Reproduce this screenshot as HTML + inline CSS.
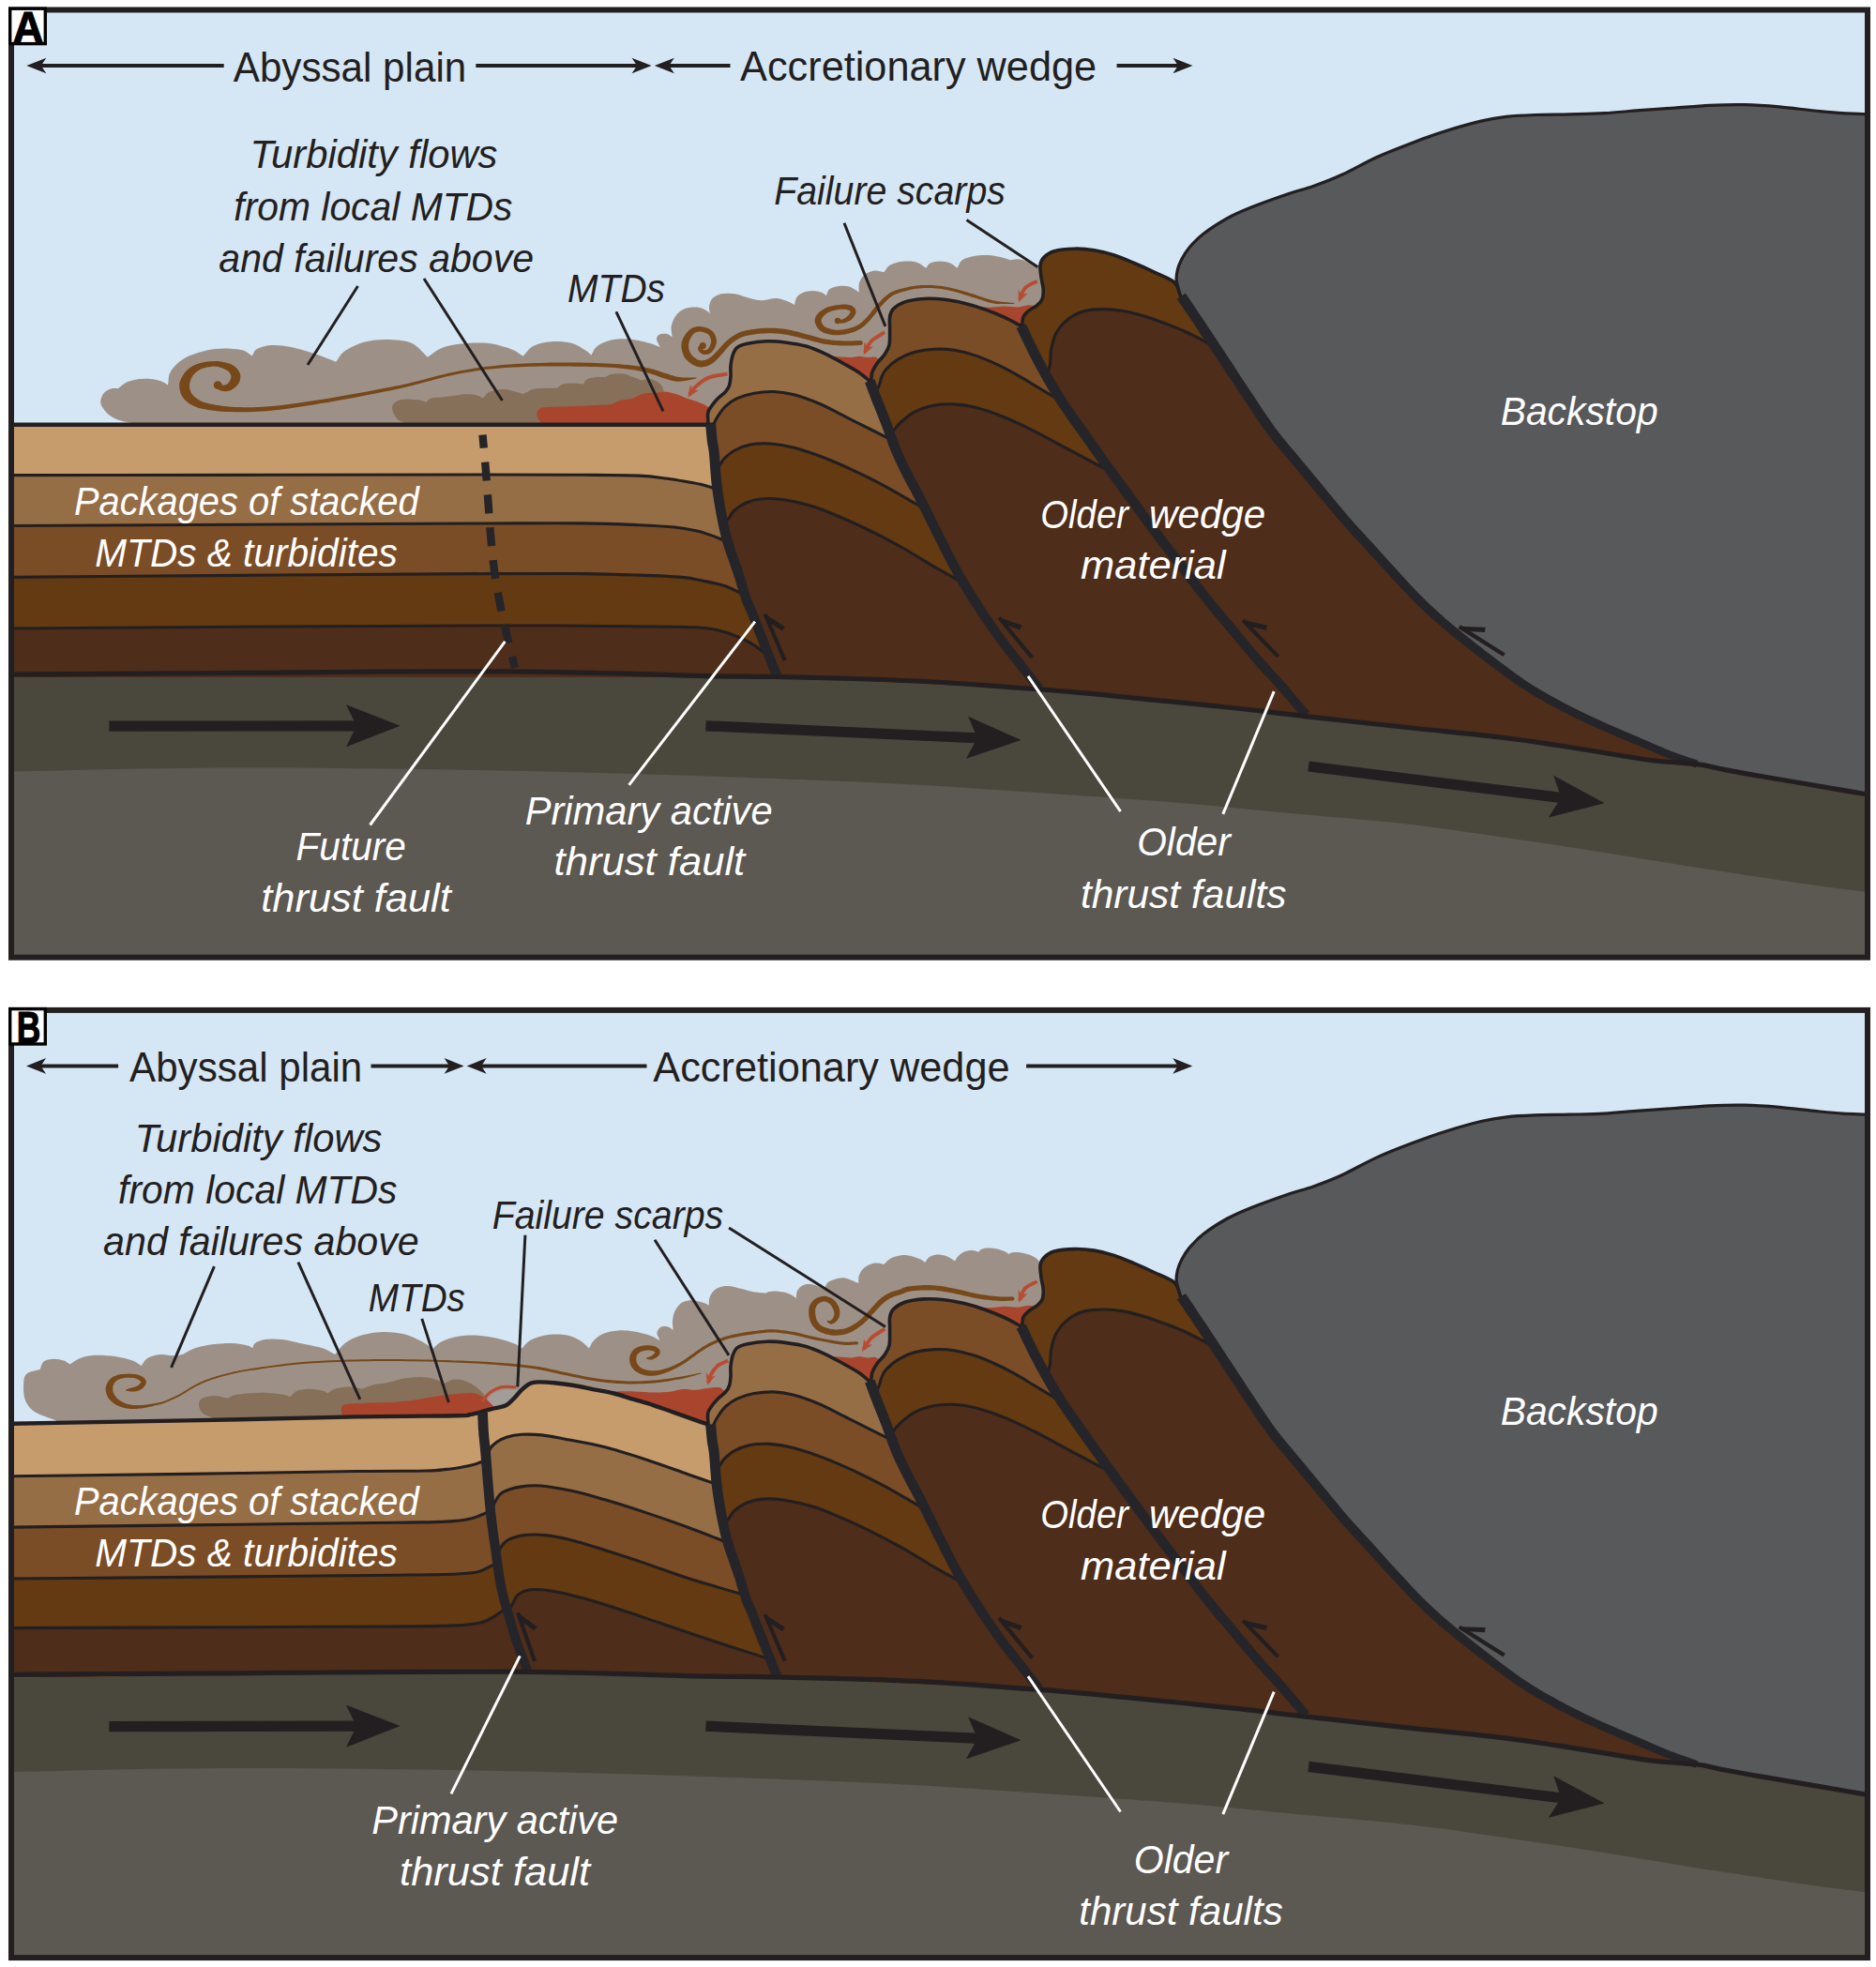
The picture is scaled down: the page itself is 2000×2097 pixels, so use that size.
<!DOCTYPE html>
<html><head><meta charset="utf-8"><title>Accretionary wedge</title>
<style>html,body{margin:0;padding:0;background:#fff}svg{display:block}text{font-family:"Liberation Sans",sans-serif}</style></head><body>
<svg width="2000" height="2097" viewBox="0 0 2000 2097">
<rect width="2000" height="2097" fill="#fff"/>
<g id="panelA">
<rect x="12" y="10" width="1979" height="1011" fill="#d5e6f5"/>
<path d="M12 719C44.7 718.8 67 718.6 110 718.3C153 718 221.7 717.6 270 717.3C318.3 716.9 355 716.5 400 716.2C445 716 500 715.6 540 715.8C580 716 606.7 716.7 640 717.5C673.3 718.3 709.2 719.7 740 720.4C770.8 721.1 796.7 721 825 721.5C853.3 722 881.5 722.6 910 723.5C938.5 724.4 967.5 725.4 996 727C1024.5 728.6 1057 731.3 1081 733C1105 734.7 1119.2 735.6 1140 737.4C1160.8 739.2 1177.2 740.9 1206 743.8C1234.8 746.6 1281.8 751.2 1313 754.5C1344.2 757.8 1361.8 760.3 1393 763.8C1424.2 767.3 1465.5 771.8 1500 775.5C1534.5 779.2 1573.3 782.8 1600 786C1626.7 789.2 1640.2 791.5 1660 794.5C1679.8 797.5 1701.7 801.2 1719 804C1736.3 806.8 1749 809.2 1764 811C1779 812.8 1796.5 813 1809 814.6C1821.5 816.2 1827.2 818.4 1839 820.6C1850.8 822.8 1864.8 825.4 1880 828C1895.2 830.6 1911.5 833.3 1930 836.5C1948.5 839.7 1970.7 843.5 1991 847L1991 1021L12 1021Z" fill="#4a473d"/>
<path d="M12 822.5C79 821.3 144 819.2 213 818.8C282 818.3 354.8 818.9 426 819.8C497.2 820.7 568.8 822.1 640 824C711.2 825.9 793 828.7 853 831C913 833.3 940 834.4 1000 838C1060 841.6 1163 848.9 1213 852.5C1263 856.1 1273.3 857.3 1300 859.7C1326.7 862.1 1339.7 863.7 1373 866.8C1406.3 869.9 1461 874.1 1500 878.5C1539 882.9 1571.5 888.1 1607 893.2C1642.5 898.3 1677.5 903.7 1713 909.2C1748.5 914.8 1784.5 921 1820 926.5C1855.5 932 1897.5 938.4 1926 942.5C1954.5 946.6 1969.3 948.2 1991 951L1991 1021L12 1021Z" fill="#5c5852"/>
<path d="M150 453C140.7 450.7 129 449.5 122 446C115 442.5 110 436.3 108 432C106 427.7 108.3 422.9 110 420C111.7 417.1 115.8 415.6 118.4 414.6C121 413.6 123.3 414.3 125.8 414.2C128.9 412 131.6 409.1 135 407.5C138.4 405.9 141.8 405 146.1 404.4C150.4 403.8 156.7 403.6 161 404C165.3 404.4 169 405.4 172 406.5C175 407.6 176.7 409.1 179 410.4C180.1 405.4 178.9 400.4 182.3 395.4C185.7 390.4 191.6 384.4 199.4 380.5C207.2 376.6 219.7 373.2 229.3 372C238.9 370.8 250.4 371.8 257 373C263.6 374.2 264.8 377.3 268.7 379.4C270.5 376.9 270.6 373.9 274 372C277.4 370.1 282.9 368.4 289 368C295.1 367.6 302.5 368.3 310.3 369.9C318.1 371.4 327.9 374.6 335.9 377.3C343.9 380 350.8 383 358.2 385.8C361.4 381.9 362.6 377.7 367.8 374.1C373 370.6 381.7 366.5 389.2 364.5C396.7 362.5 404.4 361.8 412.6 362C420.8 362.2 431 362.5 438.2 365.6C445.4 368.7 450.1 375.7 456 380.7C460.8 377.5 464.4 373.6 470.4 371.2C476.3 368.8 483.5 367.4 491.7 366.5C499.9 365.6 510.5 364.9 519.4 365.8C528.3 366.8 538.6 369.9 545 372.2C551.4 374.5 553.5 377.2 557.8 379.7C561.3 376.1 563.4 371.6 568.4 369C573.4 366.4 580.8 364.8 587.6 364.3C594.4 363.8 603 364.3 609 365.8C615 367.3 620.4 371.2 623.9 373.3C627.4 375.4 628.2 376.8 630.3 378.6C632.4 375.4 633.2 371.7 636.7 369C640.2 366.3 645.9 363.8 651.6 362.6C657.3 361.4 664 361.1 670.8 361.6C677.5 362.1 686.6 364.4 692.1 365.8C697.6 367.2 699.9 368.7 703.8 370.1C702.5 367.4 700.2 364.2 700 362C699.8 359.8 701 357.7 702.8 356.7C704.5 355.7 708.2 355.4 710.5 355.8C712.8 356.2 714.5 358.1 716.5 359.3C716.3 355.3 715 351.3 715.8 347.4C716.5 343.5 718.5 339.1 721 336C723.5 332.9 726.6 330.5 730.5 329.1C734.4 327.7 740.6 327.4 744.4 327.7C748.2 328 751.3 330 753.4 331.2C755.5 332.4 755.7 333.5 756.8 334.7C756.6 331.9 755.6 329.1 756.1 326.3C756.6 323.5 757.4 320.2 759.6 318C761.8 315.8 765.4 314 769.3 313.2C773.2 312.4 778.6 312.5 783.2 313.2C787.8 313.9 792.6 316.1 797 317.3C801.4 318.5 806 319.8 809.5 320.1C813 320.5 815 319.6 817.8 319.4C821 318.9 824 317.8 827.5 318C831 318.2 835.4 319.7 838.6 320.8C841.8 321.9 844.1 323.5 846.9 324.9C847.8 322.1 848.1 318.8 849.7 316.6C851.3 314.4 853.8 312.9 856.6 311.8C859.4 310.7 863.1 310 866.3 310C869.5 310 873.6 310.9 876 311.8C878.4 312.7 879.3 314.1 880.9 315.2C882 312.9 882.1 310 884.3 308.3C886.5 306.6 890.5 305.4 894 304.9C897.5 304.4 902.1 304.8 905.1 305.5C908.1 306.2 910.2 308 912 309C913.8 310 914.5 310.7 915.7 311.5C915.8 308.3 915.1 304.8 916 301.8C916.9 298.8 918.6 295.5 921.3 293.3C924 291.1 928.5 289.1 932 288.6C935.5 288.1 939.1 289.6 942.6 290.1C944.7 287.6 945.8 284.5 949 282.6C952.2 280.7 957.2 279.3 961.8 278.8C966.4 278.3 972.5 278.2 976.8 279.4C981.1 280.6 983.9 283.7 987.4 285.8C988.8 284 989.2 281.7 991.7 280.5C994.2 279.3 998.8 278.4 1002.3 278.4C1005.8 278.4 1010 279.3 1013 280.5C1016 281.7 1018 284 1020.5 285.8C1022.3 283 1022.8 279.4 1025.8 277.3C1028.8 275.2 1034 273.9 1038.6 273C1043.2 272.1 1048.9 271.8 1053.5 272C1058.1 272.2 1062.4 273.2 1066.3 274.1C1070.2 275 1073.4 276.2 1077 277.3C1079.8 276.9 1082.3 275.9 1085.5 276.2C1088.7 276.5 1092.5 277.8 1096.2 279.4C1099.9 281 1104 283.7 1107.9 285.8L1115 300L1115 460L150 460Z" fill="#9d9187"/>
<path d="M440 453C435 451.3 428.6 450.8 425 448C421.4 445.2 418.7 439.4 418.1 436.2C417.5 433 419 430.5 421.3 428.7C423.6 426.9 427.7 425.9 432 425.5C436.3 425.1 443.2 426.1 446.9 426.6C450.6 427.1 451.9 428 454.4 428.7C456.2 427.3 457 425.4 459.7 424.5C462.4 423.6 466.8 423.8 470.4 423.4C473.9 423 476.8 422.8 481 422.3C485.2 421.8 491.6 420.4 495.9 420.2C500.2 420 503.8 420.3 507 421C510.2 421.7 512.4 423.3 515.1 424.5C517.2 422.4 517.9 419.7 521.5 418.1C525.1 416.5 531.5 414.9 536.5 414.9C541.5 414.9 547.9 417.2 551.4 418.1C554.9 419 555.7 419.5 557.8 420.2C561.3 418.4 564.1 416 568.4 414.9C572.7 413.8 579.1 414 583.4 413.8C587.7 413.6 590.5 413.8 594 413.8C596.1 412.4 597.5 410.5 600.4 409.6C603.2 408.7 607.5 408.5 611.1 408.5C614.7 408.5 618.2 409.2 621.7 409.6C623.1 407.8 623.5 405.4 626 404.2C628.5 402.9 633.5 402.5 636.7 402.1C639.9 401.8 642.4 402.1 645.2 402.1C647.3 401 648.4 399.5 651.6 398.9C654.8 398.3 660.5 398 664.4 398.5C668.3 399 671.9 401 675.1 402.1C678.3 403.2 680.8 404.2 683.6 405.3C687.1 404.9 691 403.7 694.2 404.2C697.4 404.7 700.7 406.7 702.8 408.5C704.9 410.3 706 412.1 707 414.9C708 417.6 708.3 421.6 709 425L709 456L440 456Z" fill="#86705a"/>
<path d="M579 453C576.8 450 573.2 446.8 572.5 444C571.8 441.2 573 437.8 574.8 436.2C576.6 434.6 577 434.6 583.4 434.1C589.8 433.6 604.7 433.4 613.2 433C621.7 432.6 628.1 432.2 634.5 431.9C640.9 431.5 647 431.8 651.6 430.9C656.2 430 658.4 427.7 662.3 426.6C666.2 425.5 671.5 425.6 675.1 424.5C678.7 423.4 679.7 421.2 683.6 420.2C687.5 419.2 693.9 419 698.5 418.6C703.1 418.2 706.6 417.3 711 417.8C715.4 418.3 721.3 420.5 725 421.7C728.7 422.9 729.8 423.8 733.3 425C736.8 426.2 742.1 427.8 745.7 429.2C749.3 430.6 752.3 431.9 754.7 433.7C757.1 435.5 758.2 437.9 760 440L760 456L579 456Z" fill="#a9452c"/>
<path d="M886 379.5L896.8 380.4L907.9 381.1L916.2 379.7L924.5 381.1L932.8 380.4L938.4 383.2L946 383L946 412L900 412Z" fill="#a9452c"/>
<path d="M1042 327L1055.7 327.8L1070.6 326.4L1085.5 327.4L1096.2 325.3L1104 326L1104 352L1060 352Z" fill="#a9452c"/>
<path d="M230.4 413L230.8 413.3L231.2 413.7L231.7 414.1L232.2 414.6L232.9 415.2L233.7 415.7L234.7 416.2L235.8 416.5L236.8 416.8L237.9 417L238.9 417.1L240.1 417.2L241.3 417.2L242.5 417.1L243.8 416.8L245.1 416.4L246.3 415.9L247.5 415.3L248.6 414.6L249.7 413.8L250.8 412.9L251.7 412L252.7 411L253.5 410L254.2 409L254.8 407.9L255.3 406.7L255.8 405.4L256.1 404.1L256.4 402.7L256.4 401.2L256.3 399.6L255.9 398.2L255.3 396.9L254.6 395.6L253.8 394.4L252.9 393.2L252 392.2L250.9 391.2L249.7 390.2L248.5 389.4L247.1 388.7L245.8 388.1L244.4 387.6L243 387.2L241.6 386.8L240.3 386.5L238.9 386.2L237.6 385.9L236.3 385.6L234.9 385.4L233.5 385.2L232.1 385.1L230.6 385L229 385.1L227.4 385.2L225.6 385.2L223.8 385.3L221.8 385.5L219.8 385.7L217.7 386L215.7 386.4L213.7 386.9L211.9 387.5L210.1 388L208.4 388.7L206.7 389.5L205.1 390.3L203.6 391.3L202.1 392.3L200.7 393.4L199.3 394.7L198 396.1L196.8 397.6L195.6 399.2L194.5 400.9L193.6 402.6L192.7 404.4L192 406.2L191.4 408L191.2 409.9L191.2 411.8L191.3 413.6L191.6 415.4L192 417.1L192.5 418.8L193.1 420.3L193.8 421.8L194.7 423.3L195.7 424.6L196.7 425.9L197.9 427.1L199.2 428.3L200.6 429.3L202 430.4L203.5 431.3L205 432.1L206.5 432.8L208.2 433.6L209.9 434.3L211.9 435L214.1 435.6L216.5 436.1L219.3 436.6L222.3 437.1L225.7 437.6L229.3 438L233.2 438.4L237.2 438.7L241.5 439L246 439.1L250.5 439.2L255.2 439.3L259.9 439.3L264.8 439.2L269.9 439.1L275.2 438.8L280.9 438.4L287 437.9L293.4 437.3L300.5 436.5L308 435.4L316 434.3L324.2 433L332.6 431.7L341 430.3L349.4 428.9L357.5 427.5L365.8 426L374.5 424.4L383.3 422.7L392.1 421L400.5 419.4L408.4 417.8L415.4 416.4L421.3 415.2L425.9 414.2L429.2 413.5L431.6 413L433.5 412.5L435.2 412L437.1 411.5L439.6 410.9L443 410L447.3 408.9L452.2 407.6L457.5 406.2L463 404.7L468.7 403.2L474.5 401.7L480.1 400.4L485.6 399.2L490.9 398.2L496.2 397.3L501.5 396.4L506.8 395.6L512.1 394.8L517.4 394.1L522.7 393.5L528.1 392.9L533.4 392.5L538.7 392.1L544 391.7L549.3 391.4L554.7 391.2L560 391L565.3 390.8L570.7 390.7L576 390.6L581.3 390.5L586.6 390.5L591.9 390.5L597.2 390.5L602.5 390.5L607.9 390.6L613.2 390.7L618.6 390.8L624.1 390.8L629.6 390.9L635.2 391.1L640.6 391.2L645.9 391.4L651 391.7L655.8 392L660.3 392.4L664.7 392.9L668.9 393.4L672.9 394L676.7 394.6L680.4 395.3L683.9 395.9L687.3 396.6L690.4 397.4L693.3 398.2L696.1 399.2L698.7 400.1L701.2 401L703.6 402L706 402.8L708.4 403.6L710.5 404.1L712.5 404.7L714.3 405.2L716.1 405.7L717.9 406.1L719.8 406.4L721.8 406.7L724 406.8L726.2 406.6L728.5 406.3L730.9 406L733.2 405.5L735.5 405L737.9 404.5L740.2 404L742.5 403.6L742.3 402.4L740 402.4L737.6 402.4L735.2 402.5L732.9 402.5L730.6 402.5L728.3 402.5L726.2 402.3L724.2 402L722.4 401.8L720.7 401.4L719.1 401L717.6 400.5L715.9 400L714.1 399.4L712.2 398.7L710 398L707.8 397.4L705.5 396.7L703 395.8L700.4 395L697.7 394.1L694.8 393.3L691.6 392.5L688.3 391.8L684.8 391.1L681.2 390.6L677.4 390L673.5 389.5L669.4 389.1L665.1 388.7L660.7 388.3L656 388L651.2 387.7L646.1 387.4L640.7 387.2L635.3 387L629.7 386.8L624.2 386.7L618.6 386.6L613.2 386.5L607.9 386.5L602.6 386.5L597.2 386.5L591.9 386.6L586.6 386.6L581.2 386.8L575.9 386.9L570.5 387.1L565.2 387.3L559.9 387.5L554.5 387.8L549.2 388.1L543.8 388.4L538.4 388.8L533.1 389.3L527.7 389.9L522.4 390.5L517.1 391.1L511.7 391.8L506.4 392.6L501 393.4L495.7 394.4L490.4 395.3L485 396.4L479.5 397.5L473.8 398.9L468 400.3L462.3 401.8L456.7 403.3L451.4 404.7L446.5 405.9L442.2 407L438.8 407.8L436.3 408.5L434.4 408.9L432.7 409.3L430.9 409.8L428.5 410.3L425.2 410.9L420.7 411.8L414.7 413L407.7 414.3L399.8 415.8L391.4 417.4L382.6 419L373.8 420.6L365.1 422.1L356.9 423.5L348.7 424.9L340.4 426.2L331.9 427.5L323.6 428.8L315.3 430L307.4 431L299.9 432L293 432.7L286.6 433.3L280.6 433.7L275 434L269.7 434.2L264.7 434.2L259.9 434.2L255.2 434.1L250.7 434L246.2 433.7L241.9 433.3L237.8 432.9L233.9 432.3L230.2 431.7L226.7 431.1L223.6 430.4L220.7 429.8L218.3 429.1L216.3 428.4L214.6 427.7L213.2 427L211.9 426.2L210.8 425.5L209.6 424.6L208.5 423.7L207.4 422.9L206.5 422.1L205.7 421.3L205.1 420.5L204.5 419.7L204 418.8L203.6 418L203.2 417.2L202.8 416.3L202.5 415.4L202.3 414.5L202.1 413.5L202 412.6L202 411.7L202 410.8L202.2 410L202.2 409L202.5 407.8L202.8 406.5L203.2 405.2L203.8 403.8L204.4 402.6L205 401.4L205.7 400.3L206.5 399.3L207.3 398.4L208.2 397.4L209.3 396.6L210.4 395.7L211.6 395L212.8 394.2L214.1 393.5L215.6 393L217.2 392.5L218.9 392L220.7 391.6L222.6 391.3L224.4 391L226.1 390.8L227.6 390.6L229 390.7L230.3 390.8L231.5 390.9L232.6 391.1L233.8 391.4L234.9 391.7L236 392L237.1 392.4L238.2 392.9L239.3 393.4L240.4 393.9L241.4 394.5L242.3 395L243.1 395.6L243.8 396.2L244.3 396.8L244.7 397.3L245.1 397.9L245.5 398.6L245.8 399.3L246.1 399.9L246.2 400.5L246.3 401L246.3 401.4L246.3 401.6L246.4 401.9L246.4 402.3L246.3 402.8L246.2 403.3L246 403.8L245.7 404.4L245.5 405L245.2 405.5L244.9 406.2L244.4 406.9L243.9 407.5L243.4 408.2L242.9 408.7L242.3 409.2L241.9 409.6L241.5 409.9L241 410.1L240.4 410.3L239.7 410.5L239 410.6L238.3 410.6L237.7 410.7L237.2 410.7L236.9 410.6L236.7 410.5L236.5 410.3L236.1 410L235.7 409.7L235.2 409.2L234.6 408.7L234 408.2Z" fill="#774819"/>
<circle cx="232.2" cy="410.6" r="4.4" fill="#774819"/>
<path d="M748 367L747.6 367.3L747.2 367.6L746.6 367.9L746 368.3L745.4 368.8L744.7 369.4L744.2 370.4L744 371.7L744.2 372.7L744.6 373.6L745.2 374.4L745.8 375.3L746.6 376L747.4 376.7L748.4 377.3L749.5 377.7L750.6 377.9L751.7 377.9L752.9 377.9L754.1 377.7L755.3 377.4L756.5 376.9L757.7 376.2L758.9 375.3L759.8 374.3L760.7 373.1L761.5 371.8L762.2 370.4L762.9 368.8L763.4 367.3L763.8 365.7L764 364L763.9 362.5L763.6 360.9L763.2 359.3L762.6 357.8L761.9 356.3L761 354.9L760 353.6L758.8 352.4L757.4 351.4L755.9 350.6L754.3 349.8L752.6 349.3L750.9 348.8L749.3 348.4L747.6 348.2L746.1 348.1L744.6 348.1L743.2 348.1L741.7 348.4L740.3 348.7L738.9 349.2L737.5 349.9L736.1 350.7L734.9 351.7L733.6 352.9L732.4 354.3L731.2 355.8L730.1 357.4L729 359.2L728.1 361L727.3 362.9L726.7 364.8L726.5 366.7L726.4 368.7L726.5 370.7L726.8 372.6L727.2 374.5L727.7 376.3L728.4 378.1L729.1 379.8L730.1 381.4L731.3 382.9L732.6 384.2L733.9 385.4L735.3 386.5L736.6 387.5L737.9 388.4L739.2 389.1L740.4 389.8L741.7 390.3L742.9 390.8L744.2 391.1L745.5 391.3L746.8 391.4L748 391.4L749.3 391.3L750.6 391.1L751.9 390.8L753.3 390.4L754.6 390L755.9 389.4L757.2 388.8L758.5 388L759.8 387.2L761.1 386.3L762.3 385.2L763.5 384.1L764.7 382.9L765.8 381.7L767 380.5L768.1 379.3L769.2 378.1L770.3 376.8L771.5 375.5L772.6 374.1L773.7 372.8L774.7 371.5L775.8 370.3L776.9 369.1L777.9 368.1L779.1 367.1L780.2 366.1L781.4 365.1L782.6 364.2L783.7 363.4L784.9 362.6L786.1 361.9L787.3 361.2L788.5 360.5L789.7 360L790.7 359.5L791.8 359.1L793 358.7L794.3 358.3L795.8 357.9L797.5 357.5L799.6 357.2L801.9 356.8L804.5 356.4L807.1 356.1L809.8 355.8L812.6 355.6L815.3 355.4L817.9 355.3L820.4 355.3L822.9 355.3L825.5 355.4L828 355.6L830.5 355.8L833.1 356.1L835.6 356.4L838.2 356.8L840.7 357.2L843.2 357.7L845.7 358.3L848.3 358.9L850.9 359.6L853.5 360.3L856.1 361L858.7 361.6L861.3 362.3L863.9 363L866.5 363.7L869.1 364.4L871.7 365.1L874.4 365.8L877.1 366.4L879.8 366.9L882.5 367.3L885.2 367.6L888 367.9L890.7 368.1L893.4 368.2L896 368.4L898.5 368.5L900.9 368.5L903.2 368.6L905.4 368.6L907.5 368.5L909.5 368.4L911.5 368.3L913.4 368.2L915.3 368.1L917.3 368L917.1 363L915.1 363.1L913.1 363.2L911.2 363.3L909.3 363.4L907.3 363.4L905.3 363.5L903.3 363.5L901.1 363.5L898.7 363.4L896.2 363.3L893.7 363.1L891.1 362.9L888.4 362.7L885.8 362.5L883.2 362.1L880.6 361.7L878.1 361.2L875.6 360.7L873.1 360L870.5 359.3L867.9 358.6L865.3 357.8L862.7 357.1L860.1 356.4L857.5 355.7L854.9 355L852.3 354.3L849.7 353.6L847.1 352.9L844.4 352.3L841.7 351.7L839 351.2L836.4 350.8L833.7 350.5L831.1 350.2L828.4 350L825.7 349.8L823.1 349.7L820.4 349.7L817.7 349.7L815 349.8L812.2 350L809.3 350.2L806.5 350.5L803.7 350.9L801.1 351.3L798.7 351.7L796.5 352.1L794.5 352.5L792.8 352.9L791.3 353.3L789.9 353.8L788.5 354.3L787.2 354.9L786 355.5L784.7 356.2L783.3 357L781.9 357.9L780.5 358.7L779.2 359.7L777.9 360.7L776.6 361.7L775.3 362.8L774.1 363.9L772.8 365.1L771.5 366.4L770.4 367.7L769.2 369L768.1 370.3L767 371.6L765.9 372.8L764.8 373.9L763.7 375.1L762.5 376.2L761.4 377.4L760.3 378.5L759.2 379.5L758.2 380.4L757.2 381.1L756.2 381.8L755.2 382.4L754.2 382.8L753.3 383.3L752.3 383.6L751.3 383.9L750.4 384.1L749.5 384.2L748.7 384.3L747.9 384.4L747.1 384.3L746.4 384.3L745.7 384.1L745 383.9L744.3 383.7L743.6 383.3L742.8 382.9L741.9 382.3L740.9 381.6L739.8 380.8L738.8 379.9L737.9 379L737 378L736.4 377.1L735.9 376.2L735.4 375.2L735 374L734.6 372.7L734.3 371.3L734.2 370L734.1 368.6L734.1 367.3L734.3 366.2L734.5 365.1L734.9 363.8L735.4 362.3L736.1 360.9L736.8 359.5L737.6 358.3L738.4 357.1L739.1 356.3L739.8 355.6L740.6 355L741.3 354.6L742.1 354.2L743 353.9L743.9 353.7L744.9 353.6L745.9 353.5L747 353.6L748.3 353.8L749.6 354.1L751 354.5L752.3 354.9L753.5 355.5L754.5 356L755.2 356.6L755.8 357.2L756.3 358L756.8 358.9L757.3 360L757.6 361L757.9 362.1L758 363.1L758 364L758 364.8L757.8 365.8L757.5 366.9L757.1 368.1L756.6 369.2L756.1 370.2L755.6 371.1L755.1 371.7L754.7 372.1L754.2 372.4L753.6 372.7L752.9 373L752.2 373.2L751.5 373.3L750.9 373.3L750.5 373.3L750.2 373.2L749.8 373.1L749.4 372.8L748.9 372.4L748.5 371.9L748.2 371.5L748 371.2L748 371.3L747.9 371.8L747.8 372L748 371.9L748.3 371.6L748.8 371.3L749.3 371L749.9 370.6L750.4 370.2Z" fill="#774819"/>
<circle cx="749.2" cy="368.6" r="3.6" fill="#774819"/>
<circle cx="917.2" cy="365.5" r="2.5" fill="#774819"/>
<path d="M892.7 344L893.3 344.1L893.9 344.2L894.5 344.3L895.2 344.5L896.1 344.6L897 344.7L898 344.6L899 344.4L900 344.2L901.1 343.9L902.3 343.5L903.5 343L904.6 342.5L905.8 341.9L906.9 341.2L907.9 340.5L908.8 339.6L909.6 338.7L910.3 337.7L911 336.7L911.6 335.6L912.1 334.4L912.4 333.1L912.5 331.8L912.2 330.4L911.7 329.3L911 328.3L910.1 327.4L909.2 326.7L908.1 326.1L907 325.5L905.8 325.2L904.5 324.9L903.1 324.7L901.7 324.6L900.1 324.6L898.6 324.6L896.9 324.7L895.3 324.9L893.7 325.1L892 325.3L890.2 325.6L888.4 325.9L886.4 326.3L884.5 326.8L882.6 327.3L880.8 328L879.1 328.9L877.5 329.8L875.9 330.9L874.4 332.1L872.9 333.3L871.6 334.7L870.4 336.3L869.4 338L868.8 339.9L868.6 341.8L868.9 343.7L869.4 345.6L870.2 347.3L871.1 348.9L872.3 350.5L873.6 351.9L875.1 353.1L876.8 354.1L878.6 354.9L880.6 355.6L882.6 356.2L884.7 356.6L886.7 356.9L888.8 357.2L890.8 357.3L892.9 357.3L894.9 357.2L897 357L899.1 356.7L901.1 356.4L903 355.9L904.9 355.5L906.7 355L908.4 354.5L910 354L911.6 353.4L913.1 352.7L914.6 352L916 351.3L917.4 350.4L918.8 349.5L920.2 348.5L921.5 347.4L922.8 346.3L924 345.1L925.2 343.9L926.4 342.6L927.5 341.4L928.7 340L929.9 338.6L931.2 337.1L932.4 335.5L933.5 333.9L934.7 332.4L935.9 330.8L937 329.4L938.2 328L939.4 326.6L940.6 325.2L941.9 323.9L943.1 322.6L944.3 321.3L945.5 320.2L946.7 319.1L947.8 318.1L948.9 317.3L949.8 316.5L950.6 315.9L951.4 315.3L952.3 314.8L953.3 314.3L954.5 313.8L956 313.2L957.9 312.5L960 311.8L962.2 311.1L964.7 310.4L967.2 309.7L969.8 309.1L972.3 308.5L974.8 308.1L977.4 307.8L979.9 307.5L982.6 307.3L985.2 307.1L987.9 307.1L990.6 307.1L993.3 307.1L995.9 307.2L998.5 307.5L1001.1 307.8L1003.8 308.1L1006.4 308.6L1009 309.1L1011.7 309.6L1014.3 310.2L1016.9 310.8L1019.6 311.5L1022.2 312.2L1024.8 313L1027.5 313.9L1030.1 314.7L1032.8 315.6L1035.4 316.4L1038.1 317.3L1040.8 318.1L1043.4 319L1046.1 319.8L1048.8 320.7L1051.4 321.6L1054.2 322.4L1056.9 323.1L1059.6 323.6L1062.4 323.9L1065.1 324.1L1067.8 324.1L1070.5 324.1L1073.2 324.1L1075.9 324L1078.5 324L1081.2 324L1081.2 323L1078.6 322.7L1075.9 322.5L1073.2 322.3L1070.6 322.1L1068 321.8L1065.3 321.5L1062.7 321.1L1060.2 320.6L1057.6 320L1055 319.3L1052.4 318.5L1049.7 317.7L1047.1 316.8L1044.4 315.9L1041.8 315L1039.1 314.1L1036.4 313.3L1033.8 312.5L1031.1 311.6L1028.4 310.8L1025.8 310L1023.1 309.2L1020.4 308.5L1017.7 307.8L1015 307.2L1012.3 306.6L1009.6 306L1006.9 305.5L1004.2 305.1L1001.5 304.7L998.8 304.4L996.1 304.2L993.4 304L990.6 303.9L987.9 303.9L985.1 304L982.4 304.1L979.7 304.3L977 304.6L974.4 304.9L971.7 305.3L969.1 305.8L966.4 306.4L963.8 307L961.3 307.7L958.9 308.3L956.7 309L954.8 309.6L953.1 310.2L951.7 310.8L950.5 311.3L949.3 311.9L948.3 312.6L947.3 313.2L946.3 314L945.2 314.9L943.9 315.9L942.6 317L941.3 318.3L940 319.5L938.7 320.9L937.4 322.2L936.1 323.6L934.8 325L933.5 326.5L932.3 328L931.1 329.6L929.9 331.2L928.7 332.8L927.6 334.3L926.4 335.7L925.3 337L924.1 338.2L923 339.5L921.8 340.6L920.7 341.8L919.6 342.8L918.5 343.8L917.3 344.7L916.2 345.5L914.9 346.3L913.7 346.9L912.4 347.6L911.1 348.1L909.8 348.7L908.4 349.1L906.9 349.6L905.3 350L903.7 350.4L901.9 350.8L900.1 351.1L898.3 351.4L896.4 351.6L894.6 351.7L892.8 351.8L891.2 351.7L889.5 351.5L887.7 351.2L885.9 350.8L884.1 350.3L882.5 349.8L881.1 349.2L879.8 348.5L878.9 347.9L878.2 347.2L877.4 346.3L876.8 345.4L876.2 344.3L875.9 343.3L875.6 342.4L875.6 341.7L875.6 341.1L875.7 340.6L876.1 339.8L876.7 338.8L877.5 337.7L878.5 336.6L879.6 335.5L880.8 334.6L881.9 333.7L883.1 333L884.5 332.4L886.1 331.8L887.7 331.3L889.4 330.9L891.1 330.5L892.8 330.2L894.3 329.9L895.8 329.7L897.2 329.7L898.6 329.7L900 329.7L901.3 329.8L902.4 330L903.4 330.2L904.2 330.4L904.9 330.7L905.4 331L905.9 331.3L906.2 331.6L906.4 331.9L906.5 332.1L906.5 332.2L906.5 332.2L906.5 332.3L906.5 332.6L906.3 333.2L906 333.9L905.6 334.6L905.1 335.3L904.6 335.9L904.1 336.5L903.6 337.1L902.9 337.6L902.1 338.2L901.3 338.8L900.4 339.4L899.5 339.8L898.7 340.3L898 340.6L897.5 340.7L897 340.7L896.5 340.7L896 340.6L895.4 340.4L894.8 340.3L894 340.1L893.3 340Z" fill="#774819"/>
<circle cx="893" cy="342" r="3.2" fill="#774819"/>
<path d="M775.5 398.7C768.8 400 761 400.3 755.4 402.6C749.8 404.9 745 409.2 741.6 412.3C738.2 415.4 737.2 418.1 735 421" fill="none" stroke="#b84c33" stroke-width="3.9"/>
<path d="M733.3 423.5L744.8 416.2L738.4 416L735.9 410.1Z" fill="#b84c33"/>
<path d="M943.2 354.1C938.4 357.3 932.2 360.2 928.7 363.8C925.2 367.4 924.2 371.6 922 375.5" fill="none" stroke="#b84c33" stroke-width="3.9"/>
<path d="M920.7 378.2L931 369.4L924.7 370.1L921.4 364.6Z" fill="#b84c33"/>
<path d="M1105.8 299.7C1101.5 302.1 1096.1 303.7 1093 307C1089.9 310.3 1089 315.3 1087 319.5" fill="none" stroke="#b84c33" stroke-width="3.9"/>
<path d="M1085.9 322.3L1095.6 312.7L1089.3 313.9L1085.6 308.7Z" fill="#b84c33"/>
<clipPath id="plainA"><path d="M12 452.3L757.6 452.3C758.2 458 758.7 464.9 759.3 470C759.9 475.1 760.5 474.9 761.3 482.6C762.1 490.3 762.8 505.4 764.1 516.3C765.4 527.2 767.1 537.8 769 548C770.9 558.2 772.6 566.9 775.6 577.3C778.6 587.7 783.6 600.4 786.9 610.6C790.2 620.8 792.9 631.2 795.4 638.3C797.9 645.4 798.8 645.6 801.8 653.2C804.8 660.8 809.7 673.8 813.7 684C817.7 694.2 823.4 708.2 825.9 714.5C828.4 720.8 828 719.5 829 722L12 722Z"/></clipPath>
<g clip-path="url(#plainA)">
<rect x="12" y="452" width="830" height="275" fill="#c69c6c"/>
<path d="M12 506.6C108 506.5 215.3 506.4 300 506.3C384.7 506.2 466.7 506 520 506C573.3 506 593.2 506.1 620 506.3C646.8 506.5 665.8 506.5 681 507.1C696.2 507.8 702.6 509.1 711.5 510.2C720.4 511.3 728 512.9 734.4 514C740.8 515.1 744.8 515.8 749.6 517C754.4 518.2 758.5 519.7 763 521L2000 521L2000 740L2 740Z" fill="#966e46"/>
<path d="M12 560.5C108 560 215.3 559.4 300 559C384.7 558.6 466.7 558.2 520 558C573.3 557.8 593.2 557.6 620 557.9C646.8 558.2 664.5 559 681 559.7C697.5 560.4 708.9 561 719.1 562C729.3 563 735.6 564.4 742 565.8C748.4 567.2 752.3 568.7 757.3 570.4C762.3 572.1 767.1 574.1 772 576L2000 576L2000 740L2 740Z" fill="#7a4d27"/>
<path d="M12 615.4C108 614.6 215.3 613.6 300 613C384.7 612.4 466.7 611.8 520 611.6C573.3 611.4 593.2 611.4 620 611.6C646.8 611.9 663.2 612.5 681 613.1C698.8 613.7 715.4 614.4 726.8 615.4C738.2 616.4 742 617.7 749.6 619.2C757.2 620.7 765.8 622.3 772.5 624.5C779.2 626.7 784.2 629.8 790 632.5L2000 632.5L2000 740L2 740Z" fill="#633a11"/>
<path d="M12 670C108 669.3 215.3 668.5 300 668C384.7 667.5 466.7 667.1 520 667C573.3 666.9 590.6 667 620 667.2C649.4 667.4 676 667.7 696.3 668C716.6 668.3 730.6 668.2 742 668.8C753.4 669.4 757.3 670 764.9 671.8C772.5 673.6 781.4 676.8 787.8 679.4C794.1 682 797.8 683.8 803 687.1C808.2 690.4 813.7 695 819 699L2000 699L2000 740L2 740Z" fill="#4e2d1a"/>
<path d="M12 506.6C108 506.5 215.3 506.4 300 506.3C384.7 506.2 466.7 506 520 506C573.3 506 593.2 506.1 620 506.3C646.8 506.5 665.8 506.5 681 507.1C696.2 507.8 702.6 509.1 711.5 510.2C720.4 511.3 728 512.9 734.4 514C740.8 515.1 744.8 515.8 749.6 517C754.4 518.2 758.5 519.7 763 521" fill="none" stroke="#231f20" stroke-width="3.1"/>
<path d="M12 560.5C108 560 215.3 559.4 300 559C384.7 558.6 466.7 558.2 520 558C573.3 557.8 593.2 557.6 620 557.9C646.8 558.2 664.5 559 681 559.7C697.5 560.4 708.9 561 719.1 562C729.3 563 735.6 564.4 742 565.8C748.4 567.2 752.3 568.7 757.3 570.4C762.3 572.1 767.1 574.1 772 576" fill="none" stroke="#231f20" stroke-width="3.1"/>
<path d="M12 615.4C108 614.6 215.3 613.6 300 613C384.7 612.4 466.7 611.8 520 611.6C573.3 611.4 593.2 611.4 620 611.6C646.8 611.9 663.2 612.5 681 613.1C698.8 613.7 715.4 614.4 726.8 615.4C738.2 616.4 742 617.7 749.6 619.2C757.2 620.7 765.8 622.3 772.5 624.5C779.2 626.7 784.2 629.8 790 632.5" fill="none" stroke="#231f20" stroke-width="3.1"/>
<path d="M12 670C108 669.3 215.3 668.5 300 668C384.7 667.5 466.7 667.1 520 667C573.3 666.9 590.6 667 620 667.2C649.4 667.4 676 667.7 696.3 668C716.6 668.3 730.6 668.2 742 668.8C753.4 669.4 757.3 670 764.9 671.8C772.5 673.6 781.4 676.8 787.8 679.4C794.1 682 797.8 683.8 803 687.1C808.2 690.4 813.7 695 819 699" fill="none" stroke="#231f20" stroke-width="3.1"/>
</g>
<path d="M514.5 463.6C515.7 476.6 517 490 518 502.5C519 515 519.8 526.6 520.7 538.4C521.6 550.2 522.2 561.6 523.3 573.4C524.4 585.2 525.5 597.2 527.1 609C528.8 620.8 531 632.9 533.2 644.4C535.4 655.9 537.9 666.6 540.5 677.9C543.1 689.2 546.2 700.6 549 712" fill="none" stroke="#252529" stroke-width="8.4" stroke-dasharray="20 15" stroke-dashoffset="6"/>
<clipPath id="s1A"><path d="M755 452.4C754.9 448.4 754.2 443.6 754.7 440.4C755.2 437.2 756.5 435.9 758.2 433.4C759.9 430.8 762.6 427.7 765.1 425.1C767.6 422.5 771.4 420 773.5 417.6C775.6 415.2 776.7 413.5 777.6 410.7C778.5 407.9 778.8 404.5 779 401C779.2 397.5 778.6 393.6 779 389.9C779.4 386.2 780 382 781.1 378.8C782.2 375.6 783.2 372.6 785.9 370.5C788.5 368.4 791.7 367.4 797 366.3C802.3 365.2 810.9 364 817.8 363.8C824.7 363.6 831.7 364.3 838.6 365.2C845.5 366.1 852.5 367.1 859.4 369.1C866.3 371.1 873.3 374.2 880.2 377.4C887.1 380.6 895 385.2 901 388.5C907 391.8 911.8 394.4 916.2 397.4C920.6 400.4 923.6 403.4 927.3 406.4L927.3 406C929.6 412.2 931.2 416.9 934.2 424.7C937.2 432.4 941.7 443.3 945.2 452.5C948.7 461.7 951.5 471.1 955.2 480C958.9 488.9 963.4 497.7 967.5 506C971.6 514.3 974.8 519.3 980 529.6C985.2 539.9 992.2 554.4 999 567.9C1005.8 581.4 1013.4 597.1 1021 610.6C1028.6 624.1 1036.7 636.9 1044.5 649C1052.3 661.1 1060.5 672.8 1068 683.1C1075.5 693.4 1083 702.2 1089.7 710.8C1096.4 719.4 1101.9 726.6 1108 734.5C1108 734.5 829 722 829 722C828 719.5 828.4 720.8 825.9 714.5C823.4 708.2 817.7 694.2 813.7 684C809.7 673.8 804.8 660.8 801.8 653.2C798.8 645.6 797.9 645.4 795.4 638.3C792.9 631.2 790.2 620.8 786.9 610.6C783.6 600.4 778.6 587.7 775.6 577.3C772.6 566.9 770.9 558.2 769 548C767.1 537.8 765.4 527.2 764.1 516.3C762.8 505.4 762.1 490.3 761.3 482.6C760.5 474.9 759.9 475.1 759.3 470C758.7 464.9 758.2 458 757.6 452Z"/></clipPath>
<path d="M755 452.4C754.9 448.4 754.2 443.6 754.7 440.4C755.2 437.2 756.5 435.9 758.2 433.4C759.9 430.8 762.6 427.7 765.1 425.1C767.6 422.5 771.4 420 773.5 417.6C775.6 415.2 776.7 413.5 777.6 410.7C778.5 407.9 778.8 404.5 779 401C779.2 397.5 778.6 393.6 779 389.9C779.4 386.2 780 382 781.1 378.8C782.2 375.6 783.2 372.6 785.9 370.5C788.5 368.4 791.7 367.4 797 366.3C802.3 365.2 810.9 364 817.8 363.8C824.7 363.6 831.7 364.3 838.6 365.2C845.5 366.1 852.5 367.1 859.4 369.1C866.3 371.1 873.3 374.2 880.2 377.4C887.1 380.6 895 385.2 901 388.5C907 391.8 911.8 394.4 916.2 397.4C920.6 400.4 923.6 403.4 927.3 406.4L927.3 406C929.6 412.2 931.2 416.9 934.2 424.7C937.2 432.4 941.7 443.3 945.2 452.5C948.7 461.7 951.5 471.1 955.2 480C958.9 488.9 963.4 497.7 967.5 506C971.6 514.3 974.8 519.3 980 529.6C985.2 539.9 992.2 554.4 999 567.9C1005.8 581.4 1013.4 597.1 1021 610.6C1028.6 624.1 1036.7 636.9 1044.5 649C1052.3 661.1 1060.5 672.8 1068 683.1C1075.5 693.4 1083 702.2 1089.7 710.8C1096.4 719.4 1101.9 726.6 1108 734.5C1108 734.5 829 722 829 722C828 719.5 828.4 720.8 825.9 714.5C823.4 708.2 817.7 694.2 813.7 684C809.7 673.8 804.8 660.8 801.8 653.2C798.8 645.6 797.9 645.4 795.4 638.3C792.9 631.2 790.2 620.8 786.9 610.6C783.6 600.4 778.6 587.7 775.6 577.3C772.6 566.9 770.9 558.2 769 548C767.1 537.8 765.4 527.2 764.1 516.3C762.8 505.4 762.1 490.3 761.3 482.6C760.5 474.9 759.9 475.1 759.3 470C758.7 464.9 758.2 458 757.6 452Z" fill="#966e46"/>
<g clip-path="url(#s1A)">
<path d="M757 460C758.3 457.3 759.6 454.4 761 451.8C762.4 449.2 763 447.2 765.1 444.1C767.2 441 770 436.3 773.5 433.1C777 429.9 780.8 427 785.9 424.7C791 422.4 797.5 420.4 804 419.2C810.5 418 817.8 417.3 824.7 417.5C831.6 417.7 837.4 418.5 845.5 420.6C853.6 422.7 864 426.4 873.3 430.3C882.5 434.2 891.8 439.5 901 444.1C910.2 448.7 921.3 454.3 928.7 458C936.1 461.7 941.4 464.4 945.3 466.3C949.2 468.2 949.8 468.5 952 469.6L2000 469.6L2000 900L747 900Z" fill="#7a4d27"/>
<path d="M763 502C764.6 499.8 766.2 497.7 767.7 495.5C769.2 493.3 769.5 491.5 772 489C774.5 486.5 778 483 782.6 480.5C787.2 478 793.3 475.4 799.7 474.1C806.1 472.9 813.2 472.5 821 473C828.8 473.5 837 474.8 846.6 477.3C856.2 479.8 867.9 483.9 878.6 488C889.3 492.1 899.9 496.8 910.6 501.8C921.3 506.8 932 512.1 942.6 517.8C953.2 523.5 967.4 532 974.5 536C981.6 540 981.5 540 985 542L2000 542L2000 900L753 900Z" fill="#633a11"/>
<path d="M772 559C773.8 556.7 775.5 554.4 777.3 552C779.1 549.6 779.6 547.2 782.6 544.5C785.6 541.8 790.4 538.1 795.4 536C800.4 533.9 805.7 532.2 812.5 531.7C819.3 531.2 826.8 531.4 836 532.8C845.2 534.2 857.2 536.8 867.9 540.2C878.5 543.6 889.2 548.4 899.9 553C910.6 557.6 921.2 562.6 931.9 567.9C942.6 573.2 953.2 579 963.9 585C974.6 591 987.4 599.2 995.9 604.2C1004.4 609.2 1010 612 1015 614.8C1020 617.6 1022.3 618.9 1026 621L2000 621L2000 900L762 900Z" fill="#4e2d1a"/>
<path d="M757 460C758.3 457.3 759.6 454.4 761 451.8C762.4 449.2 763 447.2 765.1 444.1C767.2 441 770 436.3 773.5 433.1C777 429.9 780.8 427 785.9 424.7C791 422.4 797.5 420.4 804 419.2C810.5 418 817.8 417.3 824.7 417.5C831.6 417.7 837.4 418.5 845.5 420.6C853.6 422.7 864 426.4 873.3 430.3C882.5 434.2 891.8 439.5 901 444.1C910.2 448.7 921.3 454.3 928.7 458C936.1 461.7 941.4 464.4 945.3 466.3C949.2 468.2 949.8 468.5 952 469.6" fill="none" stroke="#231f20" stroke-width="3.1"/>
<path d="M763 502C764.6 499.8 766.2 497.7 767.7 495.5C769.2 493.3 769.5 491.5 772 489C774.5 486.5 778 483 782.6 480.5C787.2 478 793.3 475.4 799.7 474.1C806.1 472.9 813.2 472.5 821 473C828.8 473.5 837 474.8 846.6 477.3C856.2 479.8 867.9 483.9 878.6 488C889.3 492.1 899.9 496.8 910.6 501.8C921.3 506.8 932 512.1 942.6 517.8C953.2 523.5 967.4 532 974.5 536C981.6 540 981.5 540 985 542" fill="none" stroke="#231f20" stroke-width="3.1"/>
<path d="M772 559C773.8 556.7 775.5 554.4 777.3 552C779.1 549.6 779.6 547.2 782.6 544.5C785.6 541.8 790.4 538.1 795.4 536C800.4 533.9 805.7 532.2 812.5 531.7C819.3 531.2 826.8 531.4 836 532.8C845.2 534.2 857.2 536.8 867.9 540.2C878.5 543.6 889.2 548.4 899.9 553C910.6 557.6 921.2 562.6 931.9 567.9C942.6 573.2 953.2 579 963.9 585C974.6 591 987.4 599.2 995.9 604.2C1004.4 609.2 1010 612 1015 614.8C1020 617.6 1022.3 618.9 1026 621" fill="none" stroke="#231f20" stroke-width="3.1"/>
</g>
<path d="M755 452.4C754.9 448.4 754.2 443.6 754.7 440.4C755.2 437.2 756.5 435.9 758.2 433.4C759.9 430.8 762.6 427.7 765.1 425.1C767.6 422.5 771.4 420 773.5 417.6C775.6 415.2 776.7 413.5 777.6 410.7C778.5 407.9 778.8 404.5 779 401C779.2 397.5 778.6 393.6 779 389.9C779.4 386.2 780 382 781.1 378.8C782.2 375.6 783.2 372.6 785.9 370.5C788.5 368.4 791.7 367.4 797 366.3C802.3 365.2 810.9 364 817.8 363.8C824.7 363.6 831.7 364.3 838.6 365.2C845.5 366.1 852.5 367.1 859.4 369.1C866.3 371.1 873.3 374.2 880.2 377.4C887.1 380.6 895 385.2 901 388.5C907 391.8 911.8 394.4 916.2 397.4C920.6 400.4 923.6 403.4 927.3 406.4" fill="none" stroke="#231f20" stroke-width="3.6" stroke-linejoin="round" stroke-linecap="round"/>
<clipPath id="s2A"><path d="M928.8 405.2C929.2 402.4 928.8 399.7 929.9 396.7C931 393.7 933.1 390.1 935.2 387.1C937.3 384.1 940.5 381.8 942.6 378.6C944.7 375.4 947 372.5 948 367.9C949 363.3 948.5 355.9 948.6 350.9C948.7 345.9 948 341.7 948.6 338.1C949.2 334.6 949.6 332.3 952.2 329.6C954.8 326.9 958.5 324 964 322.1C969.5 320.2 978.2 319 985.3 318.5C992.4 318 999.5 318.5 1006.6 319.3C1013.7 320.1 1020.8 321.5 1027.9 323.2C1035 324.9 1042.2 327.1 1049.3 329.6C1056.4 332.1 1064 335.1 1070.6 338.1C1077.2 341.1 1082.7 344.5 1088.7 347.7C1093.3 357.3 1097.8 367.1 1102.6 376.5C1107.4 385.9 1112.2 395 1117.5 404.2C1122.8 413.4 1127.9 421.9 1134.5 431.9C1141.1 441.9 1149.6 453.5 1157 464C1164.4 474.5 1170.8 483.7 1179 495C1187.2 506.3 1197 519.6 1206 532C1215 544.4 1224.3 557.3 1233.3 569.3C1242.3 581.3 1251 592.3 1259.9 603.9C1268.8 615.5 1277.7 627.5 1286.6 638.6C1295.5 649.7 1304.3 660 1313.2 670.6C1322.1 681.2 1331 692.3 1339.9 702.5C1348.8 712.7 1357.8 722 1366.5 731.9C1375.2 741.8 1383.5 752 1392 762C1392 762 1108 734.5 1108 734.5C1101.9 726.6 1096.4 719.4 1089.7 710.8C1083 702.2 1075.5 693.4 1068 683.1C1060.5 672.8 1052.3 661.1 1044.5 649C1036.7 636.9 1028.6 624.1 1021 610.6C1013.4 597.1 1005.8 581.4 999 567.9C992.2 554.4 985.2 539.9 980 529.6C974.8 519.3 971.6 514.3 967.5 506C963.4 497.7 958.9 488.9 955.2 480C951.5 471.1 948.7 461.7 945.2 452.5C941.7 443.3 937.2 432.4 934.2 424.7C931.2 416.9 929.6 412.2 927.3 406Z"/></clipPath>
<path d="M928.8 405.2C929.2 402.4 928.8 399.7 929.9 396.7C931 393.7 933.1 390.1 935.2 387.1C937.3 384.1 940.5 381.8 942.6 378.6C944.7 375.4 947 372.5 948 367.9C949 363.3 948.5 355.9 948.6 350.9C948.7 345.9 948 341.7 948.6 338.1C949.2 334.6 949.6 332.3 952.2 329.6C954.8 326.9 958.5 324 964 322.1C969.5 320.2 978.2 319 985.3 318.5C992.4 318 999.5 318.5 1006.6 319.3C1013.7 320.1 1020.8 321.5 1027.9 323.2C1035 324.9 1042.2 327.1 1049.3 329.6C1056.4 332.1 1064 335.1 1070.6 338.1C1077.2 341.1 1082.7 344.5 1088.7 347.7C1093.3 357.3 1097.8 367.1 1102.6 376.5C1107.4 385.9 1112.2 395 1117.5 404.2C1122.8 413.4 1127.9 421.9 1134.5 431.9C1141.1 441.9 1149.6 453.5 1157 464C1164.4 474.5 1170.8 483.7 1179 495C1187.2 506.3 1197 519.6 1206 532C1215 544.4 1224.3 557.3 1233.3 569.3C1242.3 581.3 1251 592.3 1259.9 603.9C1268.8 615.5 1277.7 627.5 1286.6 638.6C1295.5 649.7 1304.3 660 1313.2 670.6C1322.1 681.2 1331 692.3 1339.9 702.5C1348.8 712.7 1357.8 722 1366.5 731.9C1375.2 741.8 1383.5 752 1392 762C1392 762 1108 734.5 1108 734.5C1101.9 726.6 1096.4 719.4 1089.7 710.8C1083 702.2 1075.5 693.4 1068 683.1C1060.5 672.8 1052.3 661.1 1044.5 649C1036.7 636.9 1028.6 624.1 1021 610.6C1013.4 597.1 1005.8 581.4 999 567.9C992.2 554.4 985.2 539.9 980 529.6C974.8 519.3 971.6 514.3 967.5 506C963.4 497.7 958.9 488.9 955.2 480C951.5 471.1 948.7 461.7 945.2 452.5C941.7 443.3 937.2 432.4 934.2 424.7C931.2 416.9 929.6 412.2 927.3 406Z" fill="#7a4d27"/>
<g clip-path="url(#s2A)">
<path d="M931 424C933.1 419.5 935.8 414.3 937.3 410.6C938.8 406.9 938.6 404.9 939.9 402C941.1 399.1 941.8 396.7 944.8 393.5C947.8 390.3 952.6 385.9 957.6 382.9C962.6 379.9 968.2 377.2 974.6 375.4C981 373.6 988.9 372.5 996 372.2C1003.1 371.9 1010.2 372.2 1017.3 373.3C1024.4 374.4 1031.5 376.3 1038.6 378.6C1045.7 380.9 1052.8 383.9 1059.9 387.1C1067 390.3 1074.1 393.9 1081.2 397.8C1088.3 401.7 1095.5 406.3 1102.6 410.6C1109.7 414.9 1118.2 419.9 1123.9 423.4C1129.6 426.9 1132.6 428.8 1137 431.5L2000 431.5L2000 900L921 900Z" fill="#633a11"/>
<path d="M949 464C951.1 461.1 953.3 457.9 955.4 455.4C957.5 452.9 958.6 451.7 961.8 449C965 446.3 969.6 442.1 974.6 439.4C979.6 436.7 985.3 434.4 991.7 433C998.1 431.6 1005.2 430.6 1013 430.8C1020.8 431 1029 431.7 1038.6 434C1048.2 436.3 1059.9 440.4 1070.6 444.7C1081.3 449 1091.9 454.3 1102.6 459.6C1113.2 464.9 1123.1 470.6 1134.5 476.7C1145.9 482.8 1162.9 491.7 1170.8 495.9C1178.7 500.1 1178.3 500 1182 502L2000 502L2000 900L939 900Z" fill="#4e2d1a"/>
<path d="M931 424C933.1 419.5 935.8 414.3 937.3 410.6C938.8 406.9 938.6 404.9 939.9 402C941.1 399.1 941.8 396.7 944.8 393.5C947.8 390.3 952.6 385.9 957.6 382.9C962.6 379.9 968.2 377.2 974.6 375.4C981 373.6 988.9 372.5 996 372.2C1003.1 371.9 1010.2 372.2 1017.3 373.3C1024.4 374.4 1031.5 376.3 1038.6 378.6C1045.7 380.9 1052.8 383.9 1059.9 387.1C1067 390.3 1074.1 393.9 1081.2 397.8C1088.3 401.7 1095.5 406.3 1102.6 410.6C1109.7 414.9 1118.2 419.9 1123.9 423.4C1129.6 426.9 1132.6 428.8 1137 431.5" fill="none" stroke="#231f20" stroke-width="3.1"/>
<path d="M949 464C951.1 461.1 953.3 457.9 955.4 455.4C957.5 452.9 958.6 451.7 961.8 449C965 446.3 969.6 442.1 974.6 439.4C979.6 436.7 985.3 434.4 991.7 433C998.1 431.6 1005.2 430.6 1013 430.8C1020.8 431 1029 431.7 1038.6 434C1048.2 436.3 1059.9 440.4 1070.6 444.7C1081.3 449 1091.9 454.3 1102.6 459.6C1113.2 464.9 1123.1 470.6 1134.5 476.7C1145.9 482.8 1162.9 491.7 1170.8 495.9C1178.7 500.1 1178.3 500 1182 502" fill="none" stroke="#231f20" stroke-width="3.1"/>
</g>
<path d="M928.8 405.2C929.2 402.4 928.8 399.7 929.9 396.7C931 393.7 933.1 390.1 935.2 387.1C937.3 384.1 940.5 381.8 942.6 378.6C944.7 375.4 947 372.5 948 367.9C949 363.3 948.5 355.9 948.6 350.9C948.7 345.9 948 341.7 948.6 338.1C949.2 334.6 949.6 332.3 952.2 329.6C954.8 326.9 958.5 324 964 322.1C969.5 320.2 978.2 319 985.3 318.5C992.4 318 999.5 318.5 1006.6 319.3C1013.7 320.1 1020.8 321.5 1027.9 323.2C1035 324.9 1042.2 327.1 1049.3 329.6C1056.4 332.1 1064 335.1 1070.6 338.1C1077.2 341.1 1082.7 344.5 1088.7 347.7" fill="none" stroke="#231f20" stroke-width="3.6" stroke-linejoin="round" stroke-linecap="round"/>
<clipPath id="s3A"><path d="M1089.8 346.6C1090.1 343.8 1089.7 340.6 1090.8 338.1C1091.9 335.6 1093.7 333.8 1096.2 331.7C1098.7 329.6 1103.3 327.4 1105.8 325.3C1108.3 323.2 1110 321.8 1111.1 318.9C1112.2 316 1112.4 312.1 1112.2 308.2C1112 304.3 1110.5 299.7 1110 295.4C1109.5 291.1 1108.5 286.2 1109 282.6C1109.5 279.1 1110.7 276.6 1113.2 274.1C1115.7 271.6 1118.6 269.2 1123.9 267.7C1129.2 266.2 1138.1 265.4 1145.2 265.2C1152.3 265 1159.4 265.6 1166.5 266.7C1173.6 267.8 1180.7 269.7 1187.8 272C1194.9 274.3 1202.1 277.5 1209.2 280.5C1216.3 283.5 1223.4 286.7 1230.5 290.1C1237.6 293.5 1247.1 296.7 1251.8 300.8C1256.5 304.9 1256.3 310.3 1258.5 315L1259.3 315.7C1263.9 322.5 1266.3 325.9 1273.1 336C1279.9 346.1 1290.8 362.7 1300 376.5C1309.2 390.3 1318.7 405.1 1328 419C1337.3 432.9 1347.2 448.3 1355.9 460C1364.6 471.7 1371.5 479.1 1379.9 489.3C1388.3 499.5 1397.6 510.6 1406.5 521.3C1415.4 532 1424.3 543.1 1433.2 553.3C1442.1 563.5 1450.9 572.8 1459.8 582.6C1468.7 592.4 1477.8 602.5 1486.5 611.9C1495.2 621.3 1503.3 630.4 1512 639C1520.7 647.6 1529.5 655.7 1538.5 663.5C1547.5 671.3 1556 678.1 1566 686C1576 693.9 1588 703.2 1598.5 711C1609 718.8 1618.8 725.9 1629 732.5C1639.2 739.1 1649.9 744.9 1660 750.4C1670.1 755.9 1679.7 760.7 1689.6 765.4C1699.5 770.1 1709.5 774.4 1719.4 778.8C1729.4 783.1 1739.3 787.3 1749.3 791.5C1759.2 795.7 1769.1 800.4 1779.1 804.2C1789 808.1 1799 811.1 1809 814.6C1809 814.6 1392 762 1392 762C1383.5 752 1375.2 741.8 1366.5 731.9C1357.8 722 1348.8 712.7 1339.9 702.5C1331 692.3 1322.1 681.2 1313.2 670.6C1304.3 660 1295.5 649.7 1286.6 638.6C1277.7 627.5 1268.8 615.5 1259.9 603.9C1251 592.3 1242.3 581.3 1233.3 569.3C1224.3 557.3 1215 544.4 1206 532C1197 519.6 1187.2 506.3 1179 495C1170.8 483.7 1164.4 474.5 1157 464C1149.6 453.5 1141.1 441.9 1134.5 431.9C1127.9 421.9 1122.8 413.4 1117.5 404.2C1112.2 395 1107.4 385.9 1102.6 376.5C1097.8 367.1 1093.3 357.3 1088.7 347.7Z"/></clipPath>
<path d="M1089.8 346.6C1090.1 343.8 1089.7 340.6 1090.8 338.1C1091.9 335.6 1093.7 333.8 1096.2 331.7C1098.7 329.6 1103.3 327.4 1105.8 325.3C1108.3 323.2 1110 321.8 1111.1 318.9C1112.2 316 1112.4 312.1 1112.2 308.2C1112 304.3 1110.5 299.7 1110 295.4C1109.5 291.1 1108.5 286.2 1109 282.6C1109.5 279.1 1110.7 276.6 1113.2 274.1C1115.7 271.6 1118.6 269.2 1123.9 267.7C1129.2 266.2 1138.1 265.4 1145.2 265.2C1152.3 265 1159.4 265.6 1166.5 266.7C1173.6 267.8 1180.7 269.7 1187.8 272C1194.9 274.3 1202.1 277.5 1209.2 280.5C1216.3 283.5 1223.4 286.7 1230.5 290.1C1237.6 293.5 1247.1 296.7 1251.8 300.8C1256.5 304.9 1256.3 310.3 1258.5 315L1259.3 315.7C1263.9 322.5 1266.3 325.9 1273.1 336C1279.9 346.1 1290.8 362.7 1300 376.5C1309.2 390.3 1318.7 405.1 1328 419C1337.3 432.9 1347.2 448.3 1355.9 460C1364.6 471.7 1371.5 479.1 1379.9 489.3C1388.3 499.5 1397.6 510.6 1406.5 521.3C1415.4 532 1424.3 543.1 1433.2 553.3C1442.1 563.5 1450.9 572.8 1459.8 582.6C1468.7 592.4 1477.8 602.5 1486.5 611.9C1495.2 621.3 1503.3 630.4 1512 639C1520.7 647.6 1529.5 655.7 1538.5 663.5C1547.5 671.3 1556 678.1 1566 686C1576 693.9 1588 703.2 1598.5 711C1609 718.8 1618.8 725.9 1629 732.5C1639.2 739.1 1649.9 744.9 1660 750.4C1670.1 755.9 1679.7 760.7 1689.6 765.4C1699.5 770.1 1709.5 774.4 1719.4 778.8C1729.4 783.1 1739.3 787.3 1749.3 791.5C1759.2 795.7 1769.1 800.4 1779.1 804.2C1789 808.1 1799 811.1 1809 814.6C1809 814.6 1392 762 1392 762C1383.5 752 1375.2 741.8 1366.5 731.9C1357.8 722 1348.8 712.7 1339.9 702.5C1331 692.3 1322.1 681.2 1313.2 670.6C1304.3 660 1295.5 649.7 1286.6 638.6C1277.7 627.5 1268.8 615.5 1259.9 603.9C1251 592.3 1242.3 581.3 1233.3 569.3C1224.3 557.3 1215 544.4 1206 532C1197 519.6 1187.2 506.3 1179 495C1170.8 483.7 1164.4 474.5 1157 464C1149.6 453.5 1141.1 441.9 1134.5 431.9C1127.9 421.9 1122.8 413.4 1117.5 404.2C1112.2 395 1107.4 385.9 1102.6 376.5C1097.8 367.1 1093.3 357.3 1088.7 347.7Z" fill="#633a11"/>
<g clip-path="url(#s3A)">
<path d="M1117 398C1117.9 394.4 1119 391.4 1119.6 387.1C1120.2 382.8 1119.6 377.5 1120.7 372.2C1121.8 366.9 1123 360.4 1126 355.1C1129 349.8 1133.8 344.1 1138.8 340.2C1143.8 336.3 1149.5 333.5 1155.9 331.7C1162.3 329.9 1170.1 329.6 1177.2 329.6C1184.3 329.6 1191.4 330.5 1198.5 331.7C1205.6 332.9 1212.7 334.9 1219.8 337C1226.9 339.1 1234.1 341.8 1241.2 344.5C1248.3 347.2 1255.4 349.8 1262.5 353C1269.6 356.2 1277.5 360.4 1283.8 363.7C1290 367 1294.6 369.9 1300 373L2000 373L2000 900L1107 900Z" fill="#4e2d1a"/>
<path d="M1117 398C1117.9 394.4 1119 391.4 1119.6 387.1C1120.2 382.8 1119.6 377.5 1120.7 372.2C1121.8 366.9 1123 360.4 1126 355.1C1129 349.8 1133.8 344.1 1138.8 340.2C1143.8 336.3 1149.5 333.5 1155.9 331.7C1162.3 329.9 1170.1 329.6 1177.2 329.6C1184.3 329.6 1191.4 330.5 1198.5 331.7C1205.6 332.9 1212.7 334.9 1219.8 337C1226.9 339.1 1234.1 341.8 1241.2 344.5C1248.3 347.2 1255.4 349.8 1262.5 353C1269.6 356.2 1277.5 360.4 1283.8 363.7C1290 367 1294.6 369.9 1300 373" fill="none" stroke="#231f20" stroke-width="3.1"/>
</g>
<path d="M1089.8 346.6C1090.1 343.8 1089.7 340.6 1090.8 338.1C1091.9 335.6 1093.7 333.8 1096.2 331.7C1098.7 329.6 1103.3 327.4 1105.8 325.3C1108.3 323.2 1110 321.8 1111.1 318.9C1112.2 316 1112.4 312.1 1112.2 308.2C1112 304.3 1110.5 299.7 1110 295.4C1109.5 291.1 1108.5 286.2 1109 282.6C1109.5 279.1 1110.7 276.6 1113.2 274.1C1115.7 271.6 1118.6 269.2 1123.9 267.7C1129.2 266.2 1138.1 265.4 1145.2 265.2C1152.3 265 1159.4 265.6 1166.5 266.7C1173.6 267.8 1180.7 269.7 1187.8 272C1194.9 274.3 1202.1 277.5 1209.2 280.5C1216.3 283.5 1223.4 286.7 1230.5 290.1C1237.6 293.5 1247.1 296.7 1251.8 300.8C1256.5 304.9 1256.3 310.3 1258.5 315" fill="none" stroke="#231f20" stroke-width="3.6" stroke-linejoin="round" stroke-linecap="round"/>
<path d="M1258.5 315C1257.1 309.7 1254.7 303.7 1254.2 299C1253.7 294.3 1254.7 290.7 1255.6 287C1256.5 283.3 1257.5 280.8 1259.5 277C1261.5 273.2 1263.6 269.1 1267.5 264.5C1271.4 259.9 1276.2 254.5 1283 249.2C1289.8 243.9 1300 237.3 1308.5 232.6C1317 227.9 1323.3 225.3 1334 221C1344.7 216.7 1361.5 210.8 1372.5 207C1383.5 203.2 1390.3 201.9 1400 198.5C1409.7 195.1 1419.3 191.5 1430.6 186.3C1441.9 181.1 1455.5 173.2 1467.9 167.5C1480.3 161.8 1492.8 157.1 1505.2 152.4C1517.6 147.7 1530 143.2 1542.5 139.3C1555 135.4 1569.3 131.4 1579.9 128.9C1590.5 126.4 1596.7 125.5 1606 124.4C1615.3 123.3 1624.6 122.9 1635.8 122.5C1647 122.1 1660.7 122.1 1673.1 121.8C1685.5 121.5 1698 121.4 1710.4 120.7C1722.9 120 1735.3 118.6 1747.8 117.7C1760.2 116.8 1772.7 116 1785.1 115.1C1797.5 114.2 1810 113 1822.4 112.4C1834.8 111.8 1847.3 111.5 1859.7 111.7C1872.1 112 1884.6 112.9 1897 113.9C1909.4 115 1923.1 116.9 1934.3 118C1945.5 119.1 1954.8 120.1 1964.2 120.7C1973.7 121.3 1982.1 121.4 1991 121.8L1991 847L1991 847L1930 836.5L1880 828L1839 820.6L1809 814.6L1809 814.6C1799 811.1 1789 808.1 1779.1 804.2C1769.1 800.4 1759.2 795.7 1749.3 791.5C1739.3 787.3 1729.4 783.1 1719.4 778.8C1709.5 774.4 1699.5 770.1 1689.6 765.4C1679.7 760.7 1670.1 755.9 1660 750.4C1649.9 744.9 1639.2 739.1 1629 732.5C1618.8 725.9 1609 718.8 1598.5 711C1588 703.2 1576 693.9 1566 686C1556 678.1 1547.5 671.3 1538.5 663.5C1529.5 655.7 1520.7 647.6 1512 639C1503.3 630.4 1495.2 621.3 1486.5 611.9C1477.8 602.5 1468.7 592.4 1459.8 582.6C1450.9 572.8 1442.1 563.5 1433.2 553.3C1424.3 543.1 1415.4 532 1406.5 521.3C1397.6 510.6 1388.3 499.5 1379.9 489.3C1371.5 479.1 1364.6 471.7 1355.9 460C1347.2 448.3 1337.3 432.9 1328 419C1318.7 405.1 1309.2 390.3 1300 376.5C1290.8 362.7 1279.9 346.1 1273.1 336C1266.3 325.9 1263.9 322.5 1259.3 315.7Z" fill="#58595b"/>
<path d="M1258.5 315C1257.1 309.7 1254.7 303.7 1254.2 299C1253.7 294.3 1254.7 290.7 1255.6 287C1256.5 283.3 1257.5 280.8 1259.5 277C1261.5 273.2 1263.6 269.1 1267.5 264.5C1271.4 259.9 1276.2 254.5 1283 249.2C1289.8 243.9 1300 237.3 1308.5 232.6C1317 227.9 1323.3 225.3 1334 221C1344.7 216.7 1361.5 210.8 1372.5 207C1383.5 203.2 1390.3 201.9 1400 198.5C1409.7 195.1 1419.3 191.5 1430.6 186.3C1441.9 181.1 1455.5 173.2 1467.9 167.5C1480.3 161.8 1492.8 157.1 1505.2 152.4C1517.6 147.7 1530 143.2 1542.5 139.3C1555 135.4 1569.3 131.4 1579.9 128.9C1590.5 126.4 1596.7 125.5 1606 124.4C1615.3 123.3 1624.6 122.9 1635.8 122.5C1647 122.1 1660.7 122.1 1673.1 121.8C1685.5 121.5 1698 121.4 1710.4 120.7C1722.9 120 1735.3 118.6 1747.8 117.7C1760.2 116.8 1772.7 116 1785.1 115.1C1797.5 114.2 1810 113 1822.4 112.4C1834.8 111.8 1847.3 111.5 1859.7 111.7C1872.1 112 1884.6 112.9 1897 113.9C1909.4 115 1923.1 116.9 1934.3 118C1945.5 119.1 1954.8 120.1 1964.2 120.7C1973.7 121.3 1982.1 121.4 1991 121.8" fill="none" stroke="#231f20" stroke-width="3.2" stroke-linecap="round"/>
<line x1="12" y1="452.7" x2="760" y2="452.7" stroke="#231f20" stroke-width="4.6" stroke-linecap="butt"/>
<path d="M752.1 452.5L752.4 455.6L752.7 458.7L753 461.8L753.3 464.9L753.6 467.9L753.9 470.7L754.2 473L754.6 474.9L754.9 476.4L755.2 478L755.5 480.1L755.9 483.1L756.3 487.5L756.7 492.7L757.1 498.7L757.6 504.9L758.1 511.1L758.7 516.9L759.4 522.4L760.2 527.9L761 533.3L761.9 538.6L762.8 543.8L763.7 549L764.7 554L765.7 558.9L766.7 563.7L767.8 568.6L769.1 573.6L770.5 578.8L772.2 584.3L774.1 590L776.2 595.8L778.2 601.5L780.1 607L781.9 612.2L783.5 617.2L785 622.2L786.4 627.1L787.8 631.7L789.2 636.1L790.5 640L791.7 643.2L792.7 645.7L793.7 647.8L794.6 649.7L795.7 652L797 655.1L798.7 659.3L800.5 664.1L802.6 669.5L804.7 675L806.9 680.5L808.9 685.9L811.1 691.2L813.4 696.9L815.6 702.6L817.8 707.9L819.7 712.6L821.2 716.4L822.3 719L823 720.6L823.4 721.6L823.7 722.3L824 723L824.4 723.9L833.6 720.1L833.2 719.1L832.9 718.4L832.6 717.7L832.3 716.8L831.6 715.2L830.6 712.6L829.1 708.9L827.2 704.2L825.1 698.8L822.8 693.2L820.6 687.5L818.5 682.1L816.4 676.9L814.3 671.3L812.2 665.8L810.1 660.5L808.3 655.5L806.6 651.3L805.2 647.9L804 645.3L803.1 643.3L802.2 641.5L801.4 639.4L800.3 636.6L799.1 632.9L797.8 628.7L796.5 624.1L795 619.2L793.5 614.1L791.9 609L790.1 603.6L788.1 598L786.1 592.3L784.1 586.6L782.3 581.1L780.7 575.8L779.3 570.9L778.2 566.1L777.1 561.4L776.1 556.7L775.2 552L774.3 547L773.3 541.9L772.5 536.8L771.6 531.6L770.8 526.3L770.1 521L769.5 515.7L768.9 510L768.4 504L767.9 497.9L767.5 491.9L767.1 486.6L766.7 482.1L766.3 478.6L765.9 476.1L765.6 474.2L765.3 472.8L765 471.3L764.7 469.3L764.4 466.7L764.2 463.9L763.9 460.8L763.6 457.7L763.4 454.6L763.1 451.5Z" fill="#252529"/>
<path d="M922.1 407.9L923.2 410.9L924.3 413.8L925.3 416.7L926.5 419.7L927.7 423L929.1 426.7L930.7 430.8L932.5 435.3L934.4 440.1L936.4 444.9L938.3 449.8L940.1 454.4L941.8 459L943.4 463.5L945 468.1L946.6 472.8L948.4 477.4L950.2 482.1L952.2 486.6L954.2 491.1L956.4 495.6L958.5 499.9L960.6 504.2L962.7 508.4L964.8 512.4L966.7 516L968.6 519.6L970.7 523.3L972.8 527.3L975.3 532L978 537.4L981 543.5L984.2 549.9L987.5 556.6L990.9 563.4L994.3 570.3L997.8 577.2L1001.4 584.3L1005.1 591.6L1008.8 598.9L1012.6 606.1L1016.5 613.1L1020.3 619.9L1024.3 626.6L1028.2 633.1L1032.2 639.4L1036.2 645.7L1040.2 651.8L1044.1 657.9L1048.1 663.8L1052.1 669.6L1056.1 675.3L1060 680.8L1063.9 686.1L1067.7 691.2L1071.5 696.1L1075.2 700.8L1078.8 705.3L1082.3 709.6L1085.7 713.9L1089 718.1L1092.1 722.1L1095.1 726L1098.1 729.8L1101 733.7L1104 737.6L1112 731.4L1109 727.5L1106 723.7L1103 719.8L1100 715.9L1096.9 711.9L1093.7 707.7L1090.3 703.3L1086.7 698.9L1083.1 694.4L1079.5 689.8L1075.8 685L1072.1 680.1L1068.3 674.9L1064.5 669.4L1060.6 663.8L1056.7 658L1052.7 652.2L1048.8 646.2L1044.9 640.1L1041 633.9L1037.1 627.6L1033.2 621.2L1029.3 614.7L1025.5 608.1L1021.8 601.2L1018.1 594.1L1014.4 586.9L1010.7 579.6L1007.2 572.5L1003.7 565.5L1000.3 558.7L996.9 551.9L993.6 545.2L990.5 538.8L987.5 532.7L984.7 527.2L982.2 522.4L980 518.2L978 514.5L976.1 511L974.2 507.4L972.3 503.6L970.2 499.4L968.1 495.2L966 490.9L964 486.6L962 482.3L960.2 477.9L958.5 473.6L956.8 469.1L955.2 464.6L953.6 460L952 455.3L950.3 450.6L948.4 445.8L946.5 440.9L944.6 436L942.7 431.3L940.9 426.8L939.3 422.7L937.9 419.1L936.7 415.9L935.6 412.9L934.6 410L933.6 407.1L932.5 404.1Z" fill="#252529"/>
<path d="M1083.7 350.1L1086 354.9L1088.3 359.7L1090.6 364.5L1093 369.4L1095.3 374.2L1097.7 379L1100.1 383.7L1102.6 388.4L1105 393L1107.6 397.6L1110.1 402.3L1112.8 406.9L1115.5 411.5L1118.1 416.1L1120.9 420.6L1123.8 425.2L1126.8 430L1130 434.9L1133.5 440.1L1137.2 445.4L1141 450.9L1144.9 456.3L1148.8 461.8L1152.6 467.1L1156.2 472.3L1159.8 477.3L1163.3 482.3L1167 487.4L1170.7 492.6L1174.7 498.1L1178.9 503.9L1183.3 510L1187.9 516.2L1192.5 522.6L1197.1 528.9L1201.7 535.1L1206.3 541.3L1210.8 547.6L1215.4 553.9L1220 560.2L1224.6 566.4L1229.1 572.5L1233.6 578.4L1238.1 584.2L1242.5 590L1246.9 595.7L1251.3 601.4L1255.8 607.1L1260.2 612.9L1264.7 618.7L1269.1 624.6L1273.6 630.4L1278.1 636.2L1282.6 641.8L1287 647.4L1291.5 652.8L1295.9 658.1L1300.4 663.4L1304.8 668.6L1309.3 673.9L1313.7 679.2L1318.2 684.6L1322.6 690L1327.1 695.3L1331.6 700.6L1336.1 705.8L1340.6 710.9L1345.1 715.9L1349.5 720.7L1354 725.6L1358.4 730.4L1362.7 735.2L1367 740.2L1371.2 745.1L1375.5 750.1L1379.7 755.2L1383.9 760.2L1388.2 765.2L1395.8 758.8L1391.6 753.8L1387.4 748.7L1383.2 743.7L1378.9 738.6L1374.6 733.6L1370.3 728.6L1365.9 723.6L1361.5 718.7L1357 713.9L1352.6 709L1348.1 704.1L1343.7 699.2L1339.3 694L1334.9 688.8L1330.5 683.4L1326 678.1L1321.6 672.7L1317.1 667.3L1312.7 662L1308.3 656.7L1303.9 651.5L1299.4 646.2L1295 640.8L1290.6 635.4L1286.2 629.8L1281.8 624.1L1277.4 618.3L1272.9 612.4L1268.5 606.5L1264 600.7L1259.6 595L1255.2 589.3L1250.8 583.6L1246.4 577.8L1242 572L1237.5 566.1L1233 560.1L1228.5 553.9L1223.9 547.7L1219.4 541.4L1214.8 535.1L1210.3 528.9L1205.7 522.6L1201.1 516.3L1196.5 510L1191.9 503.7L1187.5 497.7L1183.3 491.9L1179.4 486.4L1175.7 481.2L1172.1 476.1L1168.6 471.1L1165 466.1L1161.4 460.9L1157.6 455.5L1153.7 450.1L1149.8 444.6L1146 439.2L1142.4 434L1139 428.9L1135.9 424.1L1132.9 419.5L1130.2 414.9L1127.5 410.5L1124.8 406L1122.2 401.5L1119.6 396.9L1117.1 392.4L1114.7 387.8L1112.3 383.3L1109.9 378.7L1107.5 374L1105.1 369.3L1102.8 364.6L1100.5 359.8L1098.3 355L1096 350.1L1093.7 345.3Z" fill="#252529"/>
<path d="M1254.8 318.8L1256.9 321.9L1258.9 324.8L1260.9 327.7L1263 330.8L1265.5 334.5L1268.6 339L1272.3 344.6L1276.5 350.9L1281.1 357.9L1285.9 365.1L1290.8 372.4L1295.5 379.5L1300.1 386.4L1304.8 393.5L1309.4 400.7L1314.2 407.8L1318.9 414.9L1323.6 422L1328.3 429L1333 436.2L1337.8 443.3L1342.5 450.3L1347.2 456.9L1351.7 463.1L1355.9 468.8L1360 473.9L1364 478.6L1367.9 483.2L1371.8 487.8L1375.9 492.6L1380.2 497.8L1384.6 503.1L1389 508.4L1393.6 513.8L1398.1 519.2L1402.5 524.6L1407 529.9L1411.4 535.3L1415.9 540.7L1420.4 546.1L1424.9 551.4L1429.4 556.6L1433.9 561.7L1438.3 566.7L1442.8 571.5L1447.2 576.3L1451.7 581.1L1456.1 586L1460.6 590.9L1465.1 595.8L1469.5 600.7L1474 605.6L1478.5 610.5L1482.9 615.2L1487.2 619.9L1491.4 624.5L1495.7 629.1L1499.9 633.6L1504.2 638L1508.6 642.4L1513 646.7L1517.4 650.9L1521.9 655.1L1526.3 659.1L1530.8 663.1L1535.4 667.1L1539.9 671L1544.4 674.7L1548.9 678.4L1553.5 682.1L1558.2 685.8L1563.1 689.7L1568.3 693.7L1573.7 698L1579.2 702.2L1584.8 706.5L1590.4 710.7L1595.8 714.7L1601 718.5L1606.1 722.3L1611.2 725.9L1616.3 729.5L1621.4 732.9L1626.6 736.3L1631.8 739.6L1637.1 742.7L1642.3 745.7L1647.6 748.7L1652.8 751.5L1657.9 754.3L1662.9 757L1667.9 759.6L1672.9 762.1L1677.8 764.6L1682.8 767L1687.7 769.3L1692.7 771.7L1697.7 773.9L1702.7 776.2L1707.7 778.4L1712.7 780.5L1717.7 782.7L1722.7 784.9L1727.7 787L1732.7 789.1L1737.7 791.2L1742.7 793.3L1747.7 795.3L1752.6 797.5L1757.6 799.6L1762.6 801.8L1767.6 803.9L1772.6 806L1777.6 808L1782.7 809.9L1787.7 811.7L1792.7 813.4L1797.7 815L1802.7 816.7L1807.7 818.4L1810.3 810.8L1805.3 809.1L1800.3 807.4L1795.3 805.7L1790.4 804L1785.5 802.2L1780.6 800.4L1775.7 798.4L1770.8 796.3L1765.8 794.2L1760.9 792L1755.9 789.8L1750.9 787.7L1746 785.5L1741 783.4L1736 781.3L1731 779.2L1726.1 777.1L1721.1 774.9L1716.1 772.7L1711.2 770.5L1706.2 768.3L1701.3 766.1L1696.4 763.8L1691.5 761.5L1686.6 759.1L1681.7 756.7L1676.9 754.3L1672 751.8L1667.1 749.2L1662.1 746.5L1657 743.7L1651.9 740.9L1646.8 738L1641.6 735L1636.5 731.9L1631.4 728.7L1626.4 725.4L1621.5 722L1616.5 718.5L1611.5 714.9L1606.4 711.1L1601.2 707.3L1595.9 703.3L1590.4 699.1L1584.9 694.9L1579.4 690.6L1574 686.4L1568.9 682.3L1564 678.4L1559.4 674.7L1554.9 671.1L1550.4 667.4L1546 663.7L1541.6 659.9L1537.2 656L1532.8 652L1528.4 648L1524 643.9L1519.7 639.8L1515.4 635.6L1511.2 631.3L1507 626.9L1502.8 622.4L1498.7 617.9L1494.4 613.2L1490.1 608.6L1485.8 603.8L1481.3 599L1476.9 594.1L1472.4 589.1L1468 584.2L1463.5 579.2L1459.1 574.4L1454.6 569.5L1450.2 564.7L1445.8 559.9L1441.4 555L1437 550L1432.6 544.8L1428.2 539.6L1423.8 534.2L1419.3 528.8L1414.9 523.4L1410.5 518L1406 512.6L1401.5 507.2L1397 501.8L1392.6 496.4L1388.2 491.2L1383.9 486L1379.8 481L1375.8 476.4L1372 471.8L1368.2 467.2L1364.3 462.3L1360.1 456.9L1355.8 450.8L1351.3 444.3L1346.6 437.4L1341.9 430.3L1337.1 423.1L1332.4 416L1327.8 409L1323.1 401.9L1318.4 394.8L1313.8 387.6L1309.1 380.5L1304.5 373.5L1299.8 366.4L1295 359.1L1290.2 351.9L1285.6 344.9L1281.3 338.5L1277.6 333L1274.6 328.4L1272.1 324.7L1269.9 321.5L1267.9 318.6L1266 315.7L1263.8 312.6Z" fill="#252529"/>
<path d="M12 719C44.7 718.8 67 718.6 110 718.3C153 718 221.7 717.6 270 717.3C318.3 716.9 355 716.5 400 716.2C445 716 500 715.6 540 715.8C580 716 606.7 716.7 640 717.5C673.3 718.3 709.2 719.7 740 720.4C770.8 721.1 796.7 721 825 721.5C853.3 722 881.5 722.6 910 723.5C938.5 724.4 967.5 725.4 996 727C1024.5 728.6 1057 731.3 1081 733C1105 734.7 1119.2 735.6 1140 737.4C1160.8 739.2 1177.2 740.9 1206 743.8C1234.8 746.6 1281.8 751.2 1313 754.5C1344.2 757.8 1361.8 760.3 1393 763.8C1424.2 767.3 1465.5 771.8 1500 775.5C1534.5 779.2 1573.3 782.8 1600 786C1626.7 789.2 1640.2 791.5 1660 794.5C1679.8 797.5 1701.7 801.2 1719 804C1736.3 806.8 1749 809.2 1764 811C1779 812.8 1796.5 813 1809 814.6C1821.5 816.2 1827.2 818.4 1839 820.6C1850.8 822.8 1864.8 825.4 1880 828C1895.2 830.6 1911.5 833.3 1930 836.5C1948.5 839.7 1970.7 843.5 1991 847" fill="none" stroke="#231f20" stroke-width="5.2"/>
<line x1="836.7" y1="704.3" x2="815.6" y2="654.8" stroke="#231f20" stroke-width="4.2" stroke-linecap="butt"/>
<path d="M815.4 654.3L837 668.5L833.8 672.5L819.1 663.1Z" fill="#231f20"/>
<line x1="1100.3" y1="701.2" x2="1065.2" y2="658.5" stroke="#231f20" stroke-width="4.2" stroke-linecap="butt"/>
<path d="M1064.9 658.1L1089.7 666.8L1087.5 671.6L1070.9 665.5Z" fill="#231f20"/>
<line x1="1362.5" y1="699.9" x2="1325.2" y2="661.2" stroke="#231f20" stroke-width="4.2" stroke-linecap="butt"/>
<path d="M1324.9 660.8L1351.3 666.7L1349.7 671.7L1331.4 667.7Z" fill="#231f20"/>
<line x1="1603.7" y1="698.2" x2="1555.8" y2="668.1" stroke="#231f20" stroke-width="4.2" stroke-linecap="butt"/>
<path d="M1555.4 667.8L1583.6 668.7L1583 673.9L1563.4 672.9Z" fill="#231f20"/>
<line x1="116.3" y1="774.2" x2="383.6" y2="773.8" stroke="#231f20" stroke-width="11.2" stroke-linecap="butt"/>
<path d="M426.6 773.7L369 751.3L380 773.8L369 796.3Z" fill="#231f20"/>
<line x1="752.5" y1="773.8" x2="1045.6" y2="787" stroke="#231f20" stroke-width="11.2" stroke-linecap="butt"/>
<path d="M1088.6 788.9L1032.1 763.8L1042 786.8L1030 808.8Z" fill="#231f20"/>
<line x1="1395" y1="817" x2="1667.9" y2="850.9" stroke="#231f20" stroke-width="11.2" stroke-linecap="butt"/>
<path d="M1710.6 856.2L1656.2 826.8L1664.4 850.5L1650.7 871.4Z" fill="#231f20"/>
<text x="1599.7" y="453.1" font-size="43" fill="#fff" textLength="167.9" lengthAdjust="spacingAndGlyphs" font-style="italic">Backstop</text>
<text x="1109.3" y="562.6" font-size="43" fill="#fff" textLength="93.7" lengthAdjust="spacingAndGlyphs" font-style="italic">Older</text>
<text x="1225" y="562.6" font-size="43" fill="#fff" textLength="124.2" lengthAdjust="spacingAndGlyphs" font-style="italic">wedge</text>
<text x="1152" y="617.2" font-size="43" fill="#fff" textLength="154.6" lengthAdjust="spacingAndGlyphs" font-style="italic">material</text>
<text x="1212.2" y="911.5" font-size="43" fill="#fff" textLength="99.6" lengthAdjust="spacingAndGlyphs" font-style="italic">Older</text>
<text x="1151.9" y="968" font-size="43" fill="#fff" textLength="219.6" lengthAdjust="spacingAndGlyphs" font-style="italic">thrust faults</text>
<line x1="1096" y1="720.8" x2="1194.6" y2="865.1" stroke="#fff" stroke-width="3" stroke-linecap="butt"/>
<line x1="1358.2" y1="737.2" x2="1303.8" y2="867.8" stroke="#fff" stroke-width="3" stroke-linecap="butt"/>
<text x="78.9" y="549" font-size="43" fill="#fff" textLength="367.8" lengthAdjust="spacingAndGlyphs" font-style="italic">Packages of stacked</text>
<text x="101.3" y="603.9" font-size="43" fill="#fff" textLength="322.5" lengthAdjust="spacingAndGlyphs" font-style="italic">MTDs &amp; turbidites</text>
<line x1="238.7" y1="70" x2="42.3" y2="70" stroke="#231f20" stroke-width="4" stroke-linecap="butt"/>
<path d="M28.3 70L49.3 78.3L43.8 70L49.3 61.7Z" fill="#231f20"/>
<line x1="507.3" y1="70" x2="680.6" y2="70" stroke="#231f20" stroke-width="4" stroke-linecap="butt"/>
<path d="M694.6 70L673.6 61.7L679.1 70L673.6 78.3Z" fill="#231f20"/>
<line x1="778.5" y1="70" x2="711.8" y2="70" stroke="#231f20" stroke-width="4" stroke-linecap="butt"/>
<path d="M697.8 70L718.8 78.3L713.3 70L718.8 61.7Z" fill="#231f20"/>
<line x1="1190.6" y1="70" x2="1257.5" y2="70" stroke="#231f20" stroke-width="4" stroke-linecap="butt"/>
<path d="M1271.5 70L1250.5 61.7L1256 70L1250.5 78.3Z" fill="#231f20"/>
<text x="248.8" y="86.8" font-size="44.5" fill="#231f20" textLength="248.4" lengthAdjust="spacingAndGlyphs">Abyssal plain</text>
<text x="789.1" y="86.4" font-size="44.5" fill="#231f20" textLength="380" lengthAdjust="spacingAndGlyphs">Accretionary wedge</text>
<text x="266.6" y="179.3" font-size="43" fill="#231f20" textLength="263.9" lengthAdjust="spacingAndGlyphs" font-style="italic">Turbidity flows</text>
<text x="249.3" y="234.5" font-size="43" fill="#231f20" textLength="297.2" lengthAdjust="spacingAndGlyphs" font-style="italic">from local MTDs</text>
<text x="233.3" y="289.9" font-size="43" fill="#231f20" textLength="335.8" lengthAdjust="spacingAndGlyphs" font-style="italic">and failures above</text>
<text x="605.1" y="322.4" font-size="43" fill="#231f20" textLength="104" lengthAdjust="spacingAndGlyphs" font-style="italic">MTDs</text>
<text x="825.3" y="218.1" font-size="43" fill="#231f20" textLength="246.6" lengthAdjust="spacingAndGlyphs" font-style="italic">Failure scarps</text>
<line x1="381.5" y1="305" x2="328" y2="389" stroke="#231f20" stroke-width="3" stroke-linecap="butt"/>
<line x1="452" y1="297" x2="535.5" y2="427" stroke="#231f20" stroke-width="3" stroke-linecap="butt"/>
<line x1="656.9" y1="332.4" x2="707" y2="438.3" stroke="#231f20" stroke-width="3" stroke-linecap="butt"/>
<line x1="900" y1="237.8" x2="943.9" y2="347.9" stroke="#231f20" stroke-width="3" stroke-linecap="butt"/>
<line x1="1030.5" y1="234.6" x2="1106.5" y2="284.7" stroke="#231f20" stroke-width="3" stroke-linecap="butt"/>
<line x1="538.4" y1="683.9" x2="394.5" y2="879.5" stroke="#fff" stroke-width="3" stroke-linecap="butt"/>
<line x1="804.9" y1="662.6" x2="670.6" y2="836.9" stroke="#fff" stroke-width="3" stroke-linecap="butt"/>
<text x="315.6" y="916.8" font-size="43" fill="#fff" textLength="117.2" lengthAdjust="spacingAndGlyphs" font-style="italic">Future</text>
<text x="278.3" y="971.7" font-size="43" fill="#fff" textLength="202.5" lengthAdjust="spacingAndGlyphs" font-style="italic">thrust fault</text>
<text x="559.7" y="878.5" font-size="43" fill="#fff" textLength="263.9" lengthAdjust="spacingAndGlyphs" font-style="italic">Primary active</text>
<text x="590.6" y="932.8" font-size="43" fill="#fff" textLength="203.6" lengthAdjust="spacingAndGlyphs" font-style="italic">thrust fault</text>
<rect x="12" y="10.5" width="1979" height="1010.2" fill="none" stroke="#231f20" stroke-width="6"/>
<rect x="10.7" y="9.2" width="37.6" height="37.4" fill="#fff" stroke="#000" stroke-width="3.4"/>
<text x="13.6" y="45.6" font-size="49" fill="#000" textLength="33" lengthAdjust="spacingAndGlyphs" stroke="#000" stroke-width="1.2" font-weight="bold">A</text>
</g>
<g id="panelB" transform="translate(0,1066.4)">
<rect x="12" y="10" width="1979" height="1011" fill="#d5e6f5"/>
<path d="M12 719C44.7 718.8 67 718.6 110 718.3C153 718 221.7 717.6 270 717.3C318.3 716.9 355 716.5 400 716.2C445 716 500 715.6 540 715.8C580 716 606.7 716.7 640 717.5C673.3 718.3 709.2 719.7 740 720.4C770.8 721.1 796.7 721 825 721.5C853.3 722 881.5 722.6 910 723.5C938.5 724.4 967.5 725.4 996 727C1024.5 728.6 1057 731.3 1081 733C1105 734.7 1119.2 735.6 1140 737.4C1160.8 739.2 1177.2 740.9 1206 743.8C1234.8 746.6 1281.8 751.2 1313 754.5C1344.2 757.8 1361.8 760.3 1393 763.8C1424.2 767.3 1465.5 771.8 1500 775.5C1534.5 779.2 1573.3 782.8 1600 786C1626.7 789.2 1640.2 791.5 1660 794.5C1679.8 797.5 1701.7 801.2 1719 804C1736.3 806.8 1749 809.2 1764 811C1779 812.8 1796.5 813 1809 814.6C1821.5 816.2 1827.2 818.4 1839 820.6C1850.8 822.8 1864.8 825.4 1880 828C1895.2 830.6 1911.5 833.3 1930 836.5C1948.5 839.7 1970.7 843.5 1991 847L1991 1021L12 1021Z" fill="#4a473d"/>
<path d="M12 822.5C79 821.3 144 819.2 213 818.8C282 818.3 354.8 818.9 426 819.8C497.2 820.7 568.8 822.1 640 824C711.2 825.9 793 828.7 853 831C913 833.3 940 834.4 1000 838C1060 841.6 1163 848.9 1213 852.5C1263 856.1 1273.3 857.3 1300 859.7C1326.7 862.1 1339.7 863.7 1373 866.8C1406.3 869.9 1461 874.1 1500 878.5C1539 882.9 1571.5 888.1 1607 893.2C1642.5 898.3 1677.5 903.7 1713 909.2C1748.5 914.8 1784.5 921 1820 926.5C1855.5 932 1897.5 938.4 1926 942.5C1954.5 946.6 1969.3 948.2 1991 951L1991 1021L12 1021Z" fill="#5c5852"/>
<path d="M60 448C52.4 445 42.8 442.6 37.3 438.9C31.7 435.1 28.7 430.8 26.7 425.5C24.7 420.2 24.9 411.5 25.3 406.9C25.7 402.2 26.4 399.8 29.3 397.6C32.2 395.4 38.2 394.9 42.6 393.6C43.9 390.7 44.2 386.9 46.6 385C49 383.1 53.7 382.5 57.3 382.4C60.9 382.3 65.1 383.2 68 384.2C70.9 385.2 72.4 386.9 74.6 388.2C78.2 386 80.8 383.2 85.3 381.6C89.8 380 95.1 378.7 101.3 378.4C107.5 378.1 115.9 378.7 122.6 379.7C129.3 380.7 136.6 382.5 141.3 384.2C146 385.9 147.5 387.8 150.6 389.6C152.8 386.9 153.9 383.6 157.2 381.6C160.5 379.6 165.7 378.1 170.6 377.6C175.5 377.2 182.6 378.9 186.6 378.9C190.6 378.9 191.9 378 194.6 377.6C199 375.4 202.6 372.7 207.9 370.9C213.2 369.1 219.8 367.8 226.5 366.9C233.2 366 241.7 365.4 247.9 365.6C254.1 365.8 260.3 367.3 263.9 368.2C267.4 369.1 267.4 370 269.2 370.9C270.1 369.1 269.7 367.2 271.9 365.6C274.1 364.1 277.6 362.3 282.5 361.6C287.4 360.9 295 360.9 301.2 361.6C307.4 362.3 312.7 364.1 319.8 365.6C326.9 367.2 337.6 368.9 343.8 370.9C350 372.9 352.7 375.4 357.1 377.6C360.7 373.6 363.4 368.9 367.8 365.6C372.2 362.3 377.1 359.6 383.8 357.6C390.5 355.6 399.8 353.8 407.8 353.6C415.8 353.4 424.7 354.4 431.8 356.2C438.9 358 445.5 361.6 450.4 364.2C455.3 366.8 457.7 369.1 461.4 371.5C464.7 368.9 466.7 365.9 471.2 363.7C475.7 361.5 481.8 359.5 488.2 358.4C494.6 357.3 502.5 356.9 509.6 357.3C516.7 357.7 524.5 359.1 530.9 360.5C537.3 361.9 543.6 364 547.9 365.8C552.2 367.6 553.6 369.4 556.5 371.2C559.3 368.3 561.1 364.9 565 362.6C568.9 360.3 574.6 358.4 579.9 357.3C585.2 356.2 591.7 355.9 597 356.2C602.3 356.5 607.6 357.8 611.9 359.4C616.2 361 619.9 363.8 622.6 365.8C625.3 367.8 626.1 369.4 627.9 371.2C629.7 368.3 630.5 365.3 633.2 362.6C635.9 359.9 639.6 357 643.9 355.2C648.2 353.4 653.5 352.4 658.8 352C664.1 351.6 670.2 352.1 675.9 353C681.6 353.9 688.3 355.7 692.9 357.3C697.5 358.9 700 360.8 703.6 362.6C702.5 360.1 700.5 357.4 700.4 355.2C700.3 353 702 350.6 703.2 349.3C704.4 348 705.9 347.6 707.6 347.5C709.3 347.4 711.8 347.8 713.5 348.5C715.2 349.2 716.2 350.6 717.6 351.6C717.4 348.5 716.7 345.5 717 342.2C717.3 338.9 717.9 334.8 719.3 331.7C720.7 328.6 722.9 325.4 725.2 323.5C727.6 321.6 730.5 320.7 733.4 320.2C736.3 319.7 739.9 320.1 742.8 320.5C745.7 320.9 748.9 322.1 751 322.9C753.1 323.7 754.1 324.4 755.7 325.2C755.9 322.7 755.5 320.1 756.3 317.6C757.1 315.1 758.5 311.9 760.4 310C762.2 308.1 764.7 306.8 767.4 305.9C770.1 305 773.7 304.6 776.8 304.7C779.9 304.8 783.1 305.8 786.2 306.5C789.3 307.2 792.4 308 795.5 308.8C798.6 309.6 801.5 310.6 804.9 311.2C808.3 311.8 812.4 311.9 816.1 312.3C817.5 311.7 818.4 311 820.2 310.6C822.1 310.2 824.7 309.9 827.2 310C829.7 310.1 832.7 310.5 835.4 311.2C838.1 311.9 841.4 313 843.6 314.1C845.9 315.2 847.1 316.4 848.9 317.6C849.1 315.5 848.8 313.1 849.5 311.2C850.2 309.2 851.4 307.3 853 305.9C854.6 304.5 856.8 303.4 858.9 302.9C861 302.4 863.6 302.5 865.9 302.9C868.2 303.3 870.8 304.4 872.9 305.3C875 306.2 876.8 307.2 878.8 308.2C880 305.9 880.5 302.9 882.3 301.2C884.1 299.4 886.7 298.6 889.4 297.7C892.1 296.8 895.8 295.8 898.7 295.9C901.6 296 904.2 297.2 907 298.2C909.8 299.2 912.5 300.5 915.2 301.7C915.4 299 914.8 296.2 915.8 293.5C916.8 290.8 918.6 287.4 921.1 285.3C923.6 283.2 927.6 281.4 930.5 280.6C933.4 279.8 936.8 280.4 938.7 280.6C940.7 280.8 941 281.3 942.2 281.7C944.6 279.6 946.2 276.9 949.3 275.3C952.4 273.7 957.1 272.2 961 271.8C964.9 271.4 969.2 272.2 972.7 273C976.2 273.8 979.9 275.4 982.1 276.5C984.4 277.6 984.8 278.4 986.2 279.4C987.6 277.6 988.2 275.5 990.3 274.1C992.3 272.7 995.6 271.5 998.5 271.2C1001.4 270.9 1005.2 271.6 1007.9 272.4C1010.6 273.2 1013.2 274.9 1014.9 275.9C1016.6 276.9 1016.9 277.4 1017.9 278.2C1019.3 276.3 1020.1 274.1 1022 272.4C1023.9 270.6 1026.5 268.7 1029 267.7C1031.5 266.7 1034.9 266.4 1037.2 266.5C1039.5 266.6 1041.1 267.7 1043.1 268.3C1044.3 267.3 1044.8 266 1046.6 265.3C1048.3 264.6 1050.7 264.2 1053.6 264.2C1056.5 264.2 1061.1 264.6 1064.2 265.3C1067.3 266 1070.6 267.4 1072.4 268.3C1074.2 269.2 1074.3 269.8 1075.3 270.6C1076.7 270 1077.4 269.1 1079.4 268.8C1081.5 268.5 1084.7 268.4 1087.6 268.8C1090.5 269.2 1094.2 270.2 1097 271.2C1099.8 272.2 1102.2 273.4 1104.1 274.7C1106 276 1107 277.6 1108.5 279L1115 300L1115 460L60 460Z" fill="#9d9187"/>
<path d="M226.5 445C223 443.4 218.3 442.6 215.9 440.2C213.5 437.8 211.9 433.6 211.9 430.9C211.9 428.2 213 425.8 215.9 424.2C218.8 422.6 224.8 421.5 229.2 421.5C233.6 421.5 238.1 423.3 242.5 424.2C246.1 422.9 247 421.2 253.2 420.2C259.4 419.2 271.9 418.3 279.9 418.3C287.9 418.3 296.3 419.4 301.2 420.2C306.1 421 306.5 422 309.2 422.9C311.9 420.7 313.6 417.6 317.2 416.2C320.8 414.8 326.1 414.3 330.5 414.3C334.9 414.3 340.7 415.4 343.8 416.2C346.9 417 347.3 418 349.1 418.9C351.8 417.4 353.1 415.4 357.1 414.3C361.1 413.2 368.2 412.2 373.1 412.2C378 412.2 382 413.6 386.5 414.3C390 412.9 393.1 411.1 397.1 410.1C401.1 409.1 406.4 408.9 410.4 408.2C414.4 407.4 417.5 406.5 421.1 405.6C424.7 404.7 427.4 403.6 431.8 402.9C436.2 402.2 442.7 401.4 447.8 401.5C452.9 401.6 458.4 402.3 462.6 403.5C466.9 404.7 469.7 406.8 473.3 408.5C474.7 407.8 475.8 407.2 477.6 406.5C479.4 405.8 481.2 404.4 484 404.2C486.8 404 491.1 404.2 494.6 405.3C498.2 406.4 502.5 408.8 505.3 410.6C508.1 412.4 509.2 413.5 511.7 415.9C514.1 418.3 517.2 422 520 425L520 450L230 450Z" fill="#86705a"/>
<path d="M366 447C365.3 443.4 363.5 438.9 363.8 436.2C364.1 433.5 364 432 367.8 430.9C371.6 429.8 378.9 429.9 386.5 429.5C394.1 429.1 404.7 429.1 413.1 428.7C421.5 428.3 430.4 427.6 437.1 426.9C443.8 426.1 447.8 425.1 453.1 424.2C458.4 423.3 464 422.2 469.1 421.5C474.2 420.8 478.7 420.3 484 419.8C489.3 419.3 496.7 418.4 501 418.5C505.3 418.6 506.4 418.8 509.6 420.2C512.8 421.6 516.3 424.7 520.2 426.6C524.1 428.6 529.7 430.3 533 431.9C536.3 433.5 537.7 434.6 540 436L540 450L366 450Z" fill="#a9452c"/>
<path d="M646 418.5C647.8 418.1 646.3 417.6 651.3 417.4C656.3 417.1 668.2 416.9 675.9 417C683.5 417.1 690.9 418 697.2 418.1C703.5 418.2 708.8 418 713.9 417.4C719 416.8 723.1 415 727.7 414.6C732.3 414.2 737 415.5 741.6 415.3C746.2 415.1 751.2 413.8 755.4 413.3C759.5 412.9 763.7 412.2 766.5 412.6C769.3 413.1 769.9 414.8 772.1 416C774.4 417.2 777.4 418.7 780 420L780 460L650 460Z" fill="#a9452c"/>
<path d="M886 379.5L896.8 380.4L907.9 381.1L916.2 379.7L924.5 381.1L932.8 380.4L938.4 383.2L946 383L946 412L900 412Z" fill="#a9452c"/>
<path d="M1042 327L1055.7 327.8L1070.6 326.4L1085.5 327.4L1096.2 325.3L1104 326L1104 352L1060 352Z" fill="#a9452c"/>
<path d="M134.2 416.2L134.9 416.3L135.6 416.5L136.3 416.6L137 416.7L137.7 416.9L138.5 417L139.3 417.1L140 417.2L140.8 417.1L141.6 417.1L142.5 417.1L143.4 417L144.3 416.9L145.2 416.8L146.2 416.6L147.1 416.3L148 416L148.8 415.6L149.6 415.2L150.4 414.8L151.1 414.3L151.8 413.8L152.4 413.3L153 412.7L153.6 412.1L154 411.5L154.5 410.9L154.9 410.2L155.3 409.4L155.6 408.5L155.8 407.6L155.8 406.5L155.6 405.6L155.2 404.7L154.7 403.9L154.2 403.2L153.6 402.6L153 402.1L152.3 401.6L151.6 401.1L150.8 400.7L150.1 400.3L149.2 400L148.3 399.7L147.4 399.4L146.3 399.1L145.3 398.9L144.1 398.7L142.9 398.6L141.6 398.4L140.3 398.3L138.8 398.3L137.4 398.2L136 398.3L134.6 398.3L133.2 398.4L132 398.5L130.7 398.6L129.4 398.7L128.2 398.9L127 399.1L125.8 399.4L124.7 399.7L123.6 400.1L122.5 400.5L121.5 400.9L120.6 401.4L119.6 402L118.8 402.6L117.9 403.3L117.1 404.1L116.3 404.9L115.7 405.9L115 406.9L114.4 407.9L113.9 409L113.5 410.2L113.1 411.3L112.8 412.5L112.6 413.8L112.6 415L112.7 416.2L112.9 417.4L113.2 418.6L113.5 419.7L113.9 420.8L114.4 421.9L115 423L115.6 424L116.3 425L117.1 425.9L118 426.8L118.9 427.7L119.8 428.6L120.8 429.4L121.9 430.2L123 430.8L124.2 431.5L125.4 432.1L126.6 432.6L127.9 433.2L129.2 433.6L130.5 434L131.9 434.4L133.2 434.7L134.5 435L135.9 435.2L137.3 435.4L138.7 435.5L140.1 435.6L141.5 435.6L142.9 435.6L144.4 435.6L145.9 435.5L147.5 435.4L149 435.2L150.6 435L152.1 434.8L153.7 434.5L155.2 434.3L156.8 434L158.3 433.7L159.9 433.3L161.5 433L163.1 432.6L164.6 432.2L166 431.9L167.2 431.5L168.4 431.3L169.3 431.1L170.1 430.9L171 430.8L171.8 430.5L172.8 430.2L174 429.9L175.4 429.3L177 428.7L178.8 427.9L180.8 427.1L182.9 426.2L185.1 425.2L187.2 424.2L189.4 423.1L191.4 422L193.5 420.9L195.5 419.7L197.5 418.5L199.5 417.2L201.5 415.9L203.5 414.7L205.5 413.5L207.4 412.4L209.4 411.4L211.3 410.5L213.1 409.5L215 408.7L216.9 407.8L218.9 407L221 406.1L223.3 405.3L225.8 404.4L228.4 403.6L231.1 402.8L234 401.9L236.8 401.1L239.7 400.3L242.6 399.6L245.3 398.9L247.8 398.3L250 397.8L252 397.3L254 396.9L256.3 396.4L259.1 395.9L262.5 395.4L266.6 394.7L271.8 394L277.7 393.1L284.3 392.2L291.3 391.2L298.5 390.3L305.8 389.4L313 388.6L319.9 387.9L326.5 387.3L333.2 386.9L339.8 386.5L346.5 386.1L353.2 385.9L359.8 385.6L366.5 385.4L373.1 385.2L379.8 385L386.3 384.9L392.9 384.8L399.5 384.7L406.1 384.7L412.8 384.6L419.5 384.7L426.4 384.7L433.5 384.8L440.8 384.9L448.3 385L455.8 385.2L463.3 385.4L470.5 385.6L477.5 385.8L484 386L490 386.3L495.7 386.5L501 386.8L506.2 387L511.2 387.3L516.2 387.6L521.3 388L526.5 388.4L531.9 388.8L537.4 389.3L543 389.8L548.5 390.4L553.9 390.9L559.2 391.5L564.3 392.2L569.1 392.8L573.6 393.5L577.8 394.3L581.8 395.1L585.6 395.9L589.4 396.8L593.1 397.6L597 398.5L600.9 399.3L604.9 400.1L608.9 401L612.9 401.9L616.9 402.7L620.9 403.6L624.9 404.3L628.9 405.1L633 405.7L637 406.3L641 406.8L645 407.3L649 407.8L653.1 408.1L657.1 408.5L661.1 408.7L665.1 408.9L669.2 409L673.3 409.1L677.3 409L681.4 408.9L685.4 408.8L689.4 408.6L693.4 408.3L697.3 408L701.2 407.6L705.2 407.2L709.1 406.6L712.9 406L716.7 405.4L720.3 404.7L723.8 404.1L727 403.5L730 402.8L732.8 402.1L735.4 401.4L737.9 400.8L740.3 400.1L742.6 399.4L745 398.7L747.5 398L747.3 397L744.7 397.5L742.3 398.1L739.9 398.6L737.5 399.1L735 399.6L732.4 400.1L729.6 400.6L726.6 401.1L723.3 401.7L719.9 402.2L716.3 402.8L712.5 403.4L708.7 403.9L704.8 404.4L700.9 404.8L697.1 405.2L693.2 405.4L689.3 405.7L685.3 405.9L681.3 406L677.3 406.1L673.3 406.1L669.2 406L665.3 405.9L661.3 405.7L657.3 405.4L653.3 405.1L649.4 404.7L645.4 404.3L641.4 403.8L637.4 403.3L633.4 402.7L629.5 402L625.5 401.3L621.5 400.5L617.5 399.7L613.5 398.8L609.5 398L605.5 397.1L601.5 396.3L597.6 395.5L593.8 394.7L590 393.8L586.2 393L582.3 392.2L578.3 391.4L574 390.7L569.5 390L564.7 389.3L559.5 388.8L554.2 388.2L548.7 387.7L543.2 387.2L537.6 386.8L532.1 386.4L526.7 386L521.5 385.6L516.4 385.3L511.3 385L506.3 384.8L501.1 384.6L495.7 384.4L490.1 384.2L484 384L477.5 383.7L470.6 383.5L463.3 383.3L455.9 383.2L448.4 383L440.9 382.9L433.5 382.8L426.4 382.7L419.5 382.7L412.8 382.6L406.1 382.7L399.5 382.7L392.9 382.8L386.3 382.9L379.7 383L373.1 383.2L366.4 383.4L359.7 383.6L353.1 383.9L346.4 384.2L339.7 384.5L333.1 384.9L326.4 385.3L319.7 385.9L312.8 386.6L305.6 387.4L298.3 388.3L291 389.3L284 390.3L277.4 391.2L271.5 392.1L266.4 392.9L262.2 393.5L258.8 394.1L256 394.5L253.7 395L251.6 395.5L249.5 395.9L247.4 396.5L244.9 397.1L242.1 397.8L239.2 398.5L236.3 399.3L233.5 400.1L230.6 400.9L227.8 401.8L225.2 402.6L222.7 403.5L220.4 404.4L218.2 405.2L216.2 406.1L214.2 406.9L212.3 407.8L210.4 408.8L208.5 409.7L206.6 410.8L204.5 411.9L202.5 413.1L200.5 414.3L198.5 415.6L196.5 416.9L194.5 418.1L192.5 419.3L190.6 420.4L188.5 421.4L186.4 422.4L184.2 423.4L182.1 424.4L180 425.3L178.1 426.1L176.2 426.8L174.6 427.5L173.3 427.9L172.2 428.3L171.3 428.5L170.5 428.6L169.8 428.8L168.9 428.9L167.9 429.1L166.8 429.3L165.4 429.5L164 429.8L162.5 430.1L161 430.4L159.4 430.7L157.8 430.9L156.3 431.1L154.8 431.3L153.3 431.4L151.8 431.6L150.3 431.6L148.8 431.7L147.3 431.7L145.8 431.7L144.4 431.7L143.1 431.6L141.7 431.5L140.4 431.3L139.2 431.1L137.9 430.9L136.7 430.6L135.6 430.3L134.4 430L133.3 429.6L132.3 429.2L131.2 428.7L130.2 428.1L129.2 427.6L128.2 426.9L127.3 426.3L126.5 425.7L125.7 425L125 424.4L124.4 423.7L123.7 423L123.2 422.3L122.7 421.6L122.2 420.9L121.8 420.1L121.4 419.4L121.1 418.8L120.8 418.1L120.6 417.4L120.4 416.7L120.3 416.1L120.2 415.4L120.2 414.8L120.2 414.2L120.2 413.6L120.2 412.9L120.4 412.2L120.5 411.4L120.8 410.7L121 410L121.3 409.3L121.7 408.7L122 408.1L122.3 407.6L122.7 407L123.2 406.5L123.7 406.1L124.3 405.6L124.9 405.1L125.6 404.7L126.4 404.3L127.3 403.9L128.2 403.6L129.2 403.3L130.2 403L131.3 402.8L132.4 402.6L133.6 402.4L134.7 402.3L136 402.3L137.3 402.3L138.7 402.4L140 402.5L141.3 402.6L142.4 402.7L143.5 402.9L144.4 403.1L145.2 403.4L145.9 403.6L146.6 403.9L147.3 404.3L147.8 404.6L148.4 404.9L148.8 405.3L149.2 405.6L149.6 405.9L149.8 406.3L150.1 406.6L150.2 406.8L150.3 407L150.3 407.1L150.2 407.1L150.2 407L150.2 407.1L150.1 407.2L150 407.5L149.8 407.8L149.6 408.2L149.3 408.5L149 408.9L148.7 409.2L148.3 409.6L147.9 410L147.4 410.4L146.9 410.7L146.4 411.1L145.8 411.4L145.3 411.7L144.8 411.9L144.1 412.1L143.4 412.4L142.7 412.6L141.9 412.7L141.1 412.9L140.3 413.1L139.6 413.2L138.9 413.5L138.2 413.7L137.5 413.9L136.9 414.2L136.2 414.4L135.5 414.6L134.8 414.8L134.2 415Z" fill="#774819"/>
<path d="M689.4 382.6L690.1 382.7L690.9 382.8L691.6 382.9L692.4 383L693.2 383L694.1 383.1L694.9 383L695.8 382.9L696.7 382.5L697.5 382.2L698.3 381.7L699.1 381.3L699.9 380.8L700.6 380.3L701.2 379.8L701.8 379.2L702.3 378.7L702.7 378.1L703.1 377.4L703.4 376.7L703.7 375.9L703.8 375L703.7 374L703.4 373L702.9 372.2L702.3 371.5L701.7 371L701 370.4L700.3 370L699.5 369.6L698.7 369.2L697.9 368.9L697 368.6L696.1 368.4L695.2 368.2L694.2 368.1L693.3 368L692.3 367.9L691.2 367.8L690.2 367.9L689.2 367.9L688.2 367.9L687.1 368L686 368.1L684.8 368.3L683.7 368.5L682.6 368.8L681.6 369.1L680.6 369.5L679.6 369.9L678.7 370.3L677.7 370.8L676.8 371.4L675.9 372.1L675.1 372.9L674.3 373.8L673.6 374.7L673 375.7L672.5 376.8L672.1 377.8L671.7 378.9L671.4 380L671.2 381.1L671.1 382.3L671.1 383.4L671.2 384.5L671.4 385.6L671.6 386.7L672 387.8L672.4 388.8L672.8 389.9L673.4 390.9L674 391.8L674.7 392.6L675.5 393.5L676.3 394.3L677.1 395.1L678.1 395.8L679.1 396.5L680.1 397.1L681.2 397.6L682.4 398.2L683.6 398.6L684.8 399L686 399.4L687.3 399.7L688.6 400L689.8 400.2L691.1 400.3L692.4 400.4L693.7 400.4L695.1 400.3L696.4 400.3L697.7 400.1L698.9 400L700.2 399.8L701.5 399.5L702.8 399.3L704 398.9L705.3 398.6L706.5 398.2L707.7 397.8L709 397.3L710.2 396.9L711.4 396.4L712.6 396L713.8 395.5L715 394.9L716.3 394.4L717.5 393.8L718.7 393.2L719.9 392.6L721.1 392L722.3 391.4L723.5 390.7L724.7 390.1L725.9 389.4L727.1 388.7L728.3 387.9L729.6 387.2L730.8 386.4L732 385.5L733.2 384.7L734.4 383.8L735.6 382.9L736.8 382L738 381.2L739.2 380.3L740.4 379.5L741.6 378.6L742.8 377.7L744 376.9L745.2 376L746.4 375.2L747.6 374.4L748.8 373.6L749.9 372.9L751.1 372.1L752.2 371.4L753.3 370.7L754.5 370L755.7 369.4L756.9 368.7L758.2 368L759.6 367.4L761.1 366.7L762.5 366L764.1 365.3L765.7 364.6L767.3 364L768.9 363.4L770.5 362.8L772.2 362.3L773.9 361.7L775.7 361.2L777.5 360.7L779.3 360.2L781.1 359.8L782.9 359.4L784.7 359L786.5 358.6L788.3 358.3L790.1 357.9L791.9 357.6L793.7 357.4L795.5 357.1L797.3 356.8L799 356.6L800.7 356.3L802.4 356.1L804.1 355.9L805.7 355.6L807.3 355.4L808.9 355.2L810.6 355.1L812.2 354.9L813.7 354.7L815.2 354.5L816.6 354.4L818 354.2L819.5 354.1L821 354L822.7 354L824.6 354.1L826.8 354.2L829.2 354.4L831.7 354.7L834.4 355L837.1 355.3L839.9 355.7L842.6 356.1L845.2 356.6L847.8 357.1L850.3 357.6L852.9 358.3L855.5 358.9L858.1 359.6L860.7 360.2L863.3 360.9L866 361.5L868.6 362L871.3 362.6L874.1 363.2L876.8 363.7L879.5 364.2L882.1 364.7L884.5 365.2L886.8 365.6L888.9 365.9L890.8 366.3L892.6 366.6L894.3 366.8L896 367L897.6 367.2L899.3 367.4L900.9 367.5L902.6 367.6L904.2 367.5L905.8 367.5L907.4 367.4L908.9 367.3L910.4 367.2L912 367.1L913.5 367L913.3 363.8L911.8 363.9L910.2 364L908.7 364.1L907.2 364.2L905.7 364.3L904.2 364.3L902.6 364.4L901.1 364.3L899.5 364.2L898 364.1L896.4 363.9L894.8 363.7L893.1 363.4L891.4 363.1L889.4 362.8L887.4 362.4L885.1 362L882.7 361.6L880.1 361.1L877.4 360.6L874.7 360L872 359.5L869.3 358.9L866.6 358.3L864.1 357.8L861.5 357.1L858.9 356.5L856.3 355.8L853.7 355.1L851.1 354.5L848.4 353.9L845.8 353.4L843.1 353L840.3 352.5L837.6 352.2L834.8 351.8L832.1 351.5L829.5 351.2L827 351L824.8 350.9L822.8 350.8L820.9 350.8L819.3 350.9L817.7 351L816.3 351.2L814.8 351.4L813.4 351.5L811.8 351.7L810.2 351.9L808.6 352.1L806.9 352.3L805.3 352.5L803.6 352.7L802 352.9L800.3 353.2L798.6 353.4L796.8 353.7L795.1 353.9L793.2 354.2L791.4 354.5L789.6 354.8L787.7 355.1L785.9 355.5L784.1 355.8L782.2 356.2L780.4 356.7L778.5 357.1L776.7 357.6L774.8 358.1L773 358.7L771.2 359.2L769.5 359.8L767.8 360.4L766.1 361L764.4 361.7L762.8 362.4L761.2 363.1L759.7 363.8L758.2 364.5L756.8 365.2L755.4 365.9L754.1 366.6L752.9 367.3L751.7 368L750.5 368.7L749.4 369.4L748.2 370.2L747 371L745.8 371.8L744.6 372.6L743.4 373.4L742.2 374.3L741 375.1L739.8 376L738.6 376.8L737.4 377.7L736.2 378.6L735 379.4L733.8 380.3L732.6 381.2L731.4 382.1L730.2 382.9L729 383.7L727.8 384.4L726.7 385.1L725.5 385.8L724.3 386.5L723.1 387.1L721.9 387.7L720.7 388.3L719.5 388.8L718.3 389.4L717.1 389.9L715.9 390.4L714.7 390.9L713.6 391.3L712.4 391.8L711.2 392.2L710 392.5L708.8 392.9L707.6 393.2L706.5 393.6L705.3 393.9L704.1 394.1L703 394.4L701.8 394.6L700.7 394.7L699.6 394.8L698.4 394.9L697.3 394.9L696.2 395L695 394.9L693.9 394.9L692.8 394.8L691.8 394.6L690.8 394.4L689.7 394.2L688.7 394L687.7 393.7L686.7 393.3L685.7 393L684.8 392.6L684 392.2L683.3 391.7L682.6 391.3L682 390.8L681.5 390.2L681 389.7L680.5 389.1L680.1 388.5L679.7 387.9L679.4 387.3L679.1 386.8L678.9 386.2L678.7 385.6L678.5 385L678.4 384.3L678.3 383.7L678.3 383.1L678.3 382.5L678.3 381.9L678.4 381.3L678.5 380.6L678.6 379.9L678.8 379.3L679 378.6L679.3 378.1L679.5 377.6L679.8 377.2L680.2 376.8L680.6 376.4L681.1 376L681.7 375.6L682.3 375.2L683 374.8L683.6 374.5L684.3 374.2L685.1 374L685.9 373.8L686.8 373.6L687.7 373.4L688.6 373.3L689.5 373.2L690.4 373.1L691.2 373.1L692 373.2L692.8 373.2L693.5 373.3L694.3 373.4L695 373.6L695.6 373.7L696.1 373.9L696.6 374.1L697.1 374.3L697.5 374.6L697.9 374.8L698.2 375.1L698.4 375.3L698.4 375.4L698.4 375.4L698.4 375.2L698.4 375.1L698.4 375L698.4 375.1L698.4 375.2L698.3 375.4L698.2 375.7L698 376L697.8 376.3L697.4 376.7L697 377.2L696.5 377.6L695.9 378.1L695.4 378.5L694.9 378.8L694.4 379.1L693.9 379.5L693.4 379.7L692.8 380L692.1 380.2L691.4 380.5L690.7 380.7L689.9 380.9L689.2 381.2Z" fill="#774819"/>
<circle cx="913.4" cy="365.4" r="1.6" fill="#774819"/>
<path d="M881.7 342.7L882.1 343L882.5 343.4L882.9 343.7L883.3 344.1L883.8 344.5L884.5 344.9L885.2 345.2L886.1 345.3L886.9 345.1L887.7 344.9L888.4 344.6L889.1 344.3L889.8 343.8L890.4 343.4L891 342.9L891.6 342.3L892.1 341.7L892.7 341.1L893.2 340.4L893.6 339.6L894.1 338.8L894.5 338L894.8 337L895.1 336.1L895.2 335.1L895.3 334.2L895.4 333.2L895.3 332.2L895.3 331.2L895.1 330.2L894.9 329.2L894.6 328.2L894.2 327.2L893.8 326.1L893.3 325.1L892.7 324.1L892.1 323.1L891.4 322.2L890.7 321.2L890 320.4L889.2 319.6L888.4 318.9L887.5 318.3L886.6 317.7L885.7 317.2L884.8 316.8L883.8 316.4L882.9 316L882 315.8L881 315.6L880 315.4L879.1 315.4L878.1 315.4L877.2 315.5L876.3 315.6L875.4 315.8L874.4 316L873.5 316.3L872.5 316.6L871.6 317L870.6 317.4L869.7 317.9L868.8 318.5L868 319.2L867.2 319.9L866.4 320.7L865.7 321.5L865.1 322.3L864.5 323.2L864 324L863.5 324.9L863.1 325.8L862.8 326.7L862.6 327.6L862.4 328.5L862.3 329.4L862.2 330.2L862.2 331L862.2 331.7L862.2 332.5L862.2 333.3L862.3 334.1L862.3 335.1L862.4 336L862.5 337L862.7 338L862.9 339L863.1 339.9L863.4 340.9L863.7 341.8L864.1 342.7L864.5 343.7L864.9 344.7L865.5 345.7L866.1 346.7L866.8 347.6L867.5 348.4L868.3 349.2L869.1 350.1L870 350.9L871 351.7L872.1 352.4L873.3 353.1L874.6 353.8L876.1 354.4L877.6 354.9L879.2 355.5L880.9 356L882.7 356.4L884.5 356.8L886.3 357.1L888.1 357.3L889.9 357.4L891.7 357.3L893.5 357.2L895.3 357.1L897 356.8L898.7 356.5L900.4 356.2L902 355.8L903.5 355.3L904.9 354.8L906.2 354.2L907.5 353.6L908.7 353L909.9 352.3L911.1 351.5L912.3 350.8L913.5 350L914.7 349.2L916 348.3L917.2 347.4L918.5 346.5L919.7 345.5L921 344.4L922.2 343.3L923.5 342.1L924.7 340.9L926 339.6L927.2 338.2L928.4 336.9L929.6 335.6L930.8 334.2L932 333L933.2 331.7L934.5 330.3L935.7 329L936.9 327.6L938.1 326.4L939.2 325.2L940.4 324L941.5 323L942.6 322.1L943.7 321.2L944.8 320.4L946 319.6L947.1 318.9L948.2 318.2L949.3 317.6L950.4 317L951.5 316.5L952.5 316.1L953.6 315.7L954.7 315.4L955.8 315.1L957 314.7L958.3 314.3L959.7 313.9L961.1 313.4L962.4 312.8L963.6 312.3L964.8 311.8L966 311.3L967.3 310.9L968.9 310.5L970.8 310.2L973.1 309.9L975.7 309.6L978.5 309.4L981.5 309.2L984.6 309L987.7 309L990.7 309L993.7 309L996.5 309.2L999.4 309.5L1002.2 309.9L1005.1 310.3L1008 310.8L1011 311.3L1013.9 311.9L1016.8 312.4L1019.7 313L1022.6 313.6L1025.5 314.3L1028.4 315L1031.3 315.7L1034.3 316.4L1037.3 317.1L1040.3 317.6L1043.3 318.1L1046.4 318.5L1049.6 319L1052.7 319.3L1055.7 319.7L1058.7 320L1061.5 320.2L1064 320.4L1066.4 320.5L1068.5 320.6L1070.5 320.5L1072.4 320.5L1074.1 320.4L1075.9 320.3L1077.6 320.2L1079.4 320.2L1079.4 316L1077.5 316L1075.7 316L1074 316.1L1072.3 316.1L1070.5 316.1L1068.6 316.1L1066.6 316L1064.4 315.8L1061.9 315.6L1059.1 315.3L1056.2 315L1053.2 314.6L1050.2 314.2L1047.1 313.8L1044.1 313.3L1041.1 312.8L1038.3 312.2L1035.4 311.6L1032.5 310.9L1029.6 310.2L1026.7 309.4L1023.7 308.7L1020.8 308L1017.8 307.4L1014.8 306.8L1011.9 306.3L1008.9 305.7L1006 305.2L1003 304.7L1000 304.3L997 304L993.9 303.8L990.8 303.6L987.6 303.6L984.4 303.7L981.2 303.8L978.1 304L975.2 304.3L972.5 304.5L970 304.8L967.8 305.2L965.9 305.7L964.2 306.2L962.7 306.7L961.4 307.3L960.2 307.8L959.1 308.3L957.9 308.7L956.7 309.1L955.5 309.4L954.3 309.7L953.1 310.1L951.9 310.4L950.6 310.9L949.3 311.4L948 312L946.7 312.6L945.4 313.3L944.1 314.1L942.8 314.9L941.6 315.8L940.3 316.7L939 317.7L937.7 318.8L936.4 319.9L935.2 321.2L933.9 322.5L932.7 323.9L931.5 325.3L930.3 326.6L929.2 327.9L928 329.2L926.8 330.5L925.6 331.9L924.4 333.2L923.2 334.6L922 335.8L920.9 337.1L919.7 338.2L918.6 339.3L917.4 340.3L916.3 341.2L915.1 342.1L914 343L912.8 343.8L911.7 344.6L910.5 345.3L909.3 346L908.2 346.7L907.1 347.3L906 347.9L904.9 348.4L903.9 348.9L902.8 349.3L901.7 349.7L900.4 350L899.1 350.3L897.7 350.5L896.2 350.7L894.7 350.9L893.1 351L891.6 351L890.1 351L888.7 350.9L887.2 350.7L885.7 350.5L884.2 350.1L882.7 349.7L881.2 349.3L879.8 348.8L878.5 348.3L877.4 347.8L876.4 347.4L875.7 346.9L875 346.4L874.3 345.8L873.8 345.3L873.2 344.7L872.7 344L872.2 343.4L871.8 342.8L871.4 342.2L871.1 341.6L870.8 341L870.5 340.3L870.3 339.5L870.1 338.8L869.9 338.1L869.7 337.4L869.6 336.7L869.4 336L869.4 335.3L869.3 334.5L869.2 333.8L869.2 333.1L869.2 332.3L869.2 331.6L869.2 331L869.1 330.4L869.2 329.9L869.2 329.5L869.2 329L869.3 328.7L869.5 328.2L869.7 327.7L869.9 327.1L870.2 326.5L870.5 325.9L870.9 325.3L871.3 324.7L871.7 324.2L872 323.8L872.5 323.5L873 323.1L873.5 322.7L874.1 322.4L874.8 322.1L875.4 321.8L876 321.6L876.6 321.4L877.2 321.3L877.8 321.2L878.4 321.2L878.9 321.2L879.5 321.2L880 321.3L880.6 321.4L881.1 321.6L881.6 321.8L882.2 322.1L882.8 322.4L883.4 322.8L883.9 323.2L884.5 323.6L885 324.1L885.4 324.6L885.9 325.1L886.3 325.8L886.8 326.5L887.2 327.3L887.7 328L888 328.8L888.3 329.6L888.6 330.2L888.8 330.9L889 331.5L889.1 332.1L889.3 332.8L889.3 333.4L889.4 334L889.4 334.6L889.3 335.1L889.3 335.6L889.2 336.1L889 336.6L888.8 337.2L888.6 337.7L888.3 338.2L888.1 338.7L887.8 339.1L887.5 339.5L887.2 339.9L886.9 340.2L886.6 340.5L886.2 340.8L885.9 341L885.7 341.2L885.5 341.3L885.4 341.5L885.2 341.6L884.9 341.7L884.5 341.6L884 341.6L883.4 341.5L882.8 341.4L882.3 341.3Z" fill="#774819"/>
<circle cx="1079.4" cy="318.1" r="2.1" fill="#774819"/>
<path d="M550.1 412.5C545.1 412.4 539.7 411.4 535.1 412.3C530.5 413.2 525.8 415.5 522.3 418.1C518.8 420.7 516.8 424.7 514 428" fill="none" stroke="#b84c33" stroke-width="3.4"/>
<path d="M519 425.5L526 419L536 415.5L548.5 415L552 416.5L546 423L538.5 430L527 433.5Z" fill="#a39d9a"/>
<path d="M776.2 384.1C772.5 386 768.1 387.2 765.1 389.7C762.1 392.2 759.7 396 758 399C756.3 402 756 404.7 755 407.5" fill="none" stroke="#b84c33" stroke-width="3.9"/>
<path d="M754.1 410.4L762.9 400L756.8 401.8L752.6 396.8Z" fill="#b84c33"/>
<path d="M943.2 350.2C938.5 353.5 932.8 356.4 929 360C925.2 363.6 923.3 368 920.5 372" fill="none" stroke="#b84c33" stroke-width="3.9"/>
<path d="M918.9 374.5L930.2 367L923.8 367L921.1 361.1Z" fill="#b84c33"/>
<path d="M1105.8 299.7C1101.5 302.1 1096.1 303.7 1093 307C1089.9 310.3 1089 315.3 1087 319.5" fill="none" stroke="#b84c33" stroke-width="3.9"/>
<path d="M1085.9 322.3L1095.6 312.7L1089.3 313.9L1085.6 308.7Z" fill="#b84c33"/>
<clipPath id="plainB"><path d="M12 451.3C74.7 450.2 138.7 449.2 200 448C261.3 446.8 332.2 444.9 380 444C427.8 443.1 466.6 443.3 486.6 442.9C506.6 442.5 496.4 442.2 500 441.8C503.6 441.4 505.6 440.9 507.9 440.3C510.2 439.8 512 439.1 514 438.5C514.8 446.3 515 453.3 515.5 460C516 466.7 516.5 469.6 517.4 479.6C518.3 489.6 519.7 508.3 520.7 520C521.7 531.7 522.4 540 523.5 550C524.6 560 525.7 567.8 527.5 580.3C529.3 592.8 531.6 612 534.2 625.1C536.8 638.2 540.1 648.2 543.1 658.7C546.1 669.2 549.6 680.4 552.1 687.8C554.6 695.2 556.2 698.4 558 703C559.8 707.6 561.1 711.2 562.6 715.3L12 722Z"/></clipPath>
<g clip-path="url(#plainB)">
<rect x="12" y="430" width="830" height="300" fill="#c69c6c"/>
<path d="M12 507.3C74.7 506.5 138.7 505.9 200 505C261.3 504.1 337.6 502.7 380 502.1C422.4 501.5 438.6 502 454.6 501.6C470.6 501.2 469.8 500.6 476 500C482.2 499.4 487.5 498.5 491.9 497.8C496.3 497.1 498.4 496.8 502.6 495.7C506.8 494.6 512.2 492.6 517 491L2000 491L2000 740L2 740Z" fill="#966e46"/>
<path d="M12 561.7C74.7 561 132 560.3 200 559.5C268 558.7 374 557.4 420 556.8C466 556.2 462.2 556.5 476 555.7C489.8 555 495.1 554.1 502.8 552.3C510.5 550.5 515.6 547.4 522 545L2000 545L2000 740L2 740Z" fill="#7a4d27"/>
<path d="M12 616.6C74.7 616.1 132 615.6 200 615C268 614.4 372.1 613.4 420 612.8C467.9 612.2 472.3 612.2 487.2 611.6C502.1 611 503.4 610.9 509.5 609.4C515.6 607.9 520.5 604.5 524.1 602.7C527.7 600.9 528.7 599.9 531 598.5L2000 598.5L2000 740L2 740Z" fill="#633a11"/>
<path d="M12 669.2C74.7 669 132 668.8 200 668.5C268 668.2 372.1 667.9 420 667.6C467.9 667.3 471.5 667.2 487.2 666.5C502.9 665.8 507.3 664.8 514 663.1C520.7 661.4 523.5 658.8 527.5 656.4C531.5 654 534.5 651.5 538 649L2000 649L2000 740L2 740Z" fill="#4e2d1a"/>
<path d="M12 507.3C74.7 506.5 138.7 505.9 200 505C261.3 504.1 337.6 502.7 380 502.1C422.4 501.5 438.6 502 454.6 501.6C470.6 501.2 469.8 500.6 476 500C482.2 499.4 487.5 498.5 491.9 497.8C496.3 497.1 498.4 496.8 502.6 495.7C506.8 494.6 512.2 492.6 517 491" fill="none" stroke="#231f20" stroke-width="3.1"/>
<path d="M12 561.7C74.7 561 132 560.3 200 559.5C268 558.7 374 557.4 420 556.8C466 556.2 462.2 556.5 476 555.7C489.8 555 495.1 554.1 502.8 552.3C510.5 550.5 515.6 547.4 522 545" fill="none" stroke="#231f20" stroke-width="3.1"/>
<path d="M12 616.6C74.7 616.1 132 615.6 200 615C268 614.4 372.1 613.4 420 612.8C467.9 612.2 472.3 612.2 487.2 611.6C502.1 611 503.4 610.9 509.5 609.4C515.6 607.9 520.5 604.5 524.1 602.7C527.7 600.9 528.7 599.9 531 598.5" fill="none" stroke="#231f20" stroke-width="3.1"/>
<path d="M12 669.2C74.7 669 132 668.8 200 668.5C268 668.2 372.1 667.9 420 667.6C467.9 667.3 471.5 667.2 487.2 666.5C502.9 665.8 507.3 664.8 514 663.1C520.7 661.4 523.5 658.8 527.5 656.4C531.5 654 534.5 651.5 538 649" fill="none" stroke="#231f20" stroke-width="3.1"/>
</g>
<clipPath id="s0B"><path d="M514 438.5C518.2 437.4 522.4 436.2 526.6 435.1C530.8 434 535.9 433.7 539.4 431.9C542.9 430.1 545 427.3 547.9 424.5C550.8 421.7 553.6 417.6 556.5 414.9C559.4 412.2 562.2 409.8 565 408.5C567.8 407.2 569.2 407.1 573.5 407C577.8 406.9 584.2 407.2 590.6 407.8C597 408.4 604.8 409.4 611.9 410.6C619 411.8 626.1 413.5 633.2 414.9C640.3 416.3 647.4 417.3 654.5 419.1C661.6 420.9 668.8 423.4 675.9 425.5C683 427.6 690.1 429.6 697.2 431.9C704.3 434.2 711.4 436.9 718.5 439.4C725.6 441.9 733.3 444.6 739.8 446.9C746.3 449.2 751.7 451 757.6 453L757.6 452C758.2 458 758.7 464.9 759.3 470C759.9 475.1 760.5 474.9 761.3 482.6C762.1 490.3 762.8 505.4 764.1 516.3C765.4 527.2 767.1 537.8 769 548C770.9 558.2 772.6 566.9 775.6 577.3C778.6 587.7 783.6 600.4 786.9 610.6C790.2 620.8 792.9 631.2 795.4 638.3C797.9 645.4 798.8 645.6 801.8 653.2C804.8 660.8 809.7 673.8 813.7 684C817.7 694.2 823.4 708.2 825.9 714.5C828.4 720.8 828 719.5 829 722C829 722 562.6 715.3 562.6 715.3C561.1 711.2 559.8 707.6 558 703C556.2 698.4 554.6 695.2 552.1 687.8C549.6 680.4 546.1 669.2 543.1 658.7C540.1 648.2 536.8 638.2 534.2 625.1C531.6 612 529.3 592.8 527.5 580.3C525.7 567.8 524.6 560 523.5 550C522.4 540 521.7 531.7 520.7 520C519.7 508.3 518.3 489.6 517.4 479.6C516.5 469.6 516 466.7 515.5 460C515 453.3 514.8 446.3 514.5 439.5Z"/></clipPath>
<path d="M514 438.5C518.2 437.4 522.4 436.2 526.6 435.1C530.8 434 535.9 433.7 539.4 431.9C542.9 430.1 545 427.3 547.9 424.5C550.8 421.7 553.6 417.6 556.5 414.9C559.4 412.2 562.2 409.8 565 408.5C567.8 407.2 569.2 407.1 573.5 407C577.8 406.9 584.2 407.2 590.6 407.8C597 408.4 604.8 409.4 611.9 410.6C619 411.8 626.1 413.5 633.2 414.9C640.3 416.3 647.4 417.3 654.5 419.1C661.6 420.9 668.8 423.4 675.9 425.5C683 427.6 690.1 429.6 697.2 431.9C704.3 434.2 711.4 436.9 718.5 439.4C725.6 441.9 733.3 444.6 739.8 446.9C746.3 449.2 751.7 451 757.6 453L757.6 452C758.2 458 758.7 464.9 759.3 470C759.9 475.1 760.5 474.9 761.3 482.6C762.1 490.3 762.8 505.4 764.1 516.3C765.4 527.2 767.1 537.8 769 548C770.9 558.2 772.6 566.9 775.6 577.3C778.6 587.7 783.6 600.4 786.9 610.6C790.2 620.8 792.9 631.2 795.4 638.3C797.9 645.4 798.8 645.6 801.8 653.2C804.8 660.8 809.7 673.8 813.7 684C817.7 694.2 823.4 708.2 825.9 714.5C828.4 720.8 828 719.5 829 722C829 722 562.6 715.3 562.6 715.3C561.1 711.2 559.8 707.6 558 703C556.2 698.4 554.6 695.2 552.1 687.8C549.6 680.4 546.1 669.2 543.1 658.7C540.1 648.2 536.8 638.2 534.2 625.1C531.6 612 529.3 592.8 527.5 580.3C525.7 567.8 524.6 560 523.5 550C522.4 540 521.7 531.7 520.7 520C519.7 508.3 518.3 489.6 517.4 479.6C516.5 469.6 516 466.7 515.5 460C515 453.3 514.8 446.3 514.5 439.5Z" fill="#c69c6c"/>
<g clip-path="url(#s0B)">
<path d="M518 490C519.6 485.8 521 480.6 522.9 477.5C524.8 474.4 526.5 473.1 529.3 471.2C532.1 469.2 535.5 467.2 539.9 465.8C544.3 464.4 549.6 463.3 555.9 462.9C562.2 462.5 570.2 462.7 577.8 463.5C585.3 464.3 590.2 465.5 601.2 467.6C612.2 469.7 629.3 472.5 643.9 476.2C658.5 479.9 673.7 484.8 688.6 489.6C703.5 494.5 720.8 500.9 733.4 505.3C746 509.7 753.8 512.4 764 516L2000 516L2000 900L508 900Z" fill="#966e46"/>
<path d="M523 545C524.9 541.1 526.4 536.8 528.6 533.3C530.8 529.8 532.1 526.7 536.4 524.3C540.7 521.9 547.6 519.8 554.3 518.7C561 517.6 567.4 516.9 576.7 517.6C586 518.4 599.1 520.8 610.3 523.2C621.5 525.6 630.8 528.4 643.9 532.2C657 536 673.7 541.3 688.6 546.2C703.5 551.1 719.2 556.6 733.4 561.8C747.6 567 760.5 572.3 774 577.5L2000 577.5L2000 900L513 900Z" fill="#7a4d27"/>
<path d="M527 597C529 592.9 530.7 588.3 533 584.8C535.3 581.3 536.6 578.2 540.9 575.8C545.2 573.4 552.1 571.1 558.8 570.2C565.5 569.3 572.6 569.3 581.2 570.2C589.8 571.1 599.8 573.2 610.3 575.8C620.8 578.4 630.8 581.8 643.9 585.9C657 590 673.7 595.5 688.6 600.5C703.5 605.5 716.2 610.6 733.4 616.1C750.6 621.6 772.5 627.7 792 633.5L2000 633.5L2000 900L517 900Z" fill="#633a11"/>
<path d="M538 657C540.5 653.1 543 649 545.4 645.2C547.8 641.4 548.8 636.8 552.1 634C555.5 631.2 559.5 629.1 565.5 628.4C571.5 627.7 578.6 628.1 587.9 629.6C597.2 631.1 610.3 634.4 621.5 637.4C632.7 640.4 643.9 644 655.1 647.5C666.3 651 675.6 654.3 688.6 658.7C701.6 663.1 718.5 669 733.4 674C748.3 679 764.4 684.3 778.2 688.8C792 693.3 803.4 696.9 816 701L2000 701L2000 900L528 900Z" fill="#4e2d1a"/>
<path d="M518 490C519.6 485.8 521 480.6 522.9 477.5C524.8 474.4 526.5 473.1 529.3 471.2C532.1 469.2 535.5 467.2 539.9 465.8C544.3 464.4 549.6 463.3 555.9 462.9C562.2 462.5 570.2 462.7 577.8 463.5C585.3 464.3 590.2 465.5 601.2 467.6C612.2 469.7 629.3 472.5 643.9 476.2C658.5 479.9 673.7 484.8 688.6 489.6C703.5 494.5 720.8 500.9 733.4 505.3C746 509.7 753.8 512.4 764 516" fill="none" stroke="#231f20" stroke-width="3.1"/>
<path d="M523 545C524.9 541.1 526.4 536.8 528.6 533.3C530.8 529.8 532.1 526.7 536.4 524.3C540.7 521.9 547.6 519.8 554.3 518.7C561 517.6 567.4 516.9 576.7 517.6C586 518.4 599.1 520.8 610.3 523.2C621.5 525.6 630.8 528.4 643.9 532.2C657 536 673.7 541.3 688.6 546.2C703.5 551.1 719.2 556.6 733.4 561.8C747.6 567 760.5 572.3 774 577.5" fill="none" stroke="#231f20" stroke-width="3.1"/>
<path d="M527 597C529 592.9 530.7 588.3 533 584.8C535.3 581.3 536.6 578.2 540.9 575.8C545.2 573.4 552.1 571.1 558.8 570.2C565.5 569.3 572.6 569.3 581.2 570.2C589.8 571.1 599.8 573.2 610.3 575.8C620.8 578.4 630.8 581.8 643.9 585.9C657 590 673.7 595.5 688.6 600.5C703.5 605.5 716.2 610.6 733.4 616.1C750.6 621.6 772.5 627.7 792 633.5" fill="none" stroke="#231f20" stroke-width="3.1"/>
<path d="M538 657C540.5 653.1 543 649 545.4 645.2C547.8 641.4 548.8 636.8 552.1 634C555.5 631.2 559.5 629.1 565.5 628.4C571.5 627.7 578.6 628.1 587.9 629.6C597.2 631.1 610.3 634.4 621.5 637.4C632.7 640.4 643.9 644 655.1 647.5C666.3 651 675.6 654.3 688.6 658.7C701.6 663.1 718.5 669 733.4 674C748.3 679 764.4 684.3 778.2 688.8C792 693.3 803.4 696.9 816 701" fill="none" stroke="#231f20" stroke-width="3.1"/>
</g>
<path d="M514 438.5C518.2 437.4 522.4 436.2 526.6 435.1C530.8 434 535.9 433.7 539.4 431.9C542.9 430.1 545 427.3 547.9 424.5C550.8 421.7 553.6 417.6 556.5 414.9C559.4 412.2 562.2 409.8 565 408.5C567.8 407.2 569.2 407.1 573.5 407C577.8 406.9 584.2 407.2 590.6 407.8C597 408.4 604.8 409.4 611.9 410.6C619 411.8 626.1 413.5 633.2 414.9C640.3 416.3 647.4 417.3 654.5 419.1C661.6 420.9 668.8 423.4 675.9 425.5C683 427.6 690.1 429.6 697.2 431.9C704.3 434.2 711.4 436.9 718.5 439.4C725.6 441.9 733.3 444.6 739.8 446.9C746.3 449.2 751.7 451 757.6 453" fill="none" stroke="#231f20" stroke-width="4.4" stroke-linejoin="round" stroke-linecap="round"/>
<clipPath id="s1B"><path d="M755 452.4C754.9 448.4 754.2 443.6 754.7 440.4C755.2 437.2 756.5 435.9 758.2 433.4C759.9 430.8 762.6 427.7 765.1 425.1C767.6 422.5 771.4 420 773.5 417.6C775.6 415.2 776.7 413.5 777.6 410.7C778.5 407.9 778.8 404.5 779 401C779.2 397.5 778.6 393.6 779 389.9C779.4 386.2 780 382 781.1 378.8C782.2 375.6 783.2 372.6 785.9 370.5C788.5 368.4 791.7 367.4 797 366.3C802.3 365.2 810.9 364 817.8 363.8C824.7 363.6 831.7 364.3 838.6 365.2C845.5 366.1 852.5 367.1 859.4 369.1C866.3 371.1 873.3 374.2 880.2 377.4C887.1 380.6 895 385.2 901 388.5C907 391.8 911.8 394.4 916.2 397.4C920.6 400.4 923.6 403.4 927.3 406.4L927.3 406C929.6 412.2 931.2 416.9 934.2 424.7C937.2 432.4 941.7 443.3 945.2 452.5C948.7 461.7 951.5 471.1 955.2 480C958.9 488.9 963.4 497.7 967.5 506C971.6 514.3 974.8 519.3 980 529.6C985.2 539.9 992.2 554.4 999 567.9C1005.8 581.4 1013.4 597.1 1021 610.6C1028.6 624.1 1036.7 636.9 1044.5 649C1052.3 661.1 1060.5 672.8 1068 683.1C1075.5 693.4 1083 702.2 1089.7 710.8C1096.4 719.4 1101.9 726.6 1108 734.5C1108 734.5 829 722 829 722C828 719.5 828.4 720.8 825.9 714.5C823.4 708.2 817.7 694.2 813.7 684C809.7 673.8 804.8 660.8 801.8 653.2C798.8 645.6 797.9 645.4 795.4 638.3C792.9 631.2 790.2 620.8 786.9 610.6C783.6 600.4 778.6 587.7 775.6 577.3C772.6 566.9 770.9 558.2 769 548C767.1 537.8 765.4 527.2 764.1 516.3C762.8 505.4 762.1 490.3 761.3 482.6C760.5 474.9 759.9 475.1 759.3 470C758.7 464.9 758.2 458 757.6 452Z"/></clipPath>
<path d="M755 452.4C754.9 448.4 754.2 443.6 754.7 440.4C755.2 437.2 756.5 435.9 758.2 433.4C759.9 430.8 762.6 427.7 765.1 425.1C767.6 422.5 771.4 420 773.5 417.6C775.6 415.2 776.7 413.5 777.6 410.7C778.5 407.9 778.8 404.5 779 401C779.2 397.5 778.6 393.6 779 389.9C779.4 386.2 780 382 781.1 378.8C782.2 375.6 783.2 372.6 785.9 370.5C788.5 368.4 791.7 367.4 797 366.3C802.3 365.2 810.9 364 817.8 363.8C824.7 363.6 831.7 364.3 838.6 365.2C845.5 366.1 852.5 367.1 859.4 369.1C866.3 371.1 873.3 374.2 880.2 377.4C887.1 380.6 895 385.2 901 388.5C907 391.8 911.8 394.4 916.2 397.4C920.6 400.4 923.6 403.4 927.3 406.4L927.3 406C929.6 412.2 931.2 416.9 934.2 424.7C937.2 432.4 941.7 443.3 945.2 452.5C948.7 461.7 951.5 471.1 955.2 480C958.9 488.9 963.4 497.7 967.5 506C971.6 514.3 974.8 519.3 980 529.6C985.2 539.9 992.2 554.4 999 567.9C1005.8 581.4 1013.4 597.1 1021 610.6C1028.6 624.1 1036.7 636.9 1044.5 649C1052.3 661.1 1060.5 672.8 1068 683.1C1075.5 693.4 1083 702.2 1089.7 710.8C1096.4 719.4 1101.9 726.6 1108 734.5C1108 734.5 829 722 829 722C828 719.5 828.4 720.8 825.9 714.5C823.4 708.2 817.7 694.2 813.7 684C809.7 673.8 804.8 660.8 801.8 653.2C798.8 645.6 797.9 645.4 795.4 638.3C792.9 631.2 790.2 620.8 786.9 610.6C783.6 600.4 778.6 587.7 775.6 577.3C772.6 566.9 770.9 558.2 769 548C767.1 537.8 765.4 527.2 764.1 516.3C762.8 505.4 762.1 490.3 761.3 482.6C760.5 474.9 759.9 475.1 759.3 470C758.7 464.9 758.2 458 757.6 452Z" fill="#966e46"/>
<g clip-path="url(#s1B)">
<path d="M757 460C758.3 457.3 759.6 454.4 761 451.8C762.4 449.2 763 447.2 765.1 444.1C767.2 441 770 436.3 773.5 433.1C777 429.9 780.8 427 785.9 424.7C791 422.4 797.5 420.4 804 419.2C810.5 418 817.8 417.3 824.7 417.5C831.6 417.7 837.4 418.5 845.5 420.6C853.6 422.7 864 426.4 873.3 430.3C882.5 434.2 891.8 439.5 901 444.1C910.2 448.7 921.3 454.3 928.7 458C936.1 461.7 941.4 464.4 945.3 466.3C949.2 468.2 949.8 468.5 952 469.6L2000 469.6L2000 900L747 900Z" fill="#7a4d27"/>
<path d="M763 502C764.6 499.8 766.2 497.7 767.7 495.5C769.2 493.3 769.5 491.5 772 489C774.5 486.5 778 483 782.6 480.5C787.2 478 793.3 475.4 799.7 474.1C806.1 472.9 813.2 472.5 821 473C828.8 473.5 837 474.8 846.6 477.3C856.2 479.8 867.9 483.9 878.6 488C889.3 492.1 899.9 496.8 910.6 501.8C921.3 506.8 932 512.1 942.6 517.8C953.2 523.5 967.4 532 974.5 536C981.6 540 981.5 540 985 542L2000 542L2000 900L753 900Z" fill="#633a11"/>
<path d="M772 559C773.8 556.7 775.5 554.4 777.3 552C779.1 549.6 779.6 547.2 782.6 544.5C785.6 541.8 790.4 538.1 795.4 536C800.4 533.9 805.7 532.2 812.5 531.7C819.3 531.2 826.8 531.4 836 532.8C845.2 534.2 857.2 536.8 867.9 540.2C878.5 543.6 889.2 548.4 899.9 553C910.6 557.6 921.2 562.6 931.9 567.9C942.6 573.2 953.2 579 963.9 585C974.6 591 987.4 599.2 995.9 604.2C1004.4 609.2 1010 612 1015 614.8C1020 617.6 1022.3 618.9 1026 621L2000 621L2000 900L762 900Z" fill="#4e2d1a"/>
<path d="M757 460C758.3 457.3 759.6 454.4 761 451.8C762.4 449.2 763 447.2 765.1 444.1C767.2 441 770 436.3 773.5 433.1C777 429.9 780.8 427 785.9 424.7C791 422.4 797.5 420.4 804 419.2C810.5 418 817.8 417.3 824.7 417.5C831.6 417.7 837.4 418.5 845.5 420.6C853.6 422.7 864 426.4 873.3 430.3C882.5 434.2 891.8 439.5 901 444.1C910.2 448.7 921.3 454.3 928.7 458C936.1 461.7 941.4 464.4 945.3 466.3C949.2 468.2 949.8 468.5 952 469.6" fill="none" stroke="#231f20" stroke-width="3.1"/>
<path d="M763 502C764.6 499.8 766.2 497.7 767.7 495.5C769.2 493.3 769.5 491.5 772 489C774.5 486.5 778 483 782.6 480.5C787.2 478 793.3 475.4 799.7 474.1C806.1 472.9 813.2 472.5 821 473C828.8 473.5 837 474.8 846.6 477.3C856.2 479.8 867.9 483.9 878.6 488C889.3 492.1 899.9 496.8 910.6 501.8C921.3 506.8 932 512.1 942.6 517.8C953.2 523.5 967.4 532 974.5 536C981.6 540 981.5 540 985 542" fill="none" stroke="#231f20" stroke-width="3.1"/>
<path d="M772 559C773.8 556.7 775.5 554.4 777.3 552C779.1 549.6 779.6 547.2 782.6 544.5C785.6 541.8 790.4 538.1 795.4 536C800.4 533.9 805.7 532.2 812.5 531.7C819.3 531.2 826.8 531.4 836 532.8C845.2 534.2 857.2 536.8 867.9 540.2C878.5 543.6 889.2 548.4 899.9 553C910.6 557.6 921.2 562.6 931.9 567.9C942.6 573.2 953.2 579 963.9 585C974.6 591 987.4 599.2 995.9 604.2C1004.4 609.2 1010 612 1015 614.8C1020 617.6 1022.3 618.9 1026 621" fill="none" stroke="#231f20" stroke-width="3.1"/>
</g>
<path d="M755 452.4C754.9 448.4 754.2 443.6 754.7 440.4C755.2 437.2 756.5 435.9 758.2 433.4C759.9 430.8 762.6 427.7 765.1 425.1C767.6 422.5 771.4 420 773.5 417.6C775.6 415.2 776.7 413.5 777.6 410.7C778.5 407.9 778.8 404.5 779 401C779.2 397.5 778.6 393.6 779 389.9C779.4 386.2 780 382 781.1 378.8C782.2 375.6 783.2 372.6 785.9 370.5C788.5 368.4 791.7 367.4 797 366.3C802.3 365.2 810.9 364 817.8 363.8C824.7 363.6 831.7 364.3 838.6 365.2C845.5 366.1 852.5 367.1 859.4 369.1C866.3 371.1 873.3 374.2 880.2 377.4C887.1 380.6 895 385.2 901 388.5C907 391.8 911.8 394.4 916.2 397.4C920.6 400.4 923.6 403.4 927.3 406.4" fill="none" stroke="#231f20" stroke-width="3.6" stroke-linejoin="round" stroke-linecap="round"/>
<clipPath id="s2B"><path d="M928.8 405.2C929.2 402.4 928.8 399.7 929.9 396.7C931 393.7 933.1 390.1 935.2 387.1C937.3 384.1 940.5 381.8 942.6 378.6C944.7 375.4 947 372.5 948 367.9C949 363.3 948.5 355.9 948.6 350.9C948.7 345.9 948 341.7 948.6 338.1C949.2 334.6 949.6 332.3 952.2 329.6C954.8 326.9 958.5 324 964 322.1C969.5 320.2 978.2 319 985.3 318.5C992.4 318 999.5 318.5 1006.6 319.3C1013.7 320.1 1020.8 321.5 1027.9 323.2C1035 324.9 1042.2 327.1 1049.3 329.6C1056.4 332.1 1064 335.1 1070.6 338.1C1077.2 341.1 1082.7 344.5 1088.7 347.7C1093.3 357.3 1097.8 367.1 1102.6 376.5C1107.4 385.9 1112.2 395 1117.5 404.2C1122.8 413.4 1127.9 421.9 1134.5 431.9C1141.1 441.9 1149.6 453.5 1157 464C1164.4 474.5 1170.8 483.7 1179 495C1187.2 506.3 1197 519.6 1206 532C1215 544.4 1224.3 557.3 1233.3 569.3C1242.3 581.3 1251 592.3 1259.9 603.9C1268.8 615.5 1277.7 627.5 1286.6 638.6C1295.5 649.7 1304.3 660 1313.2 670.6C1322.1 681.2 1331 692.3 1339.9 702.5C1348.8 712.7 1357.8 722 1366.5 731.9C1375.2 741.8 1383.5 752 1392 762C1392 762 1108 734.5 1108 734.5C1101.9 726.6 1096.4 719.4 1089.7 710.8C1083 702.2 1075.5 693.4 1068 683.1C1060.5 672.8 1052.3 661.1 1044.5 649C1036.7 636.9 1028.6 624.1 1021 610.6C1013.4 597.1 1005.8 581.4 999 567.9C992.2 554.4 985.2 539.9 980 529.6C974.8 519.3 971.6 514.3 967.5 506C963.4 497.7 958.9 488.9 955.2 480C951.5 471.1 948.7 461.7 945.2 452.5C941.7 443.3 937.2 432.4 934.2 424.7C931.2 416.9 929.6 412.2 927.3 406Z"/></clipPath>
<path d="M928.8 405.2C929.2 402.4 928.8 399.7 929.9 396.7C931 393.7 933.1 390.1 935.2 387.1C937.3 384.1 940.5 381.8 942.6 378.6C944.7 375.4 947 372.5 948 367.9C949 363.3 948.5 355.9 948.6 350.9C948.7 345.9 948 341.7 948.6 338.1C949.2 334.6 949.6 332.3 952.2 329.6C954.8 326.9 958.5 324 964 322.1C969.5 320.2 978.2 319 985.3 318.5C992.4 318 999.5 318.5 1006.6 319.3C1013.7 320.1 1020.8 321.5 1027.9 323.2C1035 324.9 1042.2 327.1 1049.3 329.6C1056.4 332.1 1064 335.1 1070.6 338.1C1077.2 341.1 1082.7 344.5 1088.7 347.7C1093.3 357.3 1097.8 367.1 1102.6 376.5C1107.4 385.9 1112.2 395 1117.5 404.2C1122.8 413.4 1127.9 421.9 1134.5 431.9C1141.1 441.9 1149.6 453.5 1157 464C1164.4 474.5 1170.8 483.7 1179 495C1187.2 506.3 1197 519.6 1206 532C1215 544.4 1224.3 557.3 1233.3 569.3C1242.3 581.3 1251 592.3 1259.9 603.9C1268.8 615.5 1277.7 627.5 1286.6 638.6C1295.5 649.7 1304.3 660 1313.2 670.6C1322.1 681.2 1331 692.3 1339.9 702.5C1348.8 712.7 1357.8 722 1366.5 731.9C1375.2 741.8 1383.5 752 1392 762C1392 762 1108 734.5 1108 734.5C1101.9 726.6 1096.4 719.4 1089.7 710.8C1083 702.2 1075.5 693.4 1068 683.1C1060.5 672.8 1052.3 661.1 1044.5 649C1036.7 636.9 1028.6 624.1 1021 610.6C1013.4 597.1 1005.8 581.4 999 567.9C992.2 554.4 985.2 539.9 980 529.6C974.8 519.3 971.6 514.3 967.5 506C963.4 497.7 958.9 488.9 955.2 480C951.5 471.1 948.7 461.7 945.2 452.5C941.7 443.3 937.2 432.4 934.2 424.7C931.2 416.9 929.6 412.2 927.3 406Z" fill="#7a4d27"/>
<g clip-path="url(#s2B)">
<path d="M931 424C933.1 419.5 935.8 414.3 937.3 410.6C938.8 406.9 938.6 404.9 939.9 402C941.1 399.1 941.8 396.7 944.8 393.5C947.8 390.3 952.6 385.9 957.6 382.9C962.6 379.9 968.2 377.2 974.6 375.4C981 373.6 988.9 372.5 996 372.2C1003.1 371.9 1010.2 372.2 1017.3 373.3C1024.4 374.4 1031.5 376.3 1038.6 378.6C1045.7 380.9 1052.8 383.9 1059.9 387.1C1067 390.3 1074.1 393.9 1081.2 397.8C1088.3 401.7 1095.5 406.3 1102.6 410.6C1109.7 414.9 1118.2 419.9 1123.9 423.4C1129.6 426.9 1132.6 428.8 1137 431.5L2000 431.5L2000 900L921 900Z" fill="#633a11"/>
<path d="M949 464C951.1 461.1 953.3 457.9 955.4 455.4C957.5 452.9 958.6 451.7 961.8 449C965 446.3 969.6 442.1 974.6 439.4C979.6 436.7 985.3 434.4 991.7 433C998.1 431.6 1005.2 430.6 1013 430.8C1020.8 431 1029 431.7 1038.6 434C1048.2 436.3 1059.9 440.4 1070.6 444.7C1081.3 449 1091.9 454.3 1102.6 459.6C1113.2 464.9 1123.1 470.6 1134.5 476.7C1145.9 482.8 1162.9 491.7 1170.8 495.9C1178.7 500.1 1178.3 500 1182 502L2000 502L2000 900L939 900Z" fill="#4e2d1a"/>
<path d="M931 424C933.1 419.5 935.8 414.3 937.3 410.6C938.8 406.9 938.6 404.9 939.9 402C941.1 399.1 941.8 396.7 944.8 393.5C947.8 390.3 952.6 385.9 957.6 382.9C962.6 379.9 968.2 377.2 974.6 375.4C981 373.6 988.9 372.5 996 372.2C1003.1 371.9 1010.2 372.2 1017.3 373.3C1024.4 374.4 1031.5 376.3 1038.6 378.6C1045.7 380.9 1052.8 383.9 1059.9 387.1C1067 390.3 1074.1 393.9 1081.2 397.8C1088.3 401.7 1095.5 406.3 1102.6 410.6C1109.7 414.9 1118.2 419.9 1123.9 423.4C1129.6 426.9 1132.6 428.8 1137 431.5" fill="none" stroke="#231f20" stroke-width="3.1"/>
<path d="M949 464C951.1 461.1 953.3 457.9 955.4 455.4C957.5 452.9 958.6 451.7 961.8 449C965 446.3 969.6 442.1 974.6 439.4C979.6 436.7 985.3 434.4 991.7 433C998.1 431.6 1005.2 430.6 1013 430.8C1020.8 431 1029 431.7 1038.6 434C1048.2 436.3 1059.9 440.4 1070.6 444.7C1081.3 449 1091.9 454.3 1102.6 459.6C1113.2 464.9 1123.1 470.6 1134.5 476.7C1145.9 482.8 1162.9 491.7 1170.8 495.9C1178.7 500.1 1178.3 500 1182 502" fill="none" stroke="#231f20" stroke-width="3.1"/>
</g>
<path d="M928.8 405.2C929.2 402.4 928.8 399.7 929.9 396.7C931 393.7 933.1 390.1 935.2 387.1C937.3 384.1 940.5 381.8 942.6 378.6C944.7 375.4 947 372.5 948 367.9C949 363.3 948.5 355.9 948.6 350.9C948.7 345.9 948 341.7 948.6 338.1C949.2 334.6 949.6 332.3 952.2 329.6C954.8 326.9 958.5 324 964 322.1C969.5 320.2 978.2 319 985.3 318.5C992.4 318 999.5 318.5 1006.6 319.3C1013.7 320.1 1020.8 321.5 1027.9 323.2C1035 324.9 1042.2 327.1 1049.3 329.6C1056.4 332.1 1064 335.1 1070.6 338.1C1077.2 341.1 1082.7 344.5 1088.7 347.7" fill="none" stroke="#231f20" stroke-width="3.6" stroke-linejoin="round" stroke-linecap="round"/>
<clipPath id="s3B"><path d="M1089.8 346.6C1090.1 343.8 1089.7 340.6 1090.8 338.1C1091.9 335.6 1093.7 333.8 1096.2 331.7C1098.7 329.6 1103.3 327.4 1105.8 325.3C1108.3 323.2 1110 321.8 1111.1 318.9C1112.2 316 1112.4 312.1 1112.2 308.2C1112 304.3 1110.5 299.7 1110 295.4C1109.5 291.1 1108.5 286.2 1109 282.6C1109.5 279.1 1110.7 276.6 1113.2 274.1C1115.7 271.6 1118.6 269.2 1123.9 267.7C1129.2 266.2 1138.1 265.4 1145.2 265.2C1152.3 265 1159.4 265.6 1166.5 266.7C1173.6 267.8 1180.7 269.7 1187.8 272C1194.9 274.3 1202.1 277.5 1209.2 280.5C1216.3 283.5 1223.4 286.7 1230.5 290.1C1237.6 293.5 1247.1 296.7 1251.8 300.8C1256.5 304.9 1256.3 310.3 1258.5 315L1259.3 315.7C1263.9 322.5 1266.3 325.9 1273.1 336C1279.9 346.1 1290.8 362.7 1300 376.5C1309.2 390.3 1318.7 405.1 1328 419C1337.3 432.9 1347.2 448.3 1355.9 460C1364.6 471.7 1371.5 479.1 1379.9 489.3C1388.3 499.5 1397.6 510.6 1406.5 521.3C1415.4 532 1424.3 543.1 1433.2 553.3C1442.1 563.5 1450.9 572.8 1459.8 582.6C1468.7 592.4 1477.8 602.5 1486.5 611.9C1495.2 621.3 1503.3 630.4 1512 639C1520.7 647.6 1529.5 655.7 1538.5 663.5C1547.5 671.3 1556 678.1 1566 686C1576 693.9 1588 703.2 1598.5 711C1609 718.8 1618.8 725.9 1629 732.5C1639.2 739.1 1649.9 744.9 1660 750.4C1670.1 755.9 1679.7 760.7 1689.6 765.4C1699.5 770.1 1709.5 774.4 1719.4 778.8C1729.4 783.1 1739.3 787.3 1749.3 791.5C1759.2 795.7 1769.1 800.4 1779.1 804.2C1789 808.1 1799 811.1 1809 814.6C1809 814.6 1392 762 1392 762C1383.5 752 1375.2 741.8 1366.5 731.9C1357.8 722 1348.8 712.7 1339.9 702.5C1331 692.3 1322.1 681.2 1313.2 670.6C1304.3 660 1295.5 649.7 1286.6 638.6C1277.7 627.5 1268.8 615.5 1259.9 603.9C1251 592.3 1242.3 581.3 1233.3 569.3C1224.3 557.3 1215 544.4 1206 532C1197 519.6 1187.2 506.3 1179 495C1170.8 483.7 1164.4 474.5 1157 464C1149.6 453.5 1141.1 441.9 1134.5 431.9C1127.9 421.9 1122.8 413.4 1117.5 404.2C1112.2 395 1107.4 385.9 1102.6 376.5C1097.8 367.1 1093.3 357.3 1088.7 347.7Z"/></clipPath>
<path d="M1089.8 346.6C1090.1 343.8 1089.7 340.6 1090.8 338.1C1091.9 335.6 1093.7 333.8 1096.2 331.7C1098.7 329.6 1103.3 327.4 1105.8 325.3C1108.3 323.2 1110 321.8 1111.1 318.9C1112.2 316 1112.4 312.1 1112.2 308.2C1112 304.3 1110.5 299.7 1110 295.4C1109.5 291.1 1108.5 286.2 1109 282.6C1109.5 279.1 1110.7 276.6 1113.2 274.1C1115.7 271.6 1118.6 269.2 1123.9 267.7C1129.2 266.2 1138.1 265.4 1145.2 265.2C1152.3 265 1159.4 265.6 1166.5 266.7C1173.6 267.8 1180.7 269.7 1187.8 272C1194.9 274.3 1202.1 277.5 1209.2 280.5C1216.3 283.5 1223.4 286.7 1230.5 290.1C1237.6 293.5 1247.1 296.7 1251.8 300.8C1256.5 304.9 1256.3 310.3 1258.5 315L1259.3 315.7C1263.9 322.5 1266.3 325.9 1273.1 336C1279.9 346.1 1290.8 362.7 1300 376.5C1309.2 390.3 1318.7 405.1 1328 419C1337.3 432.9 1347.2 448.3 1355.9 460C1364.6 471.7 1371.5 479.1 1379.9 489.3C1388.3 499.5 1397.6 510.6 1406.5 521.3C1415.4 532 1424.3 543.1 1433.2 553.3C1442.1 563.5 1450.9 572.8 1459.8 582.6C1468.7 592.4 1477.8 602.5 1486.5 611.9C1495.2 621.3 1503.3 630.4 1512 639C1520.7 647.6 1529.5 655.7 1538.5 663.5C1547.5 671.3 1556 678.1 1566 686C1576 693.9 1588 703.2 1598.5 711C1609 718.8 1618.8 725.9 1629 732.5C1639.2 739.1 1649.9 744.9 1660 750.4C1670.1 755.9 1679.7 760.7 1689.6 765.4C1699.5 770.1 1709.5 774.4 1719.4 778.8C1729.4 783.1 1739.3 787.3 1749.3 791.5C1759.2 795.7 1769.1 800.4 1779.1 804.2C1789 808.1 1799 811.1 1809 814.6C1809 814.6 1392 762 1392 762C1383.5 752 1375.2 741.8 1366.5 731.9C1357.8 722 1348.8 712.7 1339.9 702.5C1331 692.3 1322.1 681.2 1313.2 670.6C1304.3 660 1295.5 649.7 1286.6 638.6C1277.7 627.5 1268.8 615.5 1259.9 603.9C1251 592.3 1242.3 581.3 1233.3 569.3C1224.3 557.3 1215 544.4 1206 532C1197 519.6 1187.2 506.3 1179 495C1170.8 483.7 1164.4 474.5 1157 464C1149.6 453.5 1141.1 441.9 1134.5 431.9C1127.9 421.9 1122.8 413.4 1117.5 404.2C1112.2 395 1107.4 385.9 1102.6 376.5C1097.8 367.1 1093.3 357.3 1088.7 347.7Z" fill="#633a11"/>
<g clip-path="url(#s3B)">
<path d="M1117 398C1117.9 394.4 1119 391.4 1119.6 387.1C1120.2 382.8 1119.6 377.5 1120.7 372.2C1121.8 366.9 1123 360.4 1126 355.1C1129 349.8 1133.8 344.1 1138.8 340.2C1143.8 336.3 1149.5 333.5 1155.9 331.7C1162.3 329.9 1170.1 329.6 1177.2 329.6C1184.3 329.6 1191.4 330.5 1198.5 331.7C1205.6 332.9 1212.7 334.9 1219.8 337C1226.9 339.1 1234.1 341.8 1241.2 344.5C1248.3 347.2 1255.4 349.8 1262.5 353C1269.6 356.2 1277.5 360.4 1283.8 363.7C1290 367 1294.6 369.9 1300 373L2000 373L2000 900L1107 900Z" fill="#4e2d1a"/>
<path d="M1117 398C1117.9 394.4 1119 391.4 1119.6 387.1C1120.2 382.8 1119.6 377.5 1120.7 372.2C1121.8 366.9 1123 360.4 1126 355.1C1129 349.8 1133.8 344.1 1138.8 340.2C1143.8 336.3 1149.5 333.5 1155.9 331.7C1162.3 329.9 1170.1 329.6 1177.2 329.6C1184.3 329.6 1191.4 330.5 1198.5 331.7C1205.6 332.9 1212.7 334.9 1219.8 337C1226.9 339.1 1234.1 341.8 1241.2 344.5C1248.3 347.2 1255.4 349.8 1262.5 353C1269.6 356.2 1277.5 360.4 1283.8 363.7C1290 367 1294.6 369.9 1300 373" fill="none" stroke="#231f20" stroke-width="3.1"/>
</g>
<path d="M1089.8 346.6C1090.1 343.8 1089.7 340.6 1090.8 338.1C1091.9 335.6 1093.7 333.8 1096.2 331.7C1098.7 329.6 1103.3 327.4 1105.8 325.3C1108.3 323.2 1110 321.8 1111.1 318.9C1112.2 316 1112.4 312.1 1112.2 308.2C1112 304.3 1110.5 299.7 1110 295.4C1109.5 291.1 1108.5 286.2 1109 282.6C1109.5 279.1 1110.7 276.6 1113.2 274.1C1115.7 271.6 1118.6 269.2 1123.9 267.7C1129.2 266.2 1138.1 265.4 1145.2 265.2C1152.3 265 1159.4 265.6 1166.5 266.7C1173.6 267.8 1180.7 269.7 1187.8 272C1194.9 274.3 1202.1 277.5 1209.2 280.5C1216.3 283.5 1223.4 286.7 1230.5 290.1C1237.6 293.5 1247.1 296.7 1251.8 300.8C1256.5 304.9 1256.3 310.3 1258.5 315" fill="none" stroke="#231f20" stroke-width="3.6" stroke-linejoin="round" stroke-linecap="round"/>
<path d="M1258.5 315C1257.1 309.7 1254.7 303.7 1254.2 299C1253.7 294.3 1254.7 290.7 1255.6 287C1256.5 283.3 1257.5 280.8 1259.5 277C1261.5 273.2 1263.6 269.1 1267.5 264.5C1271.4 259.9 1276.2 254.5 1283 249.2C1289.8 243.9 1300 237.3 1308.5 232.6C1317 227.9 1323.3 225.3 1334 221C1344.7 216.7 1361.5 210.8 1372.5 207C1383.5 203.2 1390.3 201.9 1400 198.5C1409.7 195.1 1419.3 191.5 1430.6 186.3C1441.9 181.1 1455.5 173.2 1467.9 167.5C1480.3 161.8 1492.8 157.1 1505.2 152.4C1517.6 147.7 1530 143.2 1542.5 139.3C1555 135.4 1569.3 131.4 1579.9 128.9C1590.5 126.4 1596.7 125.5 1606 124.4C1615.3 123.3 1624.6 122.9 1635.8 122.5C1647 122.1 1660.7 122.1 1673.1 121.8C1685.5 121.5 1698 121.4 1710.4 120.7C1722.9 120 1735.3 118.6 1747.8 117.7C1760.2 116.8 1772.7 116 1785.1 115.1C1797.5 114.2 1810 113 1822.4 112.4C1834.8 111.8 1847.3 111.5 1859.7 111.7C1872.1 112 1884.6 112.9 1897 113.9C1909.4 115 1923.1 116.9 1934.3 118C1945.5 119.1 1954.8 120.1 1964.2 120.7C1973.7 121.3 1982.1 121.4 1991 121.8L1991 847L1991 847L1930 836.5L1880 828L1839 820.6L1809 814.6L1809 814.6C1799 811.1 1789 808.1 1779.1 804.2C1769.1 800.4 1759.2 795.7 1749.3 791.5C1739.3 787.3 1729.4 783.1 1719.4 778.8C1709.5 774.4 1699.5 770.1 1689.6 765.4C1679.7 760.7 1670.1 755.9 1660 750.4C1649.9 744.9 1639.2 739.1 1629 732.5C1618.8 725.9 1609 718.8 1598.5 711C1588 703.2 1576 693.9 1566 686C1556 678.1 1547.5 671.3 1538.5 663.5C1529.5 655.7 1520.7 647.6 1512 639C1503.3 630.4 1495.2 621.3 1486.5 611.9C1477.8 602.5 1468.7 592.4 1459.8 582.6C1450.9 572.8 1442.1 563.5 1433.2 553.3C1424.3 543.1 1415.4 532 1406.5 521.3C1397.6 510.6 1388.3 499.5 1379.9 489.3C1371.5 479.1 1364.6 471.7 1355.9 460C1347.2 448.3 1337.3 432.9 1328 419C1318.7 405.1 1309.2 390.3 1300 376.5C1290.8 362.7 1279.9 346.1 1273.1 336C1266.3 325.9 1263.9 322.5 1259.3 315.7Z" fill="#58595b"/>
<path d="M1258.5 315C1257.1 309.7 1254.7 303.7 1254.2 299C1253.7 294.3 1254.7 290.7 1255.6 287C1256.5 283.3 1257.5 280.8 1259.5 277C1261.5 273.2 1263.6 269.1 1267.5 264.5C1271.4 259.9 1276.2 254.5 1283 249.2C1289.8 243.9 1300 237.3 1308.5 232.6C1317 227.9 1323.3 225.3 1334 221C1344.7 216.7 1361.5 210.8 1372.5 207C1383.5 203.2 1390.3 201.9 1400 198.5C1409.7 195.1 1419.3 191.5 1430.6 186.3C1441.9 181.1 1455.5 173.2 1467.9 167.5C1480.3 161.8 1492.8 157.1 1505.2 152.4C1517.6 147.7 1530 143.2 1542.5 139.3C1555 135.4 1569.3 131.4 1579.9 128.9C1590.5 126.4 1596.7 125.5 1606 124.4C1615.3 123.3 1624.6 122.9 1635.8 122.5C1647 122.1 1660.7 122.1 1673.1 121.8C1685.5 121.5 1698 121.4 1710.4 120.7C1722.9 120 1735.3 118.6 1747.8 117.7C1760.2 116.8 1772.7 116 1785.1 115.1C1797.5 114.2 1810 113 1822.4 112.4C1834.8 111.8 1847.3 111.5 1859.7 111.7C1872.1 112 1884.6 112.9 1897 113.9C1909.4 115 1923.1 116.9 1934.3 118C1945.5 119.1 1954.8 120.1 1964.2 120.7C1973.7 121.3 1982.1 121.4 1991 121.8" fill="none" stroke="#231f20" stroke-width="3.2" stroke-linecap="round"/>
<path d="M12 451.3C74.7 450.2 138.7 449.2 200 448C261.3 446.8 332.2 444.9 380 444C427.8 443.1 466.6 443.3 486.6 442.9C506.6 442.5 496.4 442.2 500 441.8C503.6 441.4 505.6 440.9 507.9 440.3C510.2 439.8 512 439.1 514 438.5" fill="none" stroke="#231f20" stroke-width="4.4"/>
<path d="M509.1 439.7L509.3 443.2L509.4 446.6L509.6 450L509.7 453.5L509.9 457L510.2 460.4L510.4 463.5L510.7 466.4L511 469.1L511.3 472.1L511.7 475.6L512.1 480.1L512.6 485.7L513.1 492.3L513.7 499.6L514.3 507L514.9 514.1L515.5 520.4L516 526L516.4 531.2L516.9 536.1L517.3 540.9L517.8 545.6L518.3 550.6L518.9 555.5L519.5 560.2L520.2 564.9L520.8 569.8L521.6 575.1L522.4 581L523.4 587.7L524.4 595.3L525.5 603.2L526.7 611.2L527.9 619L529.2 626.1L530.6 632.5L532.1 638.5L533.7 644.2L535.2 649.6L536.8 654.9L538.3 660.1L539.9 665.4L541.5 670.7L543.1 675.9L544.6 680.8L546.1 685.3L547.5 689.4L548.7 692.8L549.8 695.8L550.8 698.3L551.8 700.5L552.6 702.6L553.5 704.7L554.3 706.9L555.1 709L555.9 711L556.6 713L557.4 714.9L558.1 717L567.1 713.6L566.3 711.6L565.6 709.6L564.9 707.7L564.1 705.6L563.3 703.5L562.5 701.3L561.6 699L560.7 696.8L559.8 694.6L558.9 692.2L557.9 689.5L556.7 686.2L555.5 682.3L554 677.8L552.5 672.9L550.9 667.8L549.4 662.6L547.9 657.3L546.4 652.1L544.8 646.9L543.3 641.5L541.9 636L540.5 630.3L539.2 624.1L537.9 617.3L536.7 609.7L535.6 601.8L534.5 593.9L533.5 586.4L532.6 579.6L531.7 573.7L531 568.4L530.4 563.5L529.8 558.9L529.2 554.2L528.7 549.4L528.1 544.6L527.7 539.9L527.3 535.2L526.8 530.3L526.4 525.1L525.9 519.6L525.4 513.2L524.8 506.1L524.3 498.7L523.7 491.5L523.2 484.8L522.7 479.1L522.3 474.6L521.9 471L521.6 468L521.3 465.3L521.1 462.6L520.8 459.6L520.6 456.3L520.5 453L520.3 449.6L520.2 446.1L520 442.7L519.9 439.3Z" fill="#252529"/>
<path d="M752.1 452.5L752.4 455.6L752.7 458.7L753 461.8L753.3 464.9L753.6 467.9L753.9 470.7L754.2 473L754.6 474.9L754.9 476.4L755.2 478L755.5 480.1L755.9 483.1L756.3 487.5L756.7 492.7L757.1 498.7L757.6 504.9L758.1 511.1L758.7 516.9L759.4 522.4L760.2 527.9L761 533.3L761.9 538.6L762.8 543.8L763.7 549L764.7 554L765.7 558.9L766.7 563.7L767.8 568.6L769.1 573.6L770.5 578.8L772.2 584.3L774.1 590L776.2 595.8L778.2 601.5L780.1 607L781.9 612.2L783.5 617.2L785 622.2L786.4 627.1L787.8 631.7L789.2 636.1L790.5 640L791.7 643.2L792.7 645.7L793.7 647.8L794.6 649.7L795.7 652L797 655.1L798.7 659.3L800.5 664.1L802.6 669.5L804.7 675L806.9 680.5L808.9 685.9L811.1 691.2L813.4 696.9L815.6 702.6L817.8 707.9L819.7 712.6L821.2 716.4L822.3 719L823 720.6L823.4 721.6L823.7 722.3L824 723L824.4 723.9L833.6 720.1L833.2 719.1L832.9 718.4L832.6 717.7L832.3 716.8L831.6 715.2L830.6 712.6L829.1 708.9L827.2 704.2L825.1 698.8L822.8 693.2L820.6 687.5L818.5 682.1L816.4 676.9L814.3 671.3L812.2 665.8L810.1 660.5L808.3 655.5L806.6 651.3L805.2 647.9L804 645.3L803.1 643.3L802.2 641.5L801.4 639.4L800.3 636.6L799.1 632.9L797.8 628.7L796.5 624.1L795 619.2L793.5 614.1L791.9 609L790.1 603.6L788.1 598L786.1 592.3L784.1 586.6L782.3 581.1L780.7 575.8L779.3 570.9L778.2 566.1L777.1 561.4L776.1 556.7L775.2 552L774.3 547L773.3 541.9L772.5 536.8L771.6 531.6L770.8 526.3L770.1 521L769.5 515.7L768.9 510L768.4 504L767.9 497.9L767.5 491.9L767.1 486.6L766.7 482.1L766.3 478.6L765.9 476.1L765.6 474.2L765.3 472.8L765 471.3L764.7 469.3L764.4 466.7L764.2 463.9L763.9 460.8L763.6 457.7L763.4 454.6L763.1 451.5Z" fill="#252529"/>
<path d="M922.1 407.9L923.2 410.9L924.3 413.8L925.3 416.7L926.5 419.7L927.7 423L929.1 426.7L930.7 430.8L932.5 435.3L934.4 440.1L936.4 444.9L938.3 449.8L940.1 454.4L941.8 459L943.4 463.5L945 468.1L946.6 472.8L948.4 477.4L950.2 482.1L952.2 486.6L954.2 491.1L956.4 495.6L958.5 499.9L960.6 504.2L962.7 508.4L964.8 512.4L966.7 516L968.6 519.6L970.7 523.3L972.8 527.3L975.3 532L978 537.4L981 543.5L984.2 549.9L987.5 556.6L990.9 563.4L994.3 570.3L997.8 577.2L1001.4 584.3L1005.1 591.6L1008.8 598.9L1012.6 606.1L1016.5 613.1L1020.3 619.9L1024.3 626.6L1028.2 633.1L1032.2 639.4L1036.2 645.7L1040.2 651.8L1044.1 657.9L1048.1 663.8L1052.1 669.6L1056.1 675.3L1060 680.8L1063.9 686.1L1067.7 691.2L1071.5 696.1L1075.2 700.8L1078.8 705.3L1082.3 709.6L1085.7 713.9L1089 718.1L1092.1 722.1L1095.1 726L1098.1 729.8L1101 733.7L1104 737.6L1112 731.4L1109 727.5L1106 723.7L1103 719.8L1100 715.9L1096.9 711.9L1093.7 707.7L1090.3 703.3L1086.7 698.9L1083.1 694.4L1079.5 689.8L1075.8 685L1072.1 680.1L1068.3 674.9L1064.5 669.4L1060.6 663.8L1056.7 658L1052.7 652.2L1048.8 646.2L1044.9 640.1L1041 633.9L1037.1 627.6L1033.2 621.2L1029.3 614.7L1025.5 608.1L1021.8 601.2L1018.1 594.1L1014.4 586.9L1010.7 579.6L1007.2 572.5L1003.7 565.5L1000.3 558.7L996.9 551.9L993.6 545.2L990.5 538.8L987.5 532.7L984.7 527.2L982.2 522.4L980 518.2L978 514.5L976.1 511L974.2 507.4L972.3 503.6L970.2 499.4L968.1 495.2L966 490.9L964 486.6L962 482.3L960.2 477.9L958.5 473.6L956.8 469.1L955.2 464.6L953.6 460L952 455.3L950.3 450.6L948.4 445.8L946.5 440.9L944.6 436L942.7 431.3L940.9 426.8L939.3 422.7L937.9 419.1L936.7 415.9L935.6 412.9L934.6 410L933.6 407.1L932.5 404.1Z" fill="#252529"/>
<path d="M1083.7 350.1L1086 354.9L1088.3 359.7L1090.6 364.5L1093 369.4L1095.3 374.2L1097.7 379L1100.1 383.7L1102.6 388.4L1105 393L1107.6 397.6L1110.1 402.3L1112.8 406.9L1115.5 411.5L1118.1 416.1L1120.9 420.6L1123.8 425.2L1126.8 430L1130 434.9L1133.5 440.1L1137.2 445.4L1141 450.9L1144.9 456.3L1148.8 461.8L1152.6 467.1L1156.2 472.3L1159.8 477.3L1163.3 482.3L1167 487.4L1170.7 492.6L1174.7 498.1L1178.9 503.9L1183.3 510L1187.9 516.2L1192.5 522.6L1197.1 528.9L1201.7 535.1L1206.3 541.3L1210.8 547.6L1215.4 553.9L1220 560.2L1224.6 566.4L1229.1 572.5L1233.6 578.4L1238.1 584.2L1242.5 590L1246.9 595.7L1251.3 601.4L1255.8 607.1L1260.2 612.9L1264.7 618.7L1269.1 624.6L1273.6 630.4L1278.1 636.2L1282.6 641.8L1287 647.4L1291.5 652.8L1295.9 658.1L1300.4 663.4L1304.8 668.6L1309.3 673.9L1313.7 679.2L1318.2 684.6L1322.6 690L1327.1 695.3L1331.6 700.6L1336.1 705.8L1340.6 710.9L1345.1 715.9L1349.5 720.7L1354 725.6L1358.4 730.4L1362.7 735.2L1367 740.2L1371.2 745.1L1375.5 750.1L1379.7 755.2L1383.9 760.2L1388.2 765.2L1395.8 758.8L1391.6 753.8L1387.4 748.7L1383.2 743.7L1378.9 738.6L1374.6 733.6L1370.3 728.6L1365.9 723.6L1361.5 718.7L1357 713.9L1352.6 709L1348.1 704.1L1343.7 699.2L1339.3 694L1334.9 688.8L1330.5 683.4L1326 678.1L1321.6 672.7L1317.1 667.3L1312.7 662L1308.3 656.7L1303.9 651.5L1299.4 646.2L1295 640.8L1290.6 635.4L1286.2 629.8L1281.8 624.1L1277.4 618.3L1272.9 612.4L1268.5 606.5L1264 600.7L1259.6 595L1255.2 589.3L1250.8 583.6L1246.4 577.8L1242 572L1237.5 566.1L1233 560.1L1228.5 553.9L1223.9 547.7L1219.4 541.4L1214.8 535.1L1210.3 528.9L1205.7 522.6L1201.1 516.3L1196.5 510L1191.9 503.7L1187.5 497.7L1183.3 491.9L1179.4 486.4L1175.7 481.2L1172.1 476.1L1168.6 471.1L1165 466.1L1161.4 460.9L1157.6 455.5L1153.7 450.1L1149.8 444.6L1146 439.2L1142.4 434L1139 428.9L1135.9 424.1L1132.9 419.5L1130.2 414.9L1127.5 410.5L1124.8 406L1122.2 401.5L1119.6 396.9L1117.1 392.4L1114.7 387.8L1112.3 383.3L1109.9 378.7L1107.5 374L1105.1 369.3L1102.8 364.6L1100.5 359.8L1098.3 355L1096 350.1L1093.7 345.3Z" fill="#252529"/>
<path d="M1254.8 318.8L1256.9 321.9L1258.9 324.8L1260.9 327.7L1263 330.8L1265.5 334.5L1268.6 339L1272.3 344.6L1276.5 350.9L1281.1 357.9L1285.9 365.1L1290.8 372.4L1295.5 379.5L1300.1 386.4L1304.8 393.5L1309.4 400.7L1314.2 407.8L1318.9 414.9L1323.6 422L1328.3 429L1333 436.2L1337.8 443.3L1342.5 450.3L1347.2 456.9L1351.7 463.1L1355.9 468.8L1360 473.9L1364 478.6L1367.9 483.2L1371.8 487.8L1375.9 492.6L1380.2 497.8L1384.6 503.1L1389 508.4L1393.6 513.8L1398.1 519.2L1402.5 524.6L1407 529.9L1411.4 535.3L1415.9 540.7L1420.4 546.1L1424.9 551.4L1429.4 556.6L1433.9 561.7L1438.3 566.7L1442.8 571.5L1447.2 576.3L1451.7 581.1L1456.1 586L1460.6 590.9L1465.1 595.8L1469.5 600.7L1474 605.6L1478.5 610.5L1482.9 615.2L1487.2 619.9L1491.4 624.5L1495.7 629.1L1499.9 633.6L1504.2 638L1508.6 642.4L1513 646.7L1517.4 650.9L1521.9 655.1L1526.3 659.1L1530.8 663.1L1535.4 667.1L1539.9 671L1544.4 674.7L1548.9 678.4L1553.5 682.1L1558.2 685.8L1563.1 689.7L1568.3 693.7L1573.7 698L1579.2 702.2L1584.8 706.5L1590.4 710.7L1595.8 714.7L1601 718.5L1606.1 722.3L1611.2 725.9L1616.3 729.5L1621.4 732.9L1626.6 736.3L1631.8 739.6L1637.1 742.7L1642.3 745.7L1647.6 748.7L1652.8 751.5L1657.9 754.3L1662.9 757L1667.9 759.6L1672.9 762.1L1677.8 764.6L1682.8 767L1687.7 769.3L1692.7 771.7L1697.7 773.9L1702.7 776.2L1707.7 778.4L1712.7 780.5L1717.7 782.7L1722.7 784.9L1727.7 787L1732.7 789.1L1737.7 791.2L1742.7 793.3L1747.7 795.3L1752.6 797.5L1757.6 799.6L1762.6 801.8L1767.6 803.9L1772.6 806L1777.6 808L1782.7 809.9L1787.7 811.7L1792.7 813.4L1797.7 815L1802.7 816.7L1807.7 818.4L1810.3 810.8L1805.3 809.1L1800.3 807.4L1795.3 805.7L1790.4 804L1785.5 802.2L1780.6 800.4L1775.7 798.4L1770.8 796.3L1765.8 794.2L1760.9 792L1755.9 789.8L1750.9 787.7L1746 785.5L1741 783.4L1736 781.3L1731 779.2L1726.1 777.1L1721.1 774.9L1716.1 772.7L1711.2 770.5L1706.2 768.3L1701.3 766.1L1696.4 763.8L1691.5 761.5L1686.6 759.1L1681.7 756.7L1676.9 754.3L1672 751.8L1667.1 749.2L1662.1 746.5L1657 743.7L1651.9 740.9L1646.8 738L1641.6 735L1636.5 731.9L1631.4 728.7L1626.4 725.4L1621.5 722L1616.5 718.5L1611.5 714.9L1606.4 711.1L1601.2 707.3L1595.9 703.3L1590.4 699.1L1584.9 694.9L1579.4 690.6L1574 686.4L1568.9 682.3L1564 678.4L1559.4 674.7L1554.9 671.1L1550.4 667.4L1546 663.7L1541.6 659.9L1537.2 656L1532.8 652L1528.4 648L1524 643.9L1519.7 639.8L1515.4 635.6L1511.2 631.3L1507 626.9L1502.8 622.4L1498.7 617.9L1494.4 613.2L1490.1 608.6L1485.8 603.8L1481.3 599L1476.9 594.1L1472.4 589.1L1468 584.2L1463.5 579.2L1459.1 574.4L1454.6 569.5L1450.2 564.7L1445.8 559.9L1441.4 555L1437 550L1432.6 544.8L1428.2 539.6L1423.8 534.2L1419.3 528.8L1414.9 523.4L1410.5 518L1406 512.6L1401.5 507.2L1397 501.8L1392.6 496.4L1388.2 491.2L1383.9 486L1379.8 481L1375.8 476.4L1372 471.8L1368.2 467.2L1364.3 462.3L1360.1 456.9L1355.8 450.8L1351.3 444.3L1346.6 437.4L1341.9 430.3L1337.1 423.1L1332.4 416L1327.8 409L1323.1 401.9L1318.4 394.8L1313.8 387.6L1309.1 380.5L1304.5 373.5L1299.8 366.4L1295 359.1L1290.2 351.9L1285.6 344.9L1281.3 338.5L1277.6 333L1274.6 328.4L1272.1 324.7L1269.9 321.5L1267.9 318.6L1266 315.7L1263.8 312.6Z" fill="#252529"/>
<path d="M12 719C44.7 718.8 67 718.6 110 718.3C153 718 221.7 717.6 270 717.3C318.3 716.9 355 716.5 400 716.2C445 716 500 715.6 540 715.8C580 716 606.7 716.7 640 717.5C673.3 718.3 709.2 719.7 740 720.4C770.8 721.1 796.7 721 825 721.5C853.3 722 881.5 722.6 910 723.5C938.5 724.4 967.5 725.4 996 727C1024.5 728.6 1057 731.3 1081 733C1105 734.7 1119.2 735.6 1140 737.4C1160.8 739.2 1177.2 740.9 1206 743.8C1234.8 746.6 1281.8 751.2 1313 754.5C1344.2 757.8 1361.8 760.3 1393 763.8C1424.2 767.3 1465.5 771.8 1500 775.5C1534.5 779.2 1573.3 782.8 1600 786C1626.7 789.2 1640.2 791.5 1660 794.5C1679.8 797.5 1701.7 801.2 1719 804C1736.3 806.8 1749 809.2 1764 811C1779 812.8 1796.5 813 1809 814.6C1821.5 816.2 1827.2 818.4 1839 820.6C1850.8 822.8 1864.8 825.4 1880 828C1895.2 830.6 1911.5 833.3 1930 836.5C1948.5 839.7 1970.7 843.5 1991 847" fill="none" stroke="#231f20" stroke-width="5.2"/>
<line x1="836.7" y1="704.3" x2="815.6" y2="654.8" stroke="#231f20" stroke-width="4.2" stroke-linecap="butt"/>
<path d="M815.4 654.3L837 668.5L833.8 672.5L819.1 663.1Z" fill="#231f20"/>
<line x1="570" y1="704.5" x2="552.1" y2="653.1" stroke="#231f20" stroke-width="4.2" stroke-linecap="butt"/>
<path d="M551.9 652.6L572.8 668L569.4 671.8L555.1 661.6Z" fill="#231f20"/>
<line x1="1100.3" y1="701.2" x2="1065.2" y2="658.5" stroke="#231f20" stroke-width="4.2" stroke-linecap="butt"/>
<path d="M1064.9 658.1L1089.7 666.8L1087.5 671.6L1070.9 665.5Z" fill="#231f20"/>
<line x1="1362.5" y1="699.9" x2="1325.2" y2="661.2" stroke="#231f20" stroke-width="4.2" stroke-linecap="butt"/>
<path d="M1324.9 660.8L1351.3 666.7L1349.7 671.7L1331.4 667.7Z" fill="#231f20"/>
<line x1="1603.7" y1="698.2" x2="1555.8" y2="668.1" stroke="#231f20" stroke-width="4.2" stroke-linecap="butt"/>
<path d="M1555.4 667.8L1583.6 668.7L1583 673.9L1563.4 672.9Z" fill="#231f20"/>
<line x1="116.3" y1="774.2" x2="383.6" y2="773.8" stroke="#231f20" stroke-width="11.2" stroke-linecap="butt"/>
<path d="M426.6 773.7L369 751.3L380 773.8L369 796.3Z" fill="#231f20"/>
<line x1="752.5" y1="773.8" x2="1045.6" y2="787" stroke="#231f20" stroke-width="11.2" stroke-linecap="butt"/>
<path d="M1088.6 788.9L1032.1 763.8L1042 786.8L1030 808.8Z" fill="#231f20"/>
<line x1="1395" y1="817" x2="1667.9" y2="850.9" stroke="#231f20" stroke-width="11.2" stroke-linecap="butt"/>
<path d="M1710.6 856.2L1656.2 826.8L1664.4 850.5L1650.7 871.4Z" fill="#231f20"/>
<text x="1599.7" y="453.1" font-size="43" fill="#fff" textLength="167.9" lengthAdjust="spacingAndGlyphs" font-style="italic">Backstop</text>
<text x="1109.3" y="562.6" font-size="43" fill="#fff" textLength="93.7" lengthAdjust="spacingAndGlyphs" font-style="italic">Older</text>
<text x="1225" y="562.6" font-size="43" fill="#fff" textLength="124.2" lengthAdjust="spacingAndGlyphs" font-style="italic">wedge</text>
<text x="1152" y="617.2" font-size="43" fill="#fff" textLength="154.6" lengthAdjust="spacingAndGlyphs" font-style="italic">material</text>
<text x="1208.8" y="930.3" font-size="43" fill="#fff" textLength="100.3" lengthAdjust="spacingAndGlyphs" font-style="italic">Older</text>
<text x="1150.2" y="985.3" font-size="43" fill="#fff" textLength="217.5" lengthAdjust="spacingAndGlyphs" font-style="italic">thrust faults</text>
<line x1="1096" y1="720.8" x2="1194.6" y2="865.1" stroke="#fff" stroke-width="3" stroke-linecap="butt"/>
<line x1="1358.2" y1="737.2" x2="1303.8" y2="867.8" stroke="#fff" stroke-width="3" stroke-linecap="butt"/>
<text x="78.9" y="549" font-size="43" fill="#fff" textLength="367.8" lengthAdjust="spacingAndGlyphs" font-style="italic">Packages of stacked</text>
<text x="101.3" y="603.9" font-size="43" fill="#fff" textLength="322.5" lengthAdjust="spacingAndGlyphs" font-style="italic">MTDs &amp; turbidites</text>
<line x1="126.1" y1="70" x2="42" y2="70" stroke="#231f20" stroke-width="4" stroke-linecap="butt"/>
<path d="M28 70L49 78.3L43.5 70L49 61.7Z" fill="#231f20"/>
<line x1="395.5" y1="70" x2="480.6" y2="70" stroke="#231f20" stroke-width="4" stroke-linecap="butt"/>
<path d="M494.6 70L473.6 61.7L479.1 70L473.6 78.3Z" fill="#231f20"/>
<line x1="689.5" y1="70" x2="511.6" y2="70" stroke="#231f20" stroke-width="4" stroke-linecap="butt"/>
<path d="M497.6 70L518.6 78.3L513.1 70L518.6 61.7Z" fill="#231f20"/>
<line x1="1094.1" y1="70" x2="1257.3" y2="70" stroke="#231f20" stroke-width="4" stroke-linecap="butt"/>
<path d="M1271.3 70L1250.3 61.7L1255.8 70L1250.3 78.3Z" fill="#231f20"/>
<text x="138.1" y="87" font-size="44.5" fill="#231f20" textLength="248.1" lengthAdjust="spacingAndGlyphs">Abyssal plain</text>
<text x="696.3" y="87" font-size="44.5" fill="#231f20" textLength="380.3" lengthAdjust="spacingAndGlyphs">Accretionary wedge</text>
<text x="143.7" y="161.7" font-size="43" fill="#231f20" textLength="263.8" lengthAdjust="spacingAndGlyphs" font-style="italic">Turbidity flows</text>
<text x="126.1" y="216.9" font-size="43" fill="#231f20" textLength="297.4" lengthAdjust="spacingAndGlyphs" font-style="italic">from local MTDs</text>
<text x="110.1" y="271.7" font-size="43" fill="#231f20" textLength="336.7" lengthAdjust="spacingAndGlyphs" font-style="italic">and failures above</text>
<text x="392.8" y="331.5" font-size="43" fill="#231f20" textLength="103.1" lengthAdjust="spacingAndGlyphs" font-style="italic">MTDs</text>
<text x="524.7" y="243.4" font-size="43" fill="#231f20" textLength="246.5" lengthAdjust="spacingAndGlyphs" font-style="italic">Failure scarps</text>
<line x1="228.4" y1="283.7" x2="182.6" y2="391.4" stroke="#231f20" stroke-width="3" stroke-linecap="butt"/>
<line x1="317.9" y1="279.2" x2="383.8" y2="425.5" stroke="#231f20" stroke-width="3" stroke-linecap="butt"/>
<line x1="449.8" y1="339.5" x2="478.3" y2="428.7" stroke="#231f20" stroke-width="3" stroke-linecap="butt"/>
<line x1="559.9" y1="250.3" x2="551.8" y2="412.1" stroke="#231f20" stroke-width="3" stroke-linecap="butt"/>
<line x1="698" y1="255.4" x2="777" y2="378.5" stroke="#231f20" stroke-width="3" stroke-linecap="butt"/>
<line x1="777.1" y1="242.6" x2="943.9" y2="348.1" stroke="#231f20" stroke-width="3" stroke-linecap="butt"/>
<line x1="554.3" y1="698.9" x2="481" y2="846" stroke="#fff" stroke-width="3" stroke-linecap="butt"/>
<text x="396.3" y="889" font-size="43" fill="#fff" textLength="262.7" lengthAdjust="spacingAndGlyphs" font-style="italic">Primary active</text>
<text x="426.1" y="943.8" font-size="43" fill="#fff" textLength="203" lengthAdjust="spacingAndGlyphs" font-style="italic">thrust fault</text>
<rect x="12" y="10.5" width="1979" height="1010.2" fill="none" stroke="#231f20" stroke-width="6"/>
<rect x="10.7" y="9.2" width="37.6" height="37.4" fill="#fff" stroke="#000" stroke-width="3.4"/>
<text x="17.8" y="45.6" font-size="49" fill="#000" textLength="25.6" lengthAdjust="spacingAndGlyphs" stroke="#000" stroke-width="1.2" font-weight="bold">B</text>
</g>
</svg></body></html>
